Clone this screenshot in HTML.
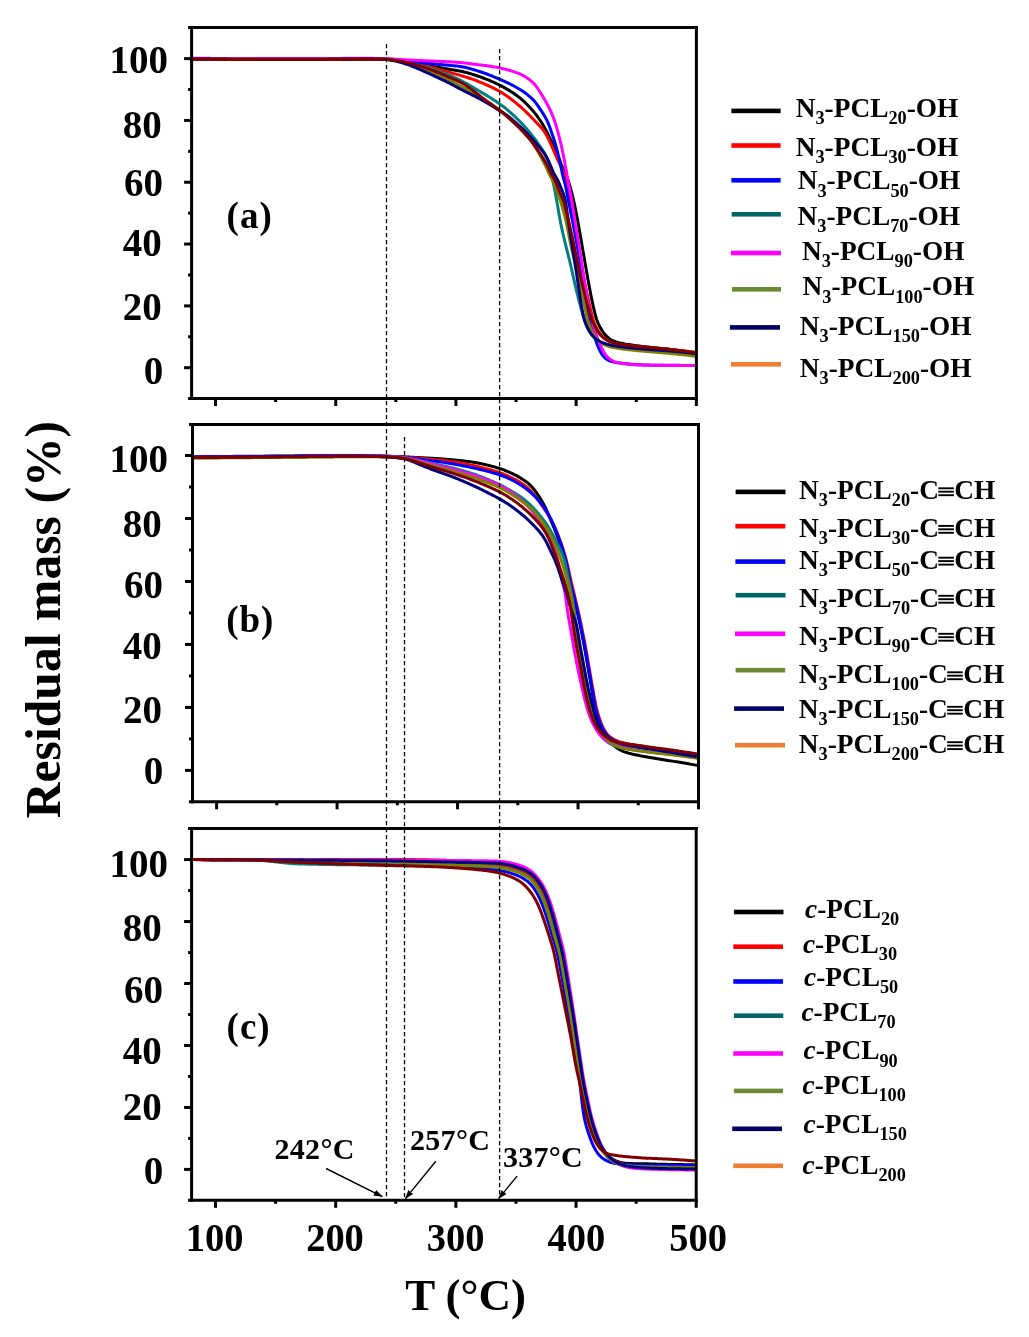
<!DOCTYPE html>
<html><head><meta charset="utf-8"><title>TGA</title>
<style>html,body{margin:0;padding:0;background:#fff;}svg{display:block;will-change:transform;}text{font-family:"Liberation Serif",serif;font-weight:bold;fill:#000;}</style>
</head><body>
<svg width="1029" height="1337" viewBox="0 0 1029 1337">
<rect width="1029" height="1337" fill="#fff"/>
<clipPath id="cla"><rect x="193" y="29" width="502" height="368"/></clipPath>
<g clip-path="url(#cla)" fill="none" stroke-width="3.0" stroke-linejoin="round">
<path d="M192.00,58.90 L193.50,58.91 L195.00,58.91 L196.50,58.92 L198.00,58.93 L199.50,58.93 L201.00,58.94 L202.50,58.94 L204.00,58.95 L205.50,58.96 L207.00,58.96 L208.50,58.97 L210.00,58.97 L211.50,58.98 L213.00,58.98 L214.50,58.99 L216.00,58.99 L217.50,59.00 L219.00,59.00 L220.50,59.01 L222.00,59.01 L223.50,59.01 L225.00,59.02 L226.50,59.02 L228.00,59.03 L229.50,59.03 L231.00,59.03 L232.50,59.04 L234.00,59.04 L235.50,59.04 L237.00,59.05 L238.50,59.05 L240.00,59.05 L241.50,59.05 L243.00,59.06 L244.50,59.06 L246.00,59.06 L247.50,59.06 L249.00,59.07 L250.50,59.07 L252.00,59.07 L253.50,59.07 L255.00,59.08 L256.50,59.08 L258.00,59.08 L259.50,59.08 L261.00,59.08 L262.50,59.08 L264.00,59.08 L265.50,59.09 L267.00,59.09 L268.50,59.09 L270.00,59.09 L271.50,59.09 L273.00,59.09 L274.50,59.09 L276.00,59.09 L277.50,59.09 L279.00,59.10 L280.50,59.10 L282.00,59.10 L283.50,59.10 L285.00,59.10 L286.50,59.10 L288.00,59.10 L289.50,59.10 L291.00,59.10 L292.50,59.10 L294.00,59.10 L295.50,59.10 L297.00,59.10 L298.50,59.10 L300.00,59.10 L301.50,59.10 L303.00,59.10 L304.50,59.10 L306.00,59.09 L307.50,59.09 L309.00,59.09 L310.50,59.09 L312.00,59.08 L313.50,59.08 L315.00,59.08 L316.50,59.07 L318.00,59.07 L319.50,59.06 L321.00,59.06 L322.50,59.05 L324.00,59.05 L325.50,59.04 L327.00,59.04 L328.50,59.03 L330.00,59.02 L331.50,59.02 L333.00,59.01 L334.50,59.01 L336.00,59.00 L337.50,58.99 L339.00,58.99 L340.50,58.98 L342.00,58.98 L343.50,58.97 L345.00,58.96 L346.50,58.96 L348.00,58.95 L349.50,58.95 L351.00,58.94 L352.50,58.94 L354.00,58.93 L355.50,58.93 L357.00,58.92 L358.50,58.92 L360.00,58.92 L361.50,58.91 L363.00,58.91 L364.50,58.91 L366.00,58.91 L367.50,58.90 L369.00,58.90 L370.50,58.90 L372.00,58.91 L373.50,58.91 L375.00,58.92 L376.50,58.93 L378.00,58.94 L379.50,58.96 L381.00,58.99 L382.50,59.04 L384.00,59.09 L385.49,59.17 L386.99,59.26 L388.49,59.37 L389.98,59.50 L391.47,59.65 L392.96,59.82 L394.45,60.01 L395.93,60.21 L397.42,60.42 L398.90,60.63 L400.39,60.84 L401.87,61.06 L403.36,61.27 L404.84,61.48 L406.33,61.69 L407.81,61.91 L409.30,62.12 L410.78,62.34 L412.26,62.56 L413.75,62.79 L415.23,63.03 L416.71,63.27 L418.19,63.52 L419.66,63.78 L421.14,64.05 L422.61,64.33 L424.08,64.62 L425.55,64.91 L427.02,65.21 L428.49,65.52 L429.96,65.82 L431.43,66.11 L432.91,66.40 L434.38,66.69 L435.85,66.97 L437.33,67.24 L438.80,67.51 L440.28,67.77 L441.76,68.04 L443.23,68.29 L444.71,68.55 L446.19,68.80 L447.67,69.04 L449.15,69.28 L450.63,69.52 L452.11,69.75 L453.60,69.98 L455.08,70.21 L456.56,70.45 L458.04,70.70 L459.51,70.98 L460.98,71.27 L462.45,71.59 L463.90,71.93 L465.36,72.29 L466.81,72.67 L468.25,73.07 L469.69,73.49 L471.13,73.92 L472.57,74.36 L474.00,74.80 L475.43,75.26 L476.85,75.73 L478.27,76.21 L479.69,76.70 L481.10,77.20 L482.51,77.72 L483.91,78.24 L485.31,78.78 L486.71,79.33 L488.10,79.89 L489.49,80.46 L490.87,81.05 L492.25,81.64 L493.62,82.25 L494.98,82.88 L496.34,83.51 L497.69,84.17 L499.03,84.83 L500.37,85.51 L501.70,86.20 L503.02,86.91 L504.34,87.62 L505.65,88.35 L506.95,89.10 L508.24,89.86 L509.52,90.64 L510.79,91.44 L512.05,92.25 L513.30,93.08 L514.53,93.93 L515.76,94.80 L516.97,95.68 L518.17,96.58 L519.35,97.50 L520.51,98.45 L521.66,99.41 L522.79,100.40 L523.89,101.41 L524.98,102.44 L526.05,103.49 L527.11,104.55 L528.15,105.63 L529.18,106.72 L530.20,107.82 L531.21,108.93 L532.21,110.05 L533.19,111.18 L534.16,112.32 L535.11,113.48 L536.05,114.65 L536.96,115.84 L537.86,117.04 L538.73,118.26 L539.58,119.49 L540.41,120.74 L541.22,122.00 L542.01,123.28 L542.78,124.57 L543.53,125.86 L544.27,127.16 L545.00,128.48 L545.71,129.79 L546.41,131.12 L547.10,132.45 L547.78,133.79 L548.46,135.13 L549.13,136.47 L549.80,137.81 L550.46,139.16 L551.11,140.51 L551.76,141.86 L552.38,143.22 L553.00,144.59 L553.60,145.97 L554.19,147.35 L554.77,148.73 L555.36,150.11 L555.94,151.49 L556.52,152.88 L557.09,154.26 L557.67,155.64 L558.25,157.03 L558.82,158.41 L559.39,159.80 L559.96,161.19 L560.53,162.58 L561.10,163.96 L561.68,165.35 L562.26,166.73 L562.84,168.11 L563.44,169.49 L564.04,170.86 L564.65,172.23 L565.26,173.60 L565.87,174.98 L566.46,176.35 L567.05,177.73 L567.61,179.12 L568.14,180.52 L568.64,181.93 L569.11,183.36 L569.56,184.79 L569.98,186.22 L570.39,187.67 L570.79,189.11 L571.17,190.56 L571.55,192.01 L571.91,193.47 L572.27,194.92 L572.63,196.38 L572.98,197.84 L573.32,199.30 L573.66,200.76 L573.99,202.23 L574.31,203.69 L574.63,205.16 L574.94,206.62 L575.24,208.09 L575.54,209.56 L575.83,211.03 L576.12,212.51 L576.41,213.98 L576.69,215.45 L576.97,216.92 L577.25,218.40 L577.53,219.87 L577.80,221.35 L578.07,222.82 L578.34,224.30 L578.61,225.77 L578.87,227.25 L579.13,228.73 L579.39,230.21 L579.65,231.68 L579.90,233.16 L580.16,234.64 L580.41,236.12 L580.67,237.60 L580.92,239.07 L581.18,240.55 L581.43,242.03 L581.69,243.51 L581.95,244.99 L582.21,246.46 L582.47,247.94 L582.72,249.42 L582.98,250.90 L583.24,252.37 L583.50,253.85 L583.76,255.33 L584.02,256.81 L584.28,258.28 L584.53,259.76 L584.79,261.24 L585.05,262.72 L585.31,264.19 L585.56,265.67 L585.82,267.15 L586.07,268.63 L586.33,270.11 L586.58,271.59 L586.84,273.06 L587.09,274.54 L587.35,276.02 L587.61,277.50 L587.87,278.97 L588.13,280.45 L588.40,281.93 L588.67,283.40 L588.94,284.88 L589.21,286.35 L589.49,287.83 L589.77,289.30 L590.05,290.77 L590.33,292.25 L590.62,293.72 L590.91,295.19 L591.20,296.66 L591.50,298.13 L591.80,299.60 L592.11,301.07 L592.42,302.54 L592.74,304.00 L593.06,305.47 L593.39,306.93 L593.72,308.40 L594.05,309.86 L594.40,311.32 L594.75,312.77 L595.12,314.23 L595.50,315.68 L595.92,317.12 L596.36,318.55 L596.84,319.96 L597.37,321.36 L597.93,322.75 L598.54,324.12 L599.19,325.47 L599.87,326.80 L600.60,328.11 L601.36,329.39 L602.15,330.66 L602.99,331.90 L603.86,333.11 L604.79,334.28 L605.77,335.40 L606.81,336.45 L607.92,337.45 L609.08,338.36 L610.30,339.21 L611.57,339.97 L612.89,340.64 L614.25,341.23 L615.65,341.75 L617.07,342.21 L618.51,342.60 L619.96,342.96 L621.43,343.28 L622.90,343.58 L624.37,343.86 L625.85,344.12 L627.33,344.36 L628.81,344.59 L630.29,344.82 L631.78,345.03 L633.26,345.23 L634.75,345.43 L636.23,345.63 L637.72,345.83 L639.21,346.02 L640.70,346.21 L642.19,346.39 L643.67,346.58 L645.16,346.76 L646.65,346.93 L648.14,347.11 L649.63,347.28 L651.12,347.44 L652.62,347.61 L654.11,347.76 L655.60,347.92 L657.09,348.07 L658.58,348.21 L660.08,348.36 L661.57,348.50 L663.06,348.65 L664.56,348.80 L666.05,348.95 L667.54,349.11 L669.03,349.28 L670.52,349.45 L672.01,349.63 L673.50,349.82 L674.98,350.01 L676.47,350.21 L677.96,350.41 L679.44,350.62 L680.93,350.84 L682.41,351.06 L683.89,351.28 L685.38,351.51 L686.86,351.75 L688.34,351.99 L689.82,352.23 L691.30,352.48 L692.78,352.74 L694.25,352.99 L695.73,353.25" stroke="#000000"/>
<path d="M192.00,58.90 L193.50,58.91 L195.00,58.91 L196.50,58.92 L198.00,58.93 L199.50,58.93 L201.00,58.94 L202.50,58.94 L204.00,58.95 L205.50,58.96 L207.00,58.96 L208.50,58.97 L210.00,58.97 L211.50,58.98 L213.00,58.98 L214.50,58.99 L216.00,58.99 L217.50,59.00 L219.00,59.00 L220.50,59.01 L222.00,59.01 L223.50,59.01 L225.00,59.02 L226.50,59.02 L228.00,59.03 L229.50,59.03 L231.00,59.03 L232.50,59.04 L234.00,59.04 L235.50,59.04 L237.00,59.05 L238.50,59.05 L240.00,59.05 L241.50,59.05 L243.00,59.06 L244.50,59.06 L246.00,59.06 L247.50,59.06 L249.00,59.07 L250.50,59.07 L252.00,59.07 L253.50,59.07 L255.00,59.08 L256.50,59.08 L258.00,59.08 L259.50,59.08 L261.00,59.08 L262.50,59.08 L264.00,59.08 L265.50,59.09 L267.00,59.09 L268.50,59.09 L270.00,59.09 L271.50,59.09 L273.00,59.09 L274.50,59.09 L276.00,59.09 L277.50,59.09 L279.00,59.10 L280.50,59.10 L282.00,59.10 L283.50,59.10 L285.00,59.10 L286.50,59.10 L288.00,59.10 L289.50,59.10 L291.00,59.10 L292.50,59.10 L294.00,59.10 L295.50,59.10 L297.00,59.10 L298.50,59.10 L300.00,59.10 L301.50,59.10 L303.00,59.10 L304.50,59.10 L306.00,59.09 L307.50,59.09 L309.00,59.09 L310.50,59.09 L312.00,59.08 L313.50,59.08 L315.00,59.08 L316.50,59.07 L318.00,59.07 L319.50,59.06 L321.00,59.06 L322.50,59.05 L324.00,59.05 L325.50,59.04 L327.00,59.04 L328.50,59.03 L330.00,59.02 L331.50,59.02 L333.00,59.01 L334.50,59.01 L336.00,59.00 L337.50,58.99 L339.00,58.99 L340.50,58.98 L342.00,58.98 L343.50,58.97 L345.00,58.96 L346.50,58.96 L348.00,58.95 L349.50,58.95 L351.00,58.94 L352.50,58.94 L354.00,58.93 L355.50,58.93 L357.00,58.92 L358.50,58.92 L360.00,58.92 L361.50,58.91 L363.00,58.91 L364.50,58.91 L366.00,58.91 L367.50,58.90 L369.00,58.90 L370.50,58.90 L372.00,58.91 L373.50,58.91 L375.00,58.92 L376.50,58.93 L378.00,58.94 L379.50,58.96 L381.00,58.99 L382.50,59.04 L384.00,59.09 L385.49,59.17 L386.99,59.26 L388.48,59.38 L389.98,59.52 L391.47,59.69 L392.95,59.87 L394.44,60.08 L395.92,60.30 L397.40,60.53 L398.88,60.77 L400.36,61.02 L401.84,61.26 L403.32,61.51 L404.80,61.76 L406.28,62.01 L407.76,62.26 L409.24,62.52 L410.71,62.79 L412.19,63.07 L413.66,63.35 L415.13,63.64 L416.60,63.94 L418.07,64.24 L419.54,64.56 L421.00,64.89 L422.46,65.23 L423.92,65.57 L425.38,65.93 L426.83,66.30 L428.28,66.67 L429.74,67.04 L431.19,67.42 L432.64,67.80 L434.09,68.19 L435.54,68.58 L436.99,68.96 L438.43,69.36 L439.88,69.75 L441.33,70.15 L442.77,70.55 L444.22,70.95 L445.66,71.35 L447.11,71.75 L448.55,72.15 L450.00,72.54 L451.45,72.94 L452.90,73.33 L454.35,73.72 L455.79,74.12 L457.24,74.51 L458.68,74.92 L460.12,75.34 L461.56,75.76 L463.00,76.19 L464.43,76.63 L465.87,77.07 L467.30,77.53 L468.72,77.99 L470.15,78.46 L471.57,78.94 L472.98,79.44 L474.39,79.94 L475.80,80.46 L477.20,80.99 L478.60,81.53 L480.00,82.09 L481.38,82.65 L482.77,83.23 L484.15,83.82 L485.52,84.42 L486.89,85.03 L488.26,85.65 L489.62,86.27 L490.98,86.91 L492.33,87.56 L493.68,88.22 L495.02,88.90 L496.35,89.59 L497.66,90.30 L498.97,91.03 L500.27,91.78 L501.56,92.56 L502.83,93.35 L504.09,94.16 L505.34,94.98 L506.58,95.82 L507.81,96.68 L509.03,97.55 L510.24,98.44 L511.44,99.34 L512.63,100.25 L513.81,101.18 L514.97,102.12 L516.13,103.08 L517.28,104.04 L518.42,105.02 L519.55,106.00 L520.68,106.99 L521.80,107.99 L522.91,108.99 L524.02,110.00 L525.12,111.02 L526.21,112.05 L527.29,113.09 L528.36,114.14 L529.42,115.21 L530.47,116.28 L531.51,117.36 L532.54,118.44 L533.57,119.53 L534.60,120.62 L535.64,121.71 L536.68,122.79 L537.72,123.87 L538.76,124.94 L539.80,126.03 L540.81,127.12 L541.80,128.25 L542.74,129.41 L543.63,130.60 L544.46,131.84 L545.26,133.10 L546.02,134.39 L546.75,135.70 L547.45,137.02 L548.14,138.36 L548.80,139.70 L549.46,141.05 L550.10,142.41 L550.72,143.77 L551.34,145.14 L551.95,146.51 L552.54,147.88 L553.13,149.26 L553.71,150.64 L554.29,152.03 L554.88,153.41 L555.47,154.79 L556.07,156.16 L556.68,157.53 L557.31,158.89 L557.95,160.25 L558.60,161.60 L559.25,162.95 L559.90,164.30 L560.55,165.65 L561.19,167.01 L561.81,168.38 L562.40,169.75 L562.97,171.14 L563.52,172.53 L564.06,173.93 L564.61,175.32 L565.16,176.71 L565.72,178.10 L566.25,179.49 L566.76,180.89 L567.22,182.31 L567.62,183.75 L567.98,185.20 L568.31,186.66 L568.60,188.13 L568.88,189.60 L569.15,191.08 L569.41,192.55 L569.67,194.03 L569.93,195.51 L570.19,196.99 L570.45,198.46 L570.72,199.94 L570.98,201.42 L571.25,202.89 L571.52,204.37 L571.78,205.84 L572.05,207.32 L572.31,208.80 L572.57,210.28 L572.83,211.75 L573.08,213.23 L573.34,214.71 L573.59,216.19 L573.84,217.67 L574.09,219.15 L574.34,220.62 L574.59,222.10 L574.83,223.58 L575.07,225.06 L575.31,226.55 L575.55,228.03 L575.79,229.51 L576.02,230.99 L576.26,232.47 L576.49,233.95 L576.73,235.43 L576.96,236.91 L577.20,238.40 L577.43,239.88 L577.67,241.36 L577.91,242.84 L578.15,244.32 L578.39,245.80 L578.63,247.28 L578.87,248.76 L579.11,250.24 L579.36,251.72 L579.60,253.20 L579.84,254.68 L580.09,256.16 L580.34,257.64 L580.58,259.12 L580.83,260.60 L581.08,262.08 L581.33,263.56 L581.58,265.04 L581.82,266.52 L582.07,268.00 L582.32,269.48 L582.57,270.96 L582.82,272.43 L583.08,273.91 L583.33,275.39 L583.59,276.87 L583.85,278.35 L584.12,279.82 L584.39,281.30 L584.67,282.77 L584.96,284.24 L585.25,285.71 L585.55,287.18 L585.86,288.65 L586.17,290.12 L586.49,291.58 L586.82,293.05 L587.15,294.51 L587.48,295.97 L587.82,297.43 L588.16,298.90 L588.50,300.36 L588.84,301.82 L589.18,303.28 L589.51,304.74 L589.85,306.20 L590.17,307.67 L590.50,309.13 L590.83,310.59 L591.15,312.06 L591.49,313.52 L591.84,314.98 L592.21,316.43 L592.61,317.87 L593.04,319.31 L593.51,320.73 L594.02,322.13 L594.57,323.52 L595.17,324.90 L595.80,326.25 L596.48,327.59 L597.18,328.91 L597.93,330.21 L598.71,331.48 L599.54,332.72 L600.41,333.93 L601.34,335.09 L602.33,336.20 L603.39,337.24 L604.51,338.20 L605.70,339.10 L606.94,339.91 L608.23,340.64 L609.56,341.30 L610.93,341.88 L612.33,342.40 L613.75,342.85 L615.19,343.26 L616.64,343.61 L618.10,343.93 L619.58,344.21 L621.05,344.47 L622.53,344.70 L624.02,344.91 L625.50,345.10 L626.99,345.29 L628.48,345.46 L629.97,345.62 L631.47,345.78 L632.96,345.94 L634.45,346.09 L635.94,346.24 L637.43,346.39 L638.93,346.54 L640.42,346.69 L641.91,346.83 L643.41,346.98 L644.90,347.12 L646.39,347.25 L647.89,347.39 L649.38,347.52 L650.88,347.65 L652.37,347.78 L653.86,347.91 L655.36,348.03 L656.85,348.16 L658.35,348.29 L659.84,348.42 L661.34,348.55 L662.83,348.69 L664.32,348.83 L665.82,348.97 L667.31,349.11 L668.80,349.26 L670.30,349.41 L671.79,349.56 L673.28,349.72 L674.77,349.88 L676.26,350.04 L677.75,350.21 L679.24,350.38 L680.73,350.55 L682.22,350.72 L683.71,350.89 L685.20,351.07 L686.69,351.25 L688.18,351.43 L689.67,351.61 L691.16,351.79 L692.65,351.98 L694.14,352.17 L695.62,352.35" stroke="#ff0000"/>
<path d="M192.00,58.40 L193.50,58.41 L195.00,58.41 L196.50,58.42 L198.00,58.43 L199.50,58.43 L201.00,58.44 L202.50,58.44 L204.00,58.45 L205.50,58.46 L207.00,58.46 L208.50,58.47 L210.00,58.47 L211.50,58.48 L213.00,58.48 L214.50,58.49 L216.00,58.49 L217.50,58.50 L219.00,58.50 L220.50,58.51 L222.00,58.51 L223.50,58.51 L225.00,58.52 L226.50,58.52 L228.00,58.53 L229.50,58.53 L231.00,58.53 L232.50,58.54 L234.00,58.54 L235.50,58.54 L237.00,58.55 L238.50,58.55 L240.00,58.55 L241.50,58.55 L243.00,58.56 L244.50,58.56 L246.00,58.56 L247.50,58.56 L249.00,58.57 L250.50,58.57 L252.00,58.57 L253.50,58.57 L255.00,58.58 L256.50,58.58 L258.00,58.58 L259.50,58.58 L261.00,58.58 L262.50,58.58 L264.00,58.58 L265.50,58.59 L267.00,58.59 L268.50,58.59 L270.00,58.59 L271.50,58.59 L273.00,58.59 L274.50,58.59 L276.00,58.59 L277.50,58.59 L279.00,58.60 L280.50,58.60 L282.00,58.60 L283.50,58.60 L285.00,58.60 L286.50,58.60 L288.00,58.60 L289.50,58.60 L291.00,58.60 L292.50,58.60 L294.00,58.60 L295.50,58.60 L297.00,58.60 L298.50,58.60 L300.00,58.60 L301.50,58.60 L303.00,58.60 L304.50,58.60 L306.00,58.59 L307.50,58.59 L309.00,58.59 L310.50,58.59 L312.00,58.58 L313.50,58.58 L315.00,58.58 L316.50,58.57 L318.00,58.57 L319.50,58.56 L321.00,58.56 L322.50,58.55 L324.00,58.55 L325.50,58.54 L327.00,58.54 L328.50,58.53 L330.00,58.52 L331.50,58.52 L333.00,58.51 L334.50,58.51 L336.00,58.50 L337.50,58.49 L339.00,58.49 L340.50,58.48 L342.00,58.48 L343.50,58.47 L345.00,58.46 L346.50,58.46 L348.00,58.45 L349.50,58.45 L351.00,58.44 L352.50,58.44 L354.00,58.43 L355.50,58.43 L357.00,58.42 L358.50,58.42 L360.00,58.42 L361.50,58.41 L363.00,58.41 L364.50,58.41 L366.00,58.41 L367.50,58.41 L369.00,58.41 L370.50,58.41 L372.00,58.43 L373.50,58.45 L375.00,58.48 L376.50,58.52 L378.00,58.57 L379.50,58.62 L380.99,58.68 L382.49,58.75 L383.99,58.82 L385.49,58.90 L386.99,59.00 L388.48,59.10 L389.98,59.21 L391.47,59.33 L392.97,59.46 L394.46,59.60 L395.95,59.74 L397.45,59.89 L398.94,60.04 L400.43,60.20 L401.92,60.35 L403.41,60.51 L404.90,60.67 L406.40,60.84 L407.89,61.01 L409.38,61.18 L410.87,61.35 L412.36,61.52 L413.85,61.70 L415.34,61.87 L416.83,62.05 L418.32,62.22 L419.81,62.39 L421.30,62.56 L422.79,62.73 L424.28,62.90 L425.77,63.06 L427.26,63.23 L428.75,63.39 L430.24,63.55 L431.73,63.71 L433.23,63.86 L434.72,64.01 L436.21,64.16 L437.70,64.30 L439.20,64.44 L440.69,64.57 L442.19,64.71 L443.68,64.84 L445.17,64.97 L446.67,65.10 L448.16,65.23 L449.66,65.36 L451.15,65.49 L452.64,65.62 L454.14,65.76 L455.63,65.90 L457.12,66.06 L458.61,66.24 L460.09,66.44 L461.57,66.68 L463.05,66.94 L464.52,67.24 L465.98,67.58 L467.43,67.93 L468.88,68.31 L470.33,68.71 L471.77,69.12 L473.21,69.54 L474.65,69.97 L476.08,70.40 L477.52,70.85 L478.94,71.31 L480.37,71.77 L481.79,72.25 L483.21,72.75 L484.62,73.25 L486.03,73.76 L487.43,74.28 L488.84,74.82 L490.24,75.35 L491.63,75.90 L493.02,76.46 L494.41,77.03 L495.79,77.61 L497.18,78.20 L498.55,78.79 L499.93,79.39 L501.30,79.99 L502.68,80.59 L504.05,81.20 L505.41,81.82 L506.78,82.45 L508.13,83.09 L509.48,83.74 L510.83,84.41 L512.16,85.09 L513.49,85.78 L514.81,86.49 L516.12,87.22 L517.42,87.96 L518.72,88.72 L520.00,89.50 L521.27,90.30 L522.52,91.12 L523.76,91.96 L524.99,92.82 L526.19,93.71 L527.38,94.62 L528.55,95.56 L529.69,96.53 L530.81,97.52 L531.90,98.54 L532.96,99.60 L533.98,100.69 L534.95,101.83 L535.88,102.99 L536.77,104.19 L537.63,105.42 L538.47,106.66 L539.30,107.91 L540.12,109.16 L540.95,110.41 L541.79,111.66 L542.61,112.91 L543.43,114.17 L544.22,115.44 L544.99,116.73 L545.72,118.03 L546.42,119.36 L547.08,120.70 L547.71,122.06 L548.30,123.43 L548.86,124.82 L549.39,126.22 L549.91,127.63 L550.41,129.04 L550.90,130.46 L551.39,131.88 L551.89,133.29 L552.38,134.71 L552.87,136.13 L553.35,137.55 L553.82,138.97 L554.27,140.40 L554.72,141.83 L555.15,143.27 L555.57,144.71 L555.98,146.15 L556.37,147.60 L556.75,149.05 L557.13,150.50 L557.49,151.96 L557.86,153.41 L558.22,154.87 L558.59,156.32 L558.95,157.78 L559.30,159.23 L559.65,160.69 L559.99,162.15 L560.31,163.62 L560.62,165.09 L560.92,166.56 L561.21,168.03 L561.50,169.50 L561.79,170.97 L562.08,172.44 L562.39,173.91 L562.72,175.36 L563.09,176.81 L563.48,178.26 L563.90,179.69 L564.31,181.13 L564.70,182.57 L565.08,184.02 L565.42,185.48 L565.75,186.94 L566.05,188.41 L566.35,189.88 L566.64,191.35 L566.92,192.83 L567.20,194.30 L567.48,195.77 L567.77,197.25 L568.05,198.72 L568.34,200.19 L568.64,201.66 L568.93,203.13 L569.23,204.60 L569.53,206.07 L569.82,207.54 L570.12,209.01 L570.41,210.48 L570.71,211.96 L571.00,213.43 L571.29,214.90 L571.58,216.37 L571.87,217.84 L572.16,219.31 L572.45,220.78 L572.74,222.26 L573.03,223.73 L573.31,225.20 L573.60,226.67 L573.88,228.15 L574.17,229.62 L574.45,231.09 L574.73,232.57 L575.01,234.04 L575.29,235.51 L575.56,236.99 L575.84,238.46 L576.11,239.94 L576.39,241.41 L576.66,242.89 L576.93,244.36 L577.20,245.84 L577.46,247.32 L577.73,248.79 L577.99,250.27 L578.26,251.74 L578.52,253.22 L578.78,254.70 L579.03,256.18 L579.29,257.66 L579.54,259.13 L579.79,260.61 L580.03,262.09 L580.27,263.57 L580.51,265.06 L580.74,266.54 L580.97,268.02 L581.19,269.50 L581.41,270.99 L581.63,272.47 L581.85,273.95 L582.07,275.44 L582.29,276.92 L582.51,278.41 L582.73,279.89 L582.95,281.37 L583.18,282.86 L583.41,284.34 L583.64,285.82 L583.87,287.30 L584.11,288.78 L584.35,290.26 L584.59,291.75 L584.83,293.23 L585.07,294.71 L585.32,296.19 L585.56,297.66 L585.81,299.14 L586.06,300.62 L586.31,302.10 L586.56,303.58 L586.81,305.06 L587.06,306.54 L587.30,308.02 L587.55,309.50 L587.80,310.98 L588.05,312.46 L588.31,313.93 L588.58,315.41 L588.85,316.88 L589.15,318.35 L589.46,319.82 L589.79,321.28 L590.14,322.74 L590.51,324.19 L590.89,325.64 L591.29,327.09 L591.70,328.53 L592.13,329.97 L592.56,331.41 L593.00,332.84 L593.46,334.27 L593.94,335.69 L594.44,337.10 L594.95,338.51 L595.48,339.91 L596.00,341.32 L596.54,342.72 L597.07,344.12 L597.62,345.51 L598.19,346.90 L598.78,348.28 L599.40,349.64 L600.06,350.98 L600.77,352.30 L601.52,353.59 L602.33,354.83 L603.21,356.02 L604.17,357.13 L605.22,358.14 L606.37,359.05 L607.59,359.83 L608.90,360.49 L610.26,361.04 L611.67,361.49 L613.11,361.86 L614.57,362.17 L616.04,362.44 L617.52,362.67 L619.01,362.89 L620.49,363.09 L621.98,363.27 L623.47,363.44 L624.96,363.61 L626.45,363.76 L627.94,363.91 L629.44,364.06 L630.93,364.19 L632.43,364.32 L633.92,364.43 L635.42,364.54 L636.91,364.63 L638.41,364.72 L639.91,364.80 L641.41,364.87 L642.91,364.93 L644.41,364.99 L645.90,365.04 L647.40,365.09 L648.90,365.12 L650.40,365.16 L651.90,365.18 L653.40,365.20 L654.90,365.22 L656.40,365.23 L657.90,365.24 L659.40,365.25 L660.90,365.26 L662.40,365.27 L663.90,365.28 L665.40,365.28 L666.90,365.29 L668.40,365.30 L669.90,365.31 L671.40,365.32 L672.90,365.33 L674.40,365.34 L675.90,365.35 L677.40,365.36 L678.90,365.37 L680.40,365.38 L681.90,365.39 L683.40,365.40 L684.90,365.41 L686.40,365.42 L687.90,365.43 L689.40,365.45 L690.90,365.46 L692.40,365.47 L693.90,365.48 L695.40,365.49" stroke="#0000ff"/>
<path d="M192.00,58.90 L193.50,58.91 L195.00,58.91 L196.50,58.92 L198.00,58.93 L199.50,58.93 L201.00,58.94 L202.50,58.94 L204.00,58.95 L205.50,58.96 L207.00,58.96 L208.50,58.97 L210.00,58.97 L211.50,58.98 L213.00,58.98 L214.50,58.99 L216.00,58.99 L217.50,59.00 L219.00,59.00 L220.50,59.01 L222.00,59.01 L223.50,59.01 L225.00,59.02 L226.50,59.02 L228.00,59.03 L229.50,59.03 L231.00,59.03 L232.50,59.04 L234.00,59.04 L235.50,59.04 L237.00,59.05 L238.50,59.05 L240.00,59.05 L241.50,59.05 L243.00,59.06 L244.50,59.06 L246.00,59.06 L247.50,59.06 L249.00,59.07 L250.50,59.07 L252.00,59.07 L253.50,59.07 L255.00,59.08 L256.50,59.08 L258.00,59.08 L259.50,59.08 L261.00,59.08 L262.50,59.08 L264.00,59.08 L265.50,59.09 L267.00,59.09 L268.50,59.09 L270.00,59.09 L271.50,59.09 L273.00,59.09 L274.50,59.09 L276.00,59.09 L277.50,59.09 L279.00,59.10 L280.50,59.10 L282.00,59.10 L283.50,59.10 L285.00,59.10 L286.50,59.10 L288.00,59.10 L289.50,59.10 L291.00,59.10 L292.50,59.10 L294.00,59.10 L295.50,59.10 L297.00,59.10 L298.50,59.10 L300.00,59.10 L301.50,59.10 L303.00,59.10 L304.50,59.10 L306.00,59.09 L307.50,59.09 L309.00,59.09 L310.50,59.09 L312.00,59.08 L313.50,59.08 L315.00,59.08 L316.50,59.07 L318.00,59.07 L319.50,59.06 L321.00,59.06 L322.50,59.05 L324.00,59.05 L325.50,59.04 L327.00,59.04 L328.50,59.03 L330.00,59.02 L331.50,59.02 L333.00,59.01 L334.50,59.01 L336.00,59.00 L337.50,58.99 L339.00,58.99 L340.50,58.98 L342.00,58.98 L343.50,58.97 L345.00,58.96 L346.50,58.96 L348.00,58.95 L349.50,58.95 L351.00,58.94 L352.50,58.94 L354.00,58.93 L355.50,58.93 L357.00,58.92 L358.50,58.92 L360.00,58.92 L361.50,58.91 L363.00,58.91 L364.50,58.91 L366.00,58.91 L367.50,58.90 L369.00,58.90 L370.50,58.90 L372.00,58.91 L373.50,58.91 L375.00,58.92 L376.50,58.93 L378.00,58.94 L379.50,58.96 L381.00,58.99 L382.50,59.04 L384.00,59.09 L385.49,59.17 L386.99,59.27 L388.48,59.39 L389.97,59.53 L391.46,59.70 L392.95,59.90 L394.43,60.12 L395.91,60.35 L397.39,60.60 L398.87,60.86 L400.35,61.12 L401.82,61.40 L403.30,61.67 L404.77,61.96 L406.24,62.25 L407.71,62.55 L409.18,62.86 L410.64,63.19 L412.10,63.52 L413.56,63.86 L415.02,64.21 L416.48,64.57 L417.93,64.94 L419.38,65.32 L420.83,65.71 L422.28,66.11 L423.72,66.51 L425.16,66.93 L426.60,67.36 L428.03,67.79 L429.47,68.24 L430.89,68.69 L432.32,69.16 L433.75,69.63 L435.17,70.11 L436.58,70.59 L438.00,71.09 L439.41,71.60 L440.82,72.12 L442.22,72.64 L443.63,73.17 L445.03,73.71 L446.42,74.26 L447.82,74.81 L449.21,75.36 L450.60,75.92 L451.99,76.49 L453.38,77.06 L454.76,77.64 L456.14,78.23 L457.51,78.85 L458.87,79.48 L460.22,80.13 L461.56,80.80 L462.89,81.49 L464.21,82.21 L465.51,82.94 L466.82,83.68 L468.11,84.44 L469.40,85.20 L470.69,85.97 L471.98,86.74 L473.27,87.51 L474.55,88.28 L475.84,89.04 L477.14,89.81 L478.43,90.57 L479.72,91.33 L481.01,92.10 L482.30,92.86 L483.59,93.63 L484.87,94.40 L486.16,95.18 L487.44,95.96 L488.71,96.74 L489.99,97.53 L491.26,98.33 L492.53,99.13 L493.79,99.94 L495.05,100.76 L496.30,101.58 L497.55,102.42 L498.79,103.26 L500.01,104.12 L501.23,105.00 L502.44,105.89 L503.64,106.79 L504.82,107.71 L506.00,108.64 L507.15,109.59 L508.30,110.56 L509.43,111.54 L510.55,112.54 L511.66,113.54 L512.77,114.56 L513.86,115.59 L514.95,116.62 L516.03,117.66 L517.10,118.71 L518.17,119.76 L519.22,120.83 L520.27,121.90 L521.31,122.98 L522.34,124.07 L523.36,125.17 L524.37,126.28 L525.38,127.39 L526.37,128.52 L527.35,129.65 L528.32,130.79 L529.29,131.94 L530.24,133.10 L531.19,134.26 L532.12,135.43 L533.05,136.62 L533.96,137.81 L534.85,139.01 L535.73,140.22 L536.60,141.45 L537.46,142.68 L538.31,143.91 L539.16,145.14 L540.01,146.38 L540.86,147.61 L541.71,148.85 L542.54,150.10 L543.35,151.36 L544.14,152.63 L544.88,153.93 L545.59,155.25 L546.26,156.59 L546.88,157.95 L547.47,159.32 L548.02,160.72 L548.53,162.12 L549.01,163.54 L549.44,164.97 L549.83,166.42 L550.16,167.88 L550.45,169.34 L550.69,170.82 L550.91,172.30 L551.12,173.77 L551.36,175.24 L551.64,176.70 L551.97,178.15 L552.35,179.58 L552.75,181.01 L553.15,182.45 L553.52,183.90 L553.86,185.35 L554.18,186.81 L554.48,188.28 L554.76,189.76 L555.03,191.23 L555.29,192.71 L555.55,194.19 L555.81,195.66 L556.08,197.14 L556.34,198.62 L556.60,200.09 L556.86,201.57 L557.13,203.05 L557.39,204.52 L557.64,206.00 L557.90,207.48 L558.15,208.96 L558.40,210.44 L558.65,211.92 L558.90,213.40 L559.16,214.87 L559.42,216.35 L559.68,217.83 L559.95,219.30 L560.23,220.78 L560.52,222.25 L560.81,223.72 L561.11,225.19 L561.42,226.66 L561.74,228.12 L562.06,229.59 L562.38,231.05 L562.71,232.52 L563.05,233.98 L563.39,235.44 L563.73,236.90 L564.07,238.36 L564.42,239.82 L564.77,241.28 L565.12,242.74 L565.47,244.19 L565.83,245.65 L566.19,247.11 L566.55,248.56 L566.92,250.02 L567.28,251.47 L567.65,252.93 L568.02,254.38 L568.39,255.83 L568.76,257.29 L569.12,258.74 L569.49,260.20 L569.84,261.65 L570.19,263.11 L570.54,264.57 L570.88,266.03 L571.22,267.50 L571.55,268.96 L571.88,270.42 L572.20,271.89 L572.53,273.35 L572.85,274.81 L573.17,276.28 L573.50,277.74 L573.83,279.21 L574.16,280.67 L574.49,282.13 L574.83,283.59 L575.17,285.06 L575.51,286.52 L575.86,287.97 L576.21,289.43 L576.56,290.89 L576.92,292.35 L577.27,293.81 L577.63,295.26 L578.00,296.72 L578.36,298.17 L578.73,299.63 L579.11,301.08 L579.49,302.53 L579.87,303.98 L580.26,305.43 L580.66,306.87 L581.05,308.32 L581.45,309.77 L581.86,311.21 L582.27,312.65 L582.70,314.09 L583.14,315.52 L583.60,316.95 L584.08,318.37 L584.58,319.78 L585.11,321.18 L585.66,322.58 L586.25,323.96 L586.86,325.33 L587.49,326.68 L588.15,328.03 L588.84,329.36 L589.55,330.68 L590.29,331.98 L591.06,333.26 L591.88,334.50 L592.76,335.71 L593.69,336.87 L594.68,337.97 L595.74,339.01 L596.87,339.98 L598.05,340.88 L599.28,341.71 L600.56,342.46 L601.88,343.14 L603.24,343.75 L604.63,344.30 L606.04,344.79 L607.47,345.23 L608.91,345.63 L610.37,345.98 L611.83,346.30 L613.30,346.58 L614.78,346.85 L616.26,347.09 L617.74,347.31 L619.22,347.53 L620.71,347.73 L622.20,347.93 L623.68,348.13 L625.17,348.31 L626.66,348.50 L628.15,348.68 L629.64,348.85 L631.13,349.02 L632.62,349.19 L634.11,349.35 L635.60,349.50 L637.10,349.65 L638.59,349.80 L640.08,349.94 L641.58,350.08 L643.07,350.22 L644.56,350.35 L646.06,350.48 L647.55,350.61 L649.05,350.73 L650.54,350.85 L652.04,350.97 L653.53,351.08 L655.03,351.20 L656.52,351.30 L658.02,351.41 L659.52,351.52 L661.01,351.62 L662.51,351.73 L664.01,351.83 L665.50,351.94 L667.00,352.06 L668.49,352.17 L669.99,352.30 L671.48,352.42 L672.98,352.55 L674.47,352.69 L675.96,352.83 L677.46,352.97 L678.95,353.11 L680.44,353.26 L681.94,353.41 L683.43,353.57 L684.92,353.73 L686.41,353.89 L687.90,354.06 L689.39,354.22 L690.88,354.39 L692.37,354.57 L693.86,354.74 L695.35,354.92" stroke="#008080"/>
<path d="M192.00,58.30 L193.50,58.31 L195.00,58.31 L196.50,58.32 L198.00,58.33 L199.50,58.33 L201.00,58.34 L202.50,58.34 L204.00,58.35 L205.50,58.36 L207.00,58.36 L208.50,58.37 L210.00,58.37 L211.50,58.38 L213.00,58.38 L214.50,58.39 L216.00,58.39 L217.50,58.40 L219.00,58.40 L220.50,58.41 L222.00,58.41 L223.50,58.41 L225.00,58.42 L226.50,58.42 L228.00,58.43 L229.50,58.43 L231.00,58.43 L232.50,58.44 L234.00,58.44 L235.50,58.44 L237.00,58.45 L238.50,58.45 L240.00,58.45 L241.50,58.45 L243.00,58.46 L244.50,58.46 L246.00,58.46 L247.50,58.46 L249.00,58.47 L250.50,58.47 L252.00,58.47 L253.50,58.47 L255.00,58.48 L256.50,58.48 L258.00,58.48 L259.50,58.48 L261.00,58.48 L262.50,58.48 L264.00,58.48 L265.50,58.49 L267.00,58.49 L268.50,58.49 L270.00,58.49 L271.50,58.49 L273.00,58.49 L274.50,58.49 L276.00,58.49 L277.50,58.49 L279.00,58.50 L280.50,58.50 L282.00,58.50 L283.50,58.50 L285.00,58.50 L286.50,58.50 L288.00,58.50 L289.50,58.50 L291.00,58.50 L292.50,58.50 L294.00,58.50 L295.50,58.50 L297.00,58.50 L298.50,58.50 L300.00,58.50 L301.50,58.50 L303.00,58.50 L304.50,58.50 L306.00,58.49 L307.50,58.49 L309.00,58.49 L310.50,58.49 L312.00,58.48 L313.50,58.48 L315.00,58.48 L316.50,58.47 L318.00,58.47 L319.50,58.46 L321.00,58.46 L322.50,58.45 L324.00,58.45 L325.50,58.44 L327.00,58.44 L328.50,58.43 L330.00,58.42 L331.50,58.42 L333.00,58.41 L334.50,58.41 L336.00,58.40 L337.50,58.39 L339.00,58.39 L340.50,58.38 L342.00,58.38 L343.50,58.37 L345.00,58.36 L346.50,58.36 L348.00,58.35 L349.50,58.35 L351.00,58.34 L352.50,58.34 L354.00,58.33 L355.50,58.33 L357.00,58.32 L358.50,58.32 L360.00,58.32 L361.50,58.31 L363.00,58.31 L364.50,58.31 L366.00,58.31 L367.50,58.31 L369.00,58.31 L370.50,58.32 L372.00,58.33 L373.50,58.36 L375.00,58.39 L376.50,58.43 L378.00,58.48 L379.50,58.52 L380.99,58.57 L382.49,58.61 L383.99,58.65 L385.49,58.70 L386.99,58.75 L388.49,58.81 L389.99,58.88 L391.49,58.96 L392.98,59.05 L394.48,59.14 L395.98,59.24 L397.47,59.34 L398.97,59.44 L400.47,59.53 L401.96,59.63 L403.46,59.72 L404.96,59.80 L406.46,59.88 L407.96,59.96 L409.45,60.04 L410.95,60.12 L412.45,60.19 L413.95,60.26 L415.45,60.34 L416.94,60.40 L418.44,60.47 L419.94,60.54 L421.44,60.60 L422.94,60.66 L424.44,60.72 L425.94,60.78 L427.44,60.84 L428.93,60.90 L430.43,60.96 L431.93,61.02 L433.43,61.08 L434.93,61.14 L436.43,61.20 L437.93,61.27 L439.43,61.33 L440.92,61.40 L442.42,61.46 L443.92,61.53 L445.42,61.60 L446.92,61.67 L448.42,61.75 L449.91,61.82 L451.41,61.90 L452.91,61.99 L454.41,62.08 L455.90,62.17 L457.40,62.28 L458.89,62.39 L460.39,62.52 L461.88,62.66 L463.37,62.81 L464.86,62.98 L466.35,63.16 L467.84,63.35 L469.33,63.55 L470.81,63.75 L472.30,63.95 L473.79,64.14 L475.28,64.33 L476.76,64.52 L478.25,64.70 L479.74,64.88 L481.23,65.06 L482.72,65.24 L484.21,65.42 L485.70,65.61 L487.18,65.81 L488.67,66.01 L490.15,66.23 L491.64,66.46 L493.11,66.70 L494.59,66.96 L496.07,67.24 L497.54,67.53 L499.01,67.83 L500.47,68.14 L501.94,68.46 L503.40,68.80 L504.86,69.14 L506.31,69.51 L507.77,69.88 L509.21,70.28 L510.65,70.69 L512.09,71.12 L513.52,71.58 L514.94,72.05 L516.35,72.55 L517.75,73.08 L519.14,73.64 L520.51,74.24 L521.86,74.88 L523.19,75.57 L524.49,76.30 L525.77,77.08 L527.02,77.90 L528.25,78.76 L529.44,79.66 L530.61,80.59 L531.75,81.56 L532.85,82.57 L533.90,83.63 L534.91,84.73 L535.86,85.87 L536.76,87.06 L537.62,88.28 L538.45,89.53 L539.26,90.79 L540.06,92.06 L540.85,93.34 L541.63,94.61 L542.42,95.89 L543.19,97.18 L543.96,98.47 L544.72,99.76 L545.47,101.06 L546.21,102.36 L546.94,103.67 L547.65,104.99 L548.35,106.32 L549.03,107.65 L549.70,109.00 L550.34,110.35 L550.96,111.71 L551.57,113.09 L552.15,114.47 L552.71,115.86 L553.24,117.26 L553.76,118.67 L554.26,120.08 L554.75,121.50 L555.22,122.92 L555.68,124.35 L556.12,125.78 L556.56,127.22 L556.98,128.65 L557.39,130.10 L557.79,131.54 L558.18,132.99 L558.55,134.44 L558.92,135.90 L559.29,137.35 L559.65,138.81 L560.02,140.26 L560.38,141.72 L560.74,143.17 L561.09,144.63 L561.43,146.09 L561.75,147.56 L562.07,149.02 L562.37,150.49 L562.67,151.96 L562.96,153.43 L563.26,154.90 L563.55,156.37 L563.84,157.85 L564.13,159.32 L564.42,160.79 L564.70,162.26 L564.98,163.74 L565.25,165.21 L565.52,166.69 L565.78,168.16 L566.04,169.64 L566.30,171.12 L566.55,172.60 L566.81,174.08 L567.06,175.55 L567.33,177.03 L567.59,178.51 L567.86,179.98 L568.14,181.46 L568.43,182.93 L568.72,184.40 L569.01,185.87 L569.31,187.34 L569.61,188.81 L569.90,190.28 L570.20,191.75 L570.49,193.22 L570.78,194.70 L571.06,196.17 L571.33,197.64 L571.60,199.12 L571.85,200.60 L572.10,202.08 L572.34,203.56 L572.58,205.04 L572.81,206.52 L573.03,208.00 L573.25,209.49 L573.47,210.97 L573.69,212.46 L573.90,213.94 L574.12,215.43 L574.34,216.91 L574.56,218.39 L574.78,219.88 L575.01,221.36 L575.24,222.84 L575.48,224.32 L575.71,225.80 L575.95,227.28 L576.20,228.76 L576.44,230.24 L576.69,231.72 L576.93,233.20 L577.18,234.68 L577.43,236.16 L577.68,237.64 L577.92,239.12 L578.17,240.60 L578.41,242.08 L578.65,243.56 L578.89,245.04 L579.13,246.52 L579.37,248.00 L579.61,249.48 L579.85,250.97 L580.09,252.45 L580.33,253.93 L580.56,255.41 L580.80,256.89 L581.04,258.37 L581.27,259.85 L581.50,261.34 L581.73,262.82 L581.96,264.30 L582.19,265.78 L582.41,267.27 L582.63,268.75 L582.85,270.23 L583.07,271.72 L583.29,273.20 L583.51,274.69 L583.73,276.17 L583.95,277.65 L584.17,279.14 L584.40,280.62 L584.62,282.10 L584.86,283.58 L585.09,285.06 L585.33,286.55 L585.57,288.03 L585.82,289.51 L586.07,290.98 L586.32,292.46 L586.57,293.94 L586.83,295.42 L587.08,296.90 L587.35,298.37 L587.61,299.85 L587.88,301.33 L588.16,302.80 L588.44,304.27 L588.72,305.75 L589.01,307.22 L589.30,308.69 L589.60,310.16 L589.91,311.63 L590.22,313.10 L590.54,314.56 L590.86,316.03 L591.20,317.49 L591.54,318.95 L591.90,320.40 L592.27,321.86 L592.65,323.31 L593.04,324.75 L593.45,326.20 L593.88,327.64 L594.31,329.07 L594.76,330.50 L595.23,331.93 L595.71,333.35 L596.21,334.76 L596.72,336.17 L597.25,337.57 L597.79,338.97 L598.35,340.36 L598.93,341.74 L599.53,343.12 L600.14,344.49 L600.76,345.86 L601.39,347.22 L602.04,348.57 L602.71,349.91 L603.41,351.23 L604.16,352.52 L604.95,353.78 L605.81,355.00 L606.73,356.16 L607.72,357.25 L608.79,358.27 L609.94,359.20 L611.15,360.03 L612.43,360.75 L613.77,361.36 L615.16,361.88 L616.58,362.31 L618.02,362.67 L619.49,362.97 L620.96,363.23 L622.44,363.46 L623.92,363.67 L625.41,363.85 L626.90,364.02 L628.39,364.18 L629.89,364.33 L631.38,364.46 L632.88,364.58 L634.37,364.68 L635.87,364.78 L637.37,364.86 L638.86,364.93 L640.36,364.99 L641.86,365.05 L643.36,365.10 L644.86,365.14 L646.36,365.18 L647.86,365.22 L649.36,365.25 L650.86,365.27 L652.36,365.29 L653.86,365.31 L655.36,365.32 L656.86,365.33 L658.36,365.34 L659.86,365.35 L661.36,365.36 L662.86,365.37 L664.36,365.38 L665.86,365.38 L667.36,365.39 L668.86,365.40 L670.36,365.41 L671.86,365.42 L673.36,365.43 L674.86,365.44 L676.36,365.45 L677.86,365.46 L679.36,365.47 L680.86,365.48 L682.36,365.49 L683.86,365.50 L685.36,365.51 L686.86,365.52 L688.36,365.54 L689.86,365.55 L691.36,365.56 L692.86,365.57 L694.36,365.59 L695.86,365.60" stroke="#ff00ff"/>
<path d="M192.00,59.20 L193.50,59.21 L195.00,59.21 L196.50,59.22 L198.00,59.23 L199.50,59.23 L201.00,59.24 L202.50,59.24 L204.00,59.25 L205.50,59.26 L207.00,59.26 L208.50,59.27 L210.00,59.27 L211.50,59.28 L213.00,59.28 L214.50,59.29 L216.00,59.29 L217.50,59.30 L219.00,59.30 L220.50,59.31 L222.00,59.31 L223.50,59.31 L225.00,59.32 L226.50,59.32 L228.00,59.33 L229.50,59.33 L231.00,59.33 L232.50,59.34 L234.00,59.34 L235.50,59.34 L237.00,59.35 L238.50,59.35 L240.00,59.35 L241.50,59.35 L243.00,59.36 L244.50,59.36 L246.00,59.36 L247.50,59.36 L249.00,59.37 L250.50,59.37 L252.00,59.37 L253.50,59.37 L255.00,59.38 L256.50,59.38 L258.00,59.38 L259.50,59.38 L261.00,59.38 L262.50,59.38 L264.00,59.38 L265.50,59.39 L267.00,59.39 L268.50,59.39 L270.00,59.39 L271.50,59.39 L273.00,59.39 L274.50,59.39 L276.00,59.39 L277.50,59.39 L279.00,59.40 L280.50,59.40 L282.00,59.40 L283.50,59.40 L285.00,59.40 L286.50,59.40 L288.00,59.40 L289.50,59.40 L291.00,59.40 L292.50,59.40 L294.00,59.40 L295.50,59.40 L297.00,59.40 L298.50,59.40 L300.00,59.40 L301.50,59.40 L303.00,59.40 L304.50,59.40 L306.00,59.40 L307.50,59.40 L309.00,59.40 L310.50,59.40 L312.00,59.39 L313.50,59.39 L315.00,59.39 L316.50,59.39 L318.00,59.39 L319.50,59.38 L321.00,59.38 L322.50,59.38 L324.00,59.38 L325.50,59.37 L327.00,59.37 L328.50,59.37 L330.00,59.36 L331.50,59.36 L333.00,59.36 L334.50,59.35 L336.00,59.35 L337.50,59.34 L339.00,59.34 L340.50,59.34 L342.00,59.33 L343.50,59.33 L345.00,59.32 L346.50,59.32 L348.00,59.31 L349.50,59.30 L351.00,59.30 L352.50,59.29 L354.00,59.29 L355.50,59.28 L357.00,59.27 L358.50,59.27 L360.00,59.26 L361.50,59.25 L363.00,59.25 L364.50,59.24 L366.00,59.23 L367.50,59.22 L369.00,59.21 L370.50,59.20 L372.00,59.19 L373.50,59.18 L375.00,59.16 L376.50,59.15 L378.00,59.15 L379.50,59.15 L381.00,59.18 L382.50,59.23 L383.99,59.30 L385.49,59.39 L386.98,59.51 L388.47,59.65 L389.96,59.82 L391.45,60.01 L392.93,60.24 L394.41,60.48 L395.89,60.75 L397.36,61.03 L398.83,61.33 L400.29,61.64 L401.76,61.97 L403.22,62.31 L404.67,62.67 L406.13,63.04 L407.57,63.44 L409.01,63.85 L410.45,64.29 L411.88,64.74 L413.30,65.21 L414.72,65.68 L416.14,66.17 L417.56,66.66 L418.97,67.17 L420.38,67.68 L421.79,68.20 L423.19,68.73 L424.59,69.28 L425.98,69.83 L427.37,70.39 L428.76,70.96 L430.15,71.53 L431.53,72.11 L432.91,72.69 L434.30,73.28 L435.68,73.86 L437.05,74.45 L438.43,75.05 L439.81,75.65 L441.18,76.25 L442.55,76.86 L443.92,77.48 L445.28,78.11 L446.64,78.75 L447.99,79.40 L449.33,80.06 L450.67,80.73 L452.00,81.43 L453.33,82.13 L454.65,82.84 L455.96,83.56 L457.28,84.27 L458.60,84.98 L459.93,85.68 L461.26,86.37 L462.60,87.05 L463.94,87.73 L465.27,88.41 L466.60,89.11 L467.92,89.82 L469.23,90.55 L470.53,91.29 L471.82,92.06 L473.10,92.83 L474.38,93.62 L475.65,94.41 L476.92,95.22 L478.18,96.03 L479.44,96.84 L480.70,97.66 L481.96,98.48 L483.21,99.30 L484.47,100.11 L485.73,100.93 L486.98,101.75 L488.24,102.57 L489.50,103.38 L490.76,104.20 L492.02,105.01 L493.28,105.82 L494.54,106.64 L495.79,107.46 L497.04,108.30 L498.27,109.15 L499.49,110.02 L500.69,110.92 L501.88,111.83 L503.06,112.76 L504.22,113.70 L505.38,114.66 L506.52,115.63 L507.66,116.61 L508.79,117.59 L509.91,118.59 L511.03,119.59 L512.13,120.60 L513.23,121.62 L514.33,122.65 L515.41,123.68 L516.49,124.72 L517.56,125.77 L518.63,126.83 L519.68,127.90 L520.73,128.97 L521.77,130.05 L522.80,131.14 L523.83,132.23 L524.85,133.33 L525.86,134.44 L526.85,135.57 L527.82,136.71 L528.77,137.86 L529.70,139.04 L530.60,140.24 L531.48,141.45 L532.33,142.68 L533.17,143.93 L533.98,145.19 L534.78,146.45 L535.57,147.73 L536.34,149.01 L537.11,150.31 L537.86,151.60 L538.61,152.90 L539.35,154.21 L540.08,155.52 L540.80,156.83 L541.53,158.14 L542.24,159.46 L542.95,160.78 L543.66,162.11 L544.35,163.44 L545.03,164.78 L545.69,166.12 L546.33,167.47 L546.96,168.84 L547.56,170.21 L548.16,171.58 L548.77,172.94 L549.41,174.29 L550.09,175.61 L550.81,176.90 L551.57,178.17 L552.33,179.44 L553.06,180.73 L553.72,182.05 L554.32,183.40 L554.86,184.79 L555.36,186.20 L555.84,187.62 L556.32,189.04 L556.79,190.46 L557.28,191.88 L557.77,193.30 L558.26,194.71 L558.76,196.13 L559.25,197.55 L559.73,198.97 L560.21,200.39 L560.67,201.81 L561.13,203.24 L561.57,204.68 L562.01,206.11 L562.44,207.55 L562.85,208.99 L563.26,210.43 L563.66,211.88 L564.05,213.33 L564.43,214.78 L564.80,216.23 L565.16,217.69 L565.51,219.14 L565.86,220.60 L566.19,222.07 L566.51,223.53 L566.83,225.00 L567.13,226.47 L567.43,227.94 L567.72,229.41 L568.01,230.88 L568.30,232.35 L568.58,233.82 L568.87,235.30 L569.16,236.77 L569.45,238.24 L569.74,239.71 L570.04,241.18 L570.35,242.65 L570.66,244.12 L570.97,245.58 L571.29,247.05 L571.61,248.51 L571.94,249.98 L572.27,251.44 L572.60,252.90 L572.93,254.37 L573.27,255.83 L573.60,257.29 L573.94,258.75 L574.27,260.22 L574.60,261.68 L574.93,263.14 L575.26,264.61 L575.59,266.07 L575.92,267.53 L576.25,269.00 L576.58,270.46 L576.91,271.92 L577.24,273.39 L577.57,274.85 L577.90,276.31 L578.23,277.78 L578.56,279.24 L578.89,280.70 L579.22,282.17 L579.55,283.63 L579.88,285.09 L580.21,286.56 L580.54,288.02 L580.87,289.48 L581.20,290.94 L581.53,292.41 L581.86,293.87 L582.19,295.33 L582.52,296.80 L582.85,298.26 L583.18,299.72 L583.51,301.19 L583.83,302.65 L584.15,304.12 L584.47,305.58 L584.78,307.05 L585.09,308.52 L585.39,309.99 L585.69,311.46 L586.00,312.93 L586.31,314.39 L586.64,315.86 L586.98,317.32 L587.35,318.77 L587.74,320.21 L588.17,321.65 L588.63,323.08 L589.12,324.49 L589.64,325.90 L590.19,327.29 L590.77,328.67 L591.39,330.03 L592.03,331.38 L592.72,332.72 L593.44,334.02 L594.21,335.30 L595.03,336.54 L595.92,337.74 L596.86,338.89 L597.87,339.99 L598.93,341.02 L600.06,341.98 L601.25,342.86 L602.50,343.66 L603.79,344.39 L605.13,345.04 L606.50,345.62 L607.90,346.13 L609.33,346.58 L610.77,346.97 L612.22,347.32 L613.69,347.62 L615.16,347.89 L616.64,348.13 L618.12,348.36 L619.61,348.57 L621.10,348.77 L622.58,348.96 L624.07,349.15 L625.56,349.34 L627.05,349.52 L628.54,349.70 L630.03,349.87 L631.52,350.04 L633.01,350.20 L634.50,350.36 L635.99,350.51 L637.49,350.66 L638.98,350.81 L640.47,350.95 L641.97,351.08 L643.46,351.22 L644.95,351.35 L646.45,351.48 L647.94,351.60 L649.44,351.73 L650.93,351.85 L652.43,351.98 L653.92,352.10 L655.42,352.22 L656.91,352.35 L658.41,352.47 L659.90,352.59 L661.40,352.71 L662.89,352.84 L664.39,352.96 L665.88,353.09 L667.38,353.22 L668.87,353.36 L670.36,353.49 L671.86,353.64 L673.35,353.78 L674.84,353.93 L676.33,354.08 L677.83,354.23 L679.32,354.39 L680.81,354.54 L682.30,354.71 L683.79,354.87 L685.28,355.04 L686.77,355.20 L688.26,355.38 L689.75,355.55 L691.24,355.73 L692.73,355.90 L694.22,356.08 L695.71,356.26" stroke="#808000"/>
<path d="M192.00,59.00 L193.50,59.01 L195.00,59.01 L196.50,59.02 L198.00,59.03 L199.50,59.03 L201.00,59.04 L202.50,59.04 L204.00,59.05 L205.50,59.06 L207.00,59.06 L208.50,59.07 L210.00,59.07 L211.50,59.08 L213.00,59.08 L214.50,59.09 L216.00,59.09 L217.50,59.10 L219.00,59.10 L220.50,59.11 L222.00,59.11 L223.50,59.11 L225.00,59.12 L226.50,59.12 L228.00,59.13 L229.50,59.13 L231.00,59.13 L232.50,59.14 L234.00,59.14 L235.50,59.14 L237.00,59.15 L238.50,59.15 L240.00,59.15 L241.50,59.15 L243.00,59.16 L244.50,59.16 L246.00,59.16 L247.50,59.16 L249.00,59.17 L250.50,59.17 L252.00,59.17 L253.50,59.17 L255.00,59.18 L256.50,59.18 L258.00,59.18 L259.50,59.18 L261.00,59.18 L262.50,59.18 L264.00,59.18 L265.50,59.19 L267.00,59.19 L268.50,59.19 L270.00,59.19 L271.50,59.19 L273.00,59.19 L274.50,59.19 L276.00,59.19 L277.50,59.19 L279.00,59.20 L280.50,59.20 L282.00,59.20 L283.50,59.20 L285.00,59.20 L286.50,59.20 L288.00,59.20 L289.50,59.20 L291.00,59.20 L292.50,59.20 L294.00,59.20 L295.50,59.20 L297.00,59.20 L298.50,59.20 L300.00,59.20 L301.50,59.20 L303.00,59.20 L304.50,59.20 L306.00,59.19 L307.50,59.19 L309.00,59.19 L310.50,59.19 L312.00,59.18 L313.50,59.18 L315.00,59.18 L316.50,59.17 L318.00,59.17 L319.50,59.16 L321.00,59.16 L322.50,59.15 L324.00,59.15 L325.50,59.14 L327.00,59.14 L328.50,59.13 L330.00,59.12 L331.50,59.12 L333.00,59.11 L334.50,59.11 L336.00,59.10 L337.50,59.09 L339.00,59.09 L340.50,59.08 L342.00,59.08 L343.50,59.07 L345.00,59.06 L346.50,59.06 L348.00,59.05 L349.50,59.05 L351.00,59.04 L352.50,59.04 L354.00,59.03 L355.50,59.03 L357.00,59.02 L358.50,59.02 L360.00,59.02 L361.50,59.01 L363.00,59.01 L364.50,59.01 L366.00,59.01 L367.50,59.00 L369.00,59.00 L370.50,59.00 L372.00,59.00 L373.50,59.01 L375.00,59.01 L376.50,59.02 L378.00,59.04 L379.50,59.07 L381.00,59.13 L382.49,59.20 L383.99,59.31 L385.48,59.44 L386.97,59.60 L388.46,59.79 L389.94,60.01 L391.42,60.26 L392.89,60.53 L394.36,60.83 L395.82,61.16 L397.28,61.50 L398.73,61.87 L400.19,62.25 L401.63,62.64 L403.07,63.05 L404.51,63.49 L405.93,63.95 L407.35,64.43 L408.76,64.94 L410.16,65.47 L411.56,66.02 L412.95,66.58 L414.34,67.15 L415.72,67.73 L417.10,68.31 L418.49,68.89 L419.87,69.48 L421.24,70.07 L422.62,70.67 L423.99,71.28 L425.36,71.89 L426.73,72.51 L428.09,73.13 L429.46,73.75 L430.82,74.38 L432.18,75.01 L433.54,75.64 L434.90,76.27 L436.27,76.90 L437.63,77.53 L438.99,78.16 L440.35,78.79 L441.70,79.43 L443.06,80.07 L444.41,80.72 L445.76,81.37 L447.11,82.03 L448.45,82.70 L449.79,83.38 L451.12,84.07 L452.45,84.77 L453.77,85.48 L455.09,86.20 L456.40,86.91 L457.72,87.63 L459.04,88.34 L460.37,89.03 L461.70,89.72 L463.04,90.41 L464.38,91.08 L465.72,91.75 L467.07,92.42 L468.41,93.08 L469.76,93.75 L471.10,94.41 L472.44,95.09 L473.78,95.76 L475.11,96.45 L476.44,97.14 L477.77,97.83 L479.10,98.53 L480.42,99.24 L481.75,99.94 L483.06,100.66 L484.38,101.38 L485.69,102.11 L487.00,102.85 L488.29,103.60 L489.59,104.36 L490.87,105.13 L492.15,105.92 L493.41,106.73 L494.67,107.54 L495.93,108.35 L497.19,109.16 L498.46,109.97 L499.73,110.76 L501.01,111.54 L502.29,112.32 L503.57,113.10 L504.84,113.90 L506.08,114.73 L507.30,115.59 L508.50,116.49 L509.67,117.42 L510.82,118.38 L511.96,119.36 L513.09,120.34 L514.21,121.34 L515.34,122.33 L516.46,123.33 L517.57,124.33 L518.69,125.33 L519.80,126.34 L520.90,127.36 L522.00,128.38 L523.09,129.41 L524.17,130.45 L525.24,131.50 L526.30,132.56 L527.35,133.63 L528.40,134.70 L529.43,135.79 L530.45,136.89 L531.46,138.00 L532.46,139.11 L533.45,140.24 L534.43,141.38 L535.41,142.51 L536.38,143.66 L537.35,144.80 L538.32,145.95 L539.29,147.09 L540.25,148.24 L541.21,149.39 L542.15,150.56 L543.06,151.74 L543.93,152.96 L544.76,154.20 L545.55,155.47 L546.30,156.77 L547.01,158.08 L547.69,159.42 L548.35,160.76 L548.99,162.12 L549.60,163.49 L550.20,164.86 L550.79,166.24 L551.36,167.63 L551.93,169.02 L552.50,170.40 L553.09,171.77 L553.72,173.13 L554.39,174.46 L555.11,175.77 L555.85,177.06 L556.61,178.35 L557.35,179.64 L558.05,180.96 L558.71,182.30 L559.32,183.67 L559.90,185.05 L560.45,186.44 L561.01,187.83 L561.56,189.22 L562.12,190.61 L562.68,192.00 L563.23,193.40 L563.75,194.80 L564.23,196.21 L564.66,197.64 L565.03,199.09 L565.34,200.55 L565.62,202.02 L565.86,203.50 L566.09,204.98 L566.30,206.46 L566.51,207.95 L566.72,209.43 L566.93,210.92 L567.14,212.40 L567.35,213.89 L567.56,215.37 L567.77,216.86 L567.98,218.34 L568.19,219.83 L568.40,221.31 L568.62,222.80 L568.83,224.28 L569.05,225.77 L569.27,227.25 L569.49,228.74 L569.71,230.22 L569.93,231.70 L570.15,233.19 L570.37,234.67 L570.60,236.15 L570.82,237.64 L571.05,239.12 L571.28,240.60 L571.51,242.08 L571.75,243.56 L571.99,245.04 L572.23,246.53 L572.47,248.01 L572.71,249.49 L572.96,250.97 L573.21,252.44 L573.46,253.92 L573.70,255.40 L573.95,256.88 L574.20,258.36 L574.44,259.84 L574.68,261.32 L574.92,262.80 L575.15,264.29 L575.38,265.77 L575.61,267.25 L575.84,268.73 L576.06,270.22 L576.29,271.70 L576.51,273.18 L576.73,274.67 L576.95,276.15 L577.17,277.63 L577.39,279.12 L577.61,280.60 L577.83,282.09 L578.05,283.57 L578.27,285.05 L578.48,286.54 L578.70,288.02 L578.92,289.51 L579.13,290.99 L579.35,292.48 L579.56,293.96 L579.78,295.44 L579.99,296.93 L580.22,298.41 L580.44,299.89 L580.67,301.38 L580.91,302.86 L581.16,304.34 L581.41,305.82 L581.66,307.29 L581.93,308.77 L582.20,310.25 L582.48,311.72 L582.77,313.19 L583.07,314.66 L583.39,316.12 L583.74,317.58 L584.13,319.03 L584.54,320.46 L585.00,321.89 L585.50,323.30 L586.04,324.70 L586.62,326.07 L587.25,327.43 L587.92,328.77 L588.63,330.08 L589.39,331.37 L590.19,332.63 L591.05,333.85 L591.96,335.03 L592.94,336.15 L593.98,337.21 L595.08,338.20 L596.24,339.13 L597.45,339.99 L598.71,340.77 L600.02,341.48 L601.36,342.13 L602.73,342.70 L604.13,343.23 L605.55,343.69 L606.99,344.12 L608.43,344.50 L609.89,344.85 L611.36,345.17 L612.82,345.47 L614.30,345.74 L615.78,346.00 L617.26,346.24 L618.74,346.47 L620.22,346.68 L621.71,346.88 L623.20,347.08 L624.68,347.26 L626.17,347.43 L627.67,347.60 L629.16,347.75 L630.65,347.90 L632.14,348.05 L633.64,348.19 L635.13,348.33 L636.62,348.46 L638.12,348.59 L639.61,348.72 L641.11,348.85 L642.60,348.97 L644.10,349.09 L645.59,349.21 L647.09,349.33 L648.58,349.45 L650.08,349.56 L651.57,349.68 L653.07,349.79 L654.57,349.90 L656.06,350.01 L657.56,350.11 L659.05,350.22 L660.55,350.32 L662.05,350.43 L663.54,350.54 L665.04,350.65 L666.53,350.76 L668.03,350.87 L669.53,350.99 L671.02,351.12 L672.52,351.24 L674.01,351.37 L675.50,351.50 L677.00,351.64 L678.49,351.78 L679.98,351.92 L681.48,352.06 L682.97,352.21 L684.46,352.36 L685.95,352.51 L687.45,352.67 L688.94,352.82 L690.43,352.98 L691.92,353.15 L693.41,353.31 L694.90,353.48" stroke="#000080"/>
<path d="M192.00,59.30 L193.50,59.31 L195.00,59.31 L196.50,59.32 L198.00,59.33 L199.50,59.33 L201.00,59.34 L202.50,59.34 L204.00,59.35 L205.50,59.36 L207.00,59.36 L208.50,59.37 L210.00,59.37 L211.50,59.38 L213.00,59.38 L214.50,59.39 L216.00,59.39 L217.50,59.40 L219.00,59.40 L220.50,59.41 L222.00,59.41 L223.50,59.41 L225.00,59.42 L226.50,59.42 L228.00,59.43 L229.50,59.43 L231.00,59.43 L232.50,59.44 L234.00,59.44 L235.50,59.44 L237.00,59.45 L238.50,59.45 L240.00,59.45 L241.50,59.45 L243.00,59.46 L244.50,59.46 L246.00,59.46 L247.50,59.46 L249.00,59.47 L250.50,59.47 L252.00,59.47 L253.50,59.47 L255.00,59.48 L256.50,59.48 L258.00,59.48 L259.50,59.48 L261.00,59.48 L262.50,59.48 L264.00,59.48 L265.50,59.49 L267.00,59.49 L268.50,59.49 L270.00,59.49 L271.50,59.49 L273.00,59.49 L274.50,59.49 L276.00,59.49 L277.50,59.49 L279.00,59.50 L280.50,59.50 L282.00,59.50 L283.50,59.50 L285.00,59.50 L286.50,59.50 L288.00,59.50 L289.50,59.50 L291.00,59.50 L292.50,59.50 L294.00,59.50 L295.50,59.50 L297.00,59.50 L298.50,59.50 L300.00,59.50 L301.50,59.50 L303.00,59.50 L304.50,59.50 L306.00,59.50 L307.50,59.50 L309.00,59.50 L310.50,59.50 L312.00,59.49 L313.50,59.49 L315.00,59.49 L316.50,59.49 L318.00,59.49 L319.50,59.49 L321.00,59.48 L322.50,59.48 L324.00,59.48 L325.50,59.48 L327.00,59.47 L328.50,59.47 L330.00,59.47 L331.50,59.46 L333.00,59.46 L334.50,59.46 L336.00,59.45 L337.50,59.45 L339.00,59.44 L340.50,59.44 L342.00,59.43 L343.50,59.43 L345.00,59.42 L346.50,59.42 L348.00,59.41 L349.50,59.41 L351.00,59.40 L352.50,59.40 L354.00,59.39 L355.50,59.38 L357.00,59.38 L358.50,59.37 L360.00,59.36 L361.50,59.36 L363.00,59.35 L364.50,59.34 L366.00,59.33 L367.50,59.32 L369.00,59.31 L370.50,59.30 L372.00,59.29 L373.50,59.27 L375.00,59.25 L376.50,59.24 L378.00,59.23 L379.50,59.23 L381.00,59.24 L382.50,59.28 L383.99,59.33 L385.49,59.40 L386.99,59.49 L388.48,59.61 L389.97,59.75 L391.46,59.92 L392.95,60.10 L394.44,60.31 L395.92,60.54 L397.40,60.78 L398.88,61.03 L400.35,61.29 L401.83,61.56 L403.30,61.84 L404.78,62.13 L406.24,62.43 L407.71,62.74 L409.17,63.07 L410.64,63.41 L412.09,63.76 L413.55,64.13 L415.00,64.51 L416.44,64.90 L417.89,65.31 L419.33,65.73 L420.76,66.16 L422.19,66.61 L423.62,67.07 L425.04,67.55 L426.46,68.05 L427.87,68.55 L429.28,69.06 L430.69,69.59 L432.09,70.12 L433.49,70.65 L434.89,71.20 L436.28,71.76 L437.67,72.32 L439.05,72.89 L440.44,73.48 L441.82,74.06 L443.19,74.66 L444.57,75.25 L445.95,75.85 L447.32,76.44 L448.70,77.03 L450.08,77.62 L451.47,78.20 L452.85,78.78 L454.23,79.36 L455.61,79.95 L456.98,80.56 L458.34,81.19 L459.69,81.85 L461.02,82.53 L462.33,83.25 L463.63,84.00 L464.91,84.77 L466.18,85.58 L467.43,86.40 L468.67,87.25 L469.89,88.11 L471.10,89.00 L472.30,89.89 L473.49,90.80 L474.68,91.72 L475.86,92.65 L477.03,93.58 L478.21,94.52 L479.38,95.45 L480.55,96.38 L481.74,97.31 L482.93,98.22 L484.13,99.11 L485.34,100.00 L486.56,100.87 L487.79,101.73 L489.01,102.60 L490.24,103.46 L491.46,104.33 L492.67,105.21 L493.88,106.10 L495.09,106.99 L496.29,107.89 L497.48,108.80 L498.67,109.71 L499.86,110.63 L501.04,111.55 L502.21,112.49 L503.38,113.43 L504.54,114.38 L505.70,115.33 L506.84,116.30 L507.98,117.28 L509.11,118.27 L510.23,119.26 L511.34,120.27 L512.45,121.28 L513.55,122.30 L514.64,123.33 L515.72,124.37 L516.80,125.42 L517.86,126.47 L518.92,127.53 L519.98,128.60 L521.03,129.67 L522.07,130.75 L523.11,131.83 L524.14,132.92 L525.16,134.02 L526.18,135.12 L527.18,136.23 L528.17,137.36 L529.14,138.50 L530.10,139.66 L531.04,140.83 L531.96,142.01 L532.87,143.20 L533.77,144.40 L534.65,145.61 L535.53,146.83 L536.39,148.05 L537.25,149.29 L538.09,150.52 L538.93,151.77 L539.75,153.02 L540.57,154.28 L541.38,155.54 L542.18,156.81 L542.97,158.08 L543.75,159.37 L544.52,160.65 L545.27,161.95 L546.01,163.26 L546.72,164.58 L547.41,165.91 L548.07,167.25 L548.72,168.60 L549.36,169.95 L550.01,171.30 L550.68,172.64 L551.39,173.95 L552.14,175.24 L552.91,176.52 L553.67,177.81 L554.41,179.10 L555.09,180.42 L555.72,181.78 L556.29,183.15 L556.81,184.55 L557.32,185.96 L557.82,187.37 L558.33,188.78 L558.87,190.18 L559.44,191.56 L560.03,192.94 L560.65,194.31 L561.26,195.67 L561.87,197.04 L562.45,198.42 L562.99,199.81 L563.49,201.22 L563.95,202.65 L564.36,204.09 L564.75,205.53 L565.12,206.99 L565.48,208.44 L565.83,209.90 L566.18,211.36 L566.54,212.81 L566.90,214.27 L567.27,215.73 L567.63,217.18 L567.99,218.64 L568.35,220.09 L568.70,221.55 L569.05,223.01 L569.40,224.47 L569.74,225.93 L570.08,227.39 L570.42,228.85 L570.75,230.31 L571.08,231.78 L571.41,233.24 L571.74,234.71 L572.06,236.17 L572.38,237.64 L572.70,239.10 L573.02,240.57 L573.33,242.03 L573.64,243.50 L573.94,244.97 L574.24,246.44 L574.54,247.91 L574.83,249.38 L575.12,250.85 L575.41,252.33 L575.70,253.80 L575.99,255.27 L576.28,256.74 L576.57,258.21 L576.87,259.68 L577.17,261.15 L577.47,262.62 L577.78,264.09 L578.09,265.56 L578.40,267.02 L578.72,268.49 L579.04,269.96 L579.36,271.42 L579.69,272.88 L580.02,274.35 L580.35,275.81 L580.68,277.27 L581.02,278.74 L581.35,280.20 L581.70,281.66 L582.04,283.12 L582.38,284.58 L582.73,286.04 L583.07,287.50 L583.42,288.96 L583.77,290.41 L584.13,291.87 L584.48,293.33 L584.84,294.79 L585.20,296.24 L585.57,297.70 L585.94,299.15 L586.31,300.60 L586.69,302.05 L587.08,303.50 L587.46,304.95 L587.86,306.40 L588.26,307.85 L588.66,309.29 L589.07,310.73 L589.48,312.18 L589.91,313.61 L590.35,315.05 L590.81,316.47 L591.28,317.89 L591.79,319.31 L592.32,320.71 L592.88,322.10 L593.47,323.47 L594.10,324.83 L594.75,326.18 L595.45,327.50 L596.18,328.81 L596.95,330.09 L597.75,331.35 L598.61,332.58 L599.51,333.76 L600.47,334.90 L601.48,335.99 L602.56,337.01 L603.70,337.96 L604.90,338.83 L606.15,339.64 L607.44,340.37 L608.77,341.04 L610.14,341.63 L611.53,342.17 L612.94,342.66 L614.37,343.10 L615.82,343.49 L617.27,343.84 L618.74,344.15 L620.21,344.44 L621.69,344.69 L623.17,344.93 L624.65,345.14 L626.14,345.35 L627.62,345.54 L629.11,345.71 L630.60,345.88 L632.09,346.05 L633.59,346.20 L635.08,346.35 L636.57,346.50 L638.06,346.64 L639.56,346.77 L641.05,346.90 L642.55,347.02 L644.04,347.14 L645.54,347.26 L647.03,347.37 L648.53,347.49 L650.02,347.61 L651.52,347.74 L653.01,347.86 L654.51,348.00 L656.00,348.14 L657.49,348.28 L658.99,348.42 L660.48,348.57 L661.97,348.72 L663.46,348.88 L664.96,349.03 L666.45,349.19 L667.94,349.35 L669.43,349.50 L670.92,349.67 L672.41,349.83 L673.91,349.99 L675.40,350.16 L676.89,350.32 L678.38,350.49 L679.87,350.66 L681.36,350.83 L682.85,351.01 L684.34,351.18 L685.83,351.36 L687.32,351.53 L688.81,351.71 L690.29,351.90 L691.78,352.08 L693.27,352.26 L694.76,352.45" stroke="#800000"/>
</g>
<clipPath id="clb"><rect x="194" y="426" width="503" height="374"/></clipPath>
<g clip-path="url(#clb)" fill="none" stroke-width="3.0" stroke-linejoin="round">
<path d="M193.00,457.00 L194.50,456.99 L196.00,456.98 L197.50,456.96 L199.00,456.95 L200.50,456.94 L202.00,456.93 L203.50,456.92 L205.00,456.90 L206.50,456.89 L208.00,456.88 L209.50,456.87 L211.00,456.85 L212.50,456.84 L214.00,456.83 L215.50,456.82 L217.00,456.81 L218.50,456.79 L220.00,456.78 L221.50,456.77 L223.00,456.76 L224.50,456.75 L226.00,456.73 L227.50,456.72 L229.00,456.71 L230.50,456.70 L232.00,456.69 L233.50,456.67 L235.00,456.66 L236.50,456.65 L238.00,456.64 L239.50,456.63 L241.00,456.61 L242.50,456.60 L244.00,456.59 L245.50,456.58 L247.00,456.57 L248.50,456.55 L250.00,456.54 L251.50,456.53 L253.00,456.52 L254.50,456.50 L256.00,456.49 L257.50,456.48 L259.00,456.47 L260.50,456.46 L262.00,456.44 L263.50,456.43 L265.00,456.42 L266.50,456.41 L268.00,456.40 L269.50,456.38 L271.00,456.37 L272.50,456.36 L274.00,456.35 L275.50,456.34 L277.00,456.32 L278.50,456.31 L280.00,456.30 L281.50,456.29 L283.00,456.27 L284.50,456.26 L286.00,456.25 L287.50,456.23 L289.00,456.22 L290.50,456.20 L292.00,456.19 L293.50,456.18 L295.00,456.16 L296.50,456.14 L298.00,456.13 L299.50,456.11 L301.00,456.10 L302.50,456.08 L304.00,456.07 L305.50,456.05 L307.00,456.03 L308.50,456.02 L310.00,456.00 L311.50,455.99 L313.00,455.97 L314.50,455.96 L316.00,455.94 L317.50,455.93 L319.00,455.91 L320.50,455.90 L322.00,455.88 L323.50,455.87 L324.99,455.85 L326.49,455.84 L327.99,455.83 L329.49,455.82 L330.99,455.80 L332.49,455.79 L333.99,455.78 L335.49,455.77 L336.99,455.76 L338.49,455.75 L339.99,455.75 L341.49,455.74 L342.99,455.73 L344.49,455.72 L345.99,455.72 L347.49,455.71 L348.99,455.71 L350.49,455.71 L351.99,455.71 L353.49,455.71 L354.99,455.71 L356.49,455.71 L357.99,455.72 L359.49,455.73 L360.99,455.74 L362.49,455.75 L363.99,455.77 L365.49,455.79 L366.99,455.81 L368.49,455.84 L369.99,455.86 L371.49,455.89 L372.99,455.91 L374.49,455.94 L375.99,455.97 L377.49,456.00 L378.99,456.03 L380.49,456.06 L381.99,456.10 L383.49,456.13 L384.99,456.17 L386.49,456.21 L387.99,456.25 L389.49,456.29 L390.99,456.34 L392.49,456.39 L393.99,456.44 L395.49,456.49 L396.98,456.54 L398.48,456.60 L399.98,456.65 L401.48,456.71 L402.98,456.78 L404.48,456.84 L405.98,456.91 L407.47,456.98 L408.97,457.06 L410.47,457.14 L411.97,457.22 L413.47,457.30 L414.96,457.38 L416.46,457.47 L417.96,457.55 L419.46,457.62 L420.96,457.70 L422.45,457.78 L423.95,457.85 L425.45,457.92 L426.95,458.00 L428.45,458.07 L429.94,458.15 L431.44,458.23 L432.94,458.31 L434.44,458.40 L435.93,458.49 L437.43,458.59 L438.93,458.69 L440.42,458.79 L441.92,458.90 L443.42,459.01 L444.91,459.13 L446.41,459.25 L447.90,459.38 L449.40,459.51 L450.89,459.64 L452.38,459.78 L453.88,459.92 L455.37,460.07 L456.86,460.22 L458.35,460.37 L459.85,460.53 L461.34,460.69 L462.83,460.86 L464.32,461.03 L465.81,461.21 L467.29,461.40 L468.78,461.60 L470.27,461.80 L471.75,462.01 L473.23,462.24 L474.71,462.47 L476.19,462.72 L477.67,462.99 L479.14,463.27 L480.61,463.57 L482.08,463.88 L483.54,464.21 L485.00,464.55 L486.46,464.90 L487.91,465.26 L489.37,465.63 L490.82,466.00 L492.27,466.38 L493.72,466.77 L495.16,467.17 L496.60,467.59 L498.04,468.03 L499.47,468.48 L500.89,468.95 L502.31,469.44 L503.72,469.95 L505.12,470.48 L506.52,471.03 L507.90,471.60 L509.28,472.18 L510.65,472.79 L512.01,473.42 L513.37,474.06 L514.71,474.73 L516.04,475.42 L517.36,476.13 L518.67,476.86 L519.96,477.61 L521.24,478.39 L522.51,479.19 L523.76,480.01 L524.99,480.87 L526.19,481.76 L527.36,482.68 L528.51,483.64 L529.61,484.64 L530.69,485.68 L531.72,486.76 L532.72,487.87 L533.69,489.01 L534.63,490.18 L535.54,491.37 L536.42,492.58 L537.28,493.80 L538.12,495.04 L538.93,496.30 L539.73,497.57 L540.52,498.85 L541.28,500.13 L542.04,501.43 L542.78,502.74 L543.50,504.05 L544.21,505.37 L544.89,506.70 L545.56,508.04 L546.21,509.40 L546.83,510.76 L547.43,512.13 L548.02,513.51 L548.59,514.90 L549.16,516.28 L549.74,517.67 L550.32,519.05 L550.90,520.43 L551.49,521.81 L552.08,523.19 L552.66,524.57 L553.24,525.95 L553.82,527.34 L554.38,528.73 L554.94,530.12 L555.49,531.52 L556.03,532.92 L556.56,534.32 L557.09,535.72 L557.60,537.13 L558.10,538.55 L558.60,539.96 L559.08,541.38 L559.55,542.81 L560.01,544.23 L560.47,545.66 L560.92,547.09 L561.37,548.52 L561.81,549.96 L562.26,551.39 L562.71,552.82 L563.17,554.25 L563.63,555.67 L564.09,557.10 L564.54,558.53 L564.99,559.96 L565.42,561.40 L565.83,562.84 L566.23,564.28 L566.60,565.74 L566.95,567.19 L567.27,568.66 L567.58,570.12 L567.89,571.59 L568.18,573.06 L568.48,574.53 L568.78,576.00 L569.09,577.47 L569.41,578.93 L569.73,580.40 L570.07,581.86 L570.41,583.32 L570.75,584.78 L571.11,586.24 L571.46,587.70 L571.82,589.15 L572.18,590.61 L572.54,592.07 L572.90,593.52 L573.26,594.98 L573.62,596.43 L573.97,597.89 L574.33,599.35 L574.67,600.81 L575.02,602.27 L575.36,603.73 L575.70,605.19 L576.04,606.65 L576.38,608.11 L576.71,609.57 L577.05,611.04 L577.38,612.50 L577.71,613.96 L578.03,615.43 L578.36,616.89 L578.68,618.36 L579.00,619.82 L579.31,621.29 L579.63,622.76 L579.94,624.22 L580.25,625.69 L580.55,627.16 L580.86,628.63 L581.16,630.10 L581.46,631.57 L581.75,633.04 L582.04,634.51 L582.34,635.98 L582.62,637.45 L582.91,638.93 L583.19,640.40 L583.47,641.87 L583.75,643.35 L584.02,644.82 L584.29,646.30 L584.56,647.77 L584.82,649.25 L585.09,650.73 L585.34,652.20 L585.60,653.68 L585.86,655.16 L586.11,656.64 L586.37,658.12 L586.62,659.59 L586.88,661.07 L587.13,662.55 L587.39,664.03 L587.65,665.51 L587.91,666.98 L588.16,668.46 L588.42,669.94 L588.68,671.42 L588.94,672.89 L589.20,674.37 L589.46,675.85 L589.72,677.33 L589.97,678.80 L590.23,680.28 L590.49,681.76 L590.74,683.24 L591.00,684.72 L591.25,686.19 L591.50,687.67 L591.74,689.15 L591.98,690.63 L592.22,692.11 L592.46,693.60 L592.70,695.08 L592.94,696.56 L593.18,698.04 L593.43,699.52 L593.68,701.00 L593.94,702.47 L594.21,703.95 L594.49,705.42 L594.79,706.89 L595.11,708.35 L595.46,709.81 L595.82,711.26 L596.21,712.71 L596.63,714.15 L597.06,715.59 L597.52,717.01 L597.99,718.44 L598.49,719.85 L599.00,721.26 L599.53,722.66 L600.08,724.06 L600.65,725.44 L601.26,726.81 L601.90,728.16 L602.56,729.50 L603.27,730.82 L604.00,732.13 L604.75,733.42 L605.54,734.70 L606.34,735.96 L607.17,737.21 L608.02,738.44 L608.90,739.65 L609.82,740.83 L610.77,741.99 L611.75,743.11 L612.77,744.20 L613.83,745.26 L614.92,746.27 L616.06,747.23 L617.24,748.12 L618.47,748.95 L619.74,749.71 L621.06,750.39 L622.41,751.01 L623.79,751.57 L625.19,752.08 L626.61,752.55 L628.04,752.98 L629.49,753.38 L630.94,753.75 L632.40,754.09 L633.86,754.42 L635.33,754.74 L636.79,755.05 L638.26,755.34 L639.74,755.64 L641.21,755.93 L642.68,756.21 L644.15,756.49 L645.63,756.77 L647.10,757.04 L648.58,757.31 L650.06,757.57 L651.53,757.82 L653.01,758.08 L654.49,758.32 L655.97,758.56 L657.45,758.80 L658.94,759.03 L660.42,759.27 L661.90,759.49 L663.38,759.72 L664.86,759.95 L666.35,760.18 L667.83,760.41 L669.31,760.65 L670.79,760.89 L672.27,761.12 L673.75,761.37 L675.23,761.61 L676.71,761.85 L678.19,762.10 L679.67,762.35 L681.15,762.59 L682.63,762.84 L684.11,763.09 L685.59,763.34 L687.07,763.60 L688.55,763.85 L690.02,764.11 L691.50,764.36 L692.98,764.62 L694.46,764.88 L695.93,765.14 L697.41,765.40" stroke="#000000"/>
<path d="M193.00,457.30 L194.50,457.29 L196.00,457.28 L197.50,457.26 L199.00,457.25 L200.50,457.24 L202.00,457.23 L203.50,457.22 L205.00,457.20 L206.50,457.19 L208.00,457.18 L209.50,457.17 L211.00,457.15 L212.50,457.14 L214.00,457.13 L215.50,457.12 L217.00,457.11 L218.50,457.09 L220.00,457.08 L221.50,457.07 L223.00,457.06 L224.50,457.05 L226.00,457.03 L227.50,457.02 L229.00,457.01 L230.50,457.00 L232.00,456.99 L233.50,456.97 L235.00,456.96 L236.50,456.95 L238.00,456.94 L239.50,456.93 L241.00,456.91 L242.50,456.90 L244.00,456.89 L245.50,456.88 L247.00,456.87 L248.50,456.85 L250.00,456.84 L251.50,456.83 L253.00,456.82 L254.50,456.80 L256.00,456.79 L257.50,456.78 L259.00,456.77 L260.50,456.76 L262.00,456.74 L263.50,456.73 L265.00,456.72 L266.50,456.71 L268.00,456.70 L269.50,456.68 L271.00,456.67 L272.50,456.66 L274.00,456.65 L275.50,456.64 L277.00,456.62 L278.50,456.61 L280.00,456.60 L281.50,456.59 L283.00,456.57 L284.50,456.56 L286.00,456.55 L287.50,456.53 L289.00,456.52 L290.50,456.50 L292.00,456.49 L293.50,456.48 L295.00,456.46 L296.50,456.44 L298.00,456.43 L299.50,456.41 L301.00,456.40 L302.50,456.38 L304.00,456.37 L305.50,456.35 L307.00,456.33 L308.50,456.32 L310.00,456.30 L311.50,456.29 L313.00,456.27 L314.50,456.26 L316.00,456.24 L317.50,456.23 L319.00,456.21 L320.50,456.20 L322.00,456.18 L323.50,456.17 L324.99,456.15 L326.49,456.14 L327.99,456.13 L329.49,456.12 L330.99,456.10 L332.49,456.09 L333.99,456.08 L335.49,456.07 L336.99,456.06 L338.49,456.05 L339.99,456.05 L341.49,456.04 L342.99,456.03 L344.49,456.02 L345.99,456.02 L347.49,456.01 L348.99,456.01 L350.49,456.01 L351.99,456.01 L353.49,456.00 L354.99,456.00 L356.49,456.01 L357.99,456.01 L359.49,456.01 L360.99,456.02 L362.49,456.03 L363.99,456.04 L365.49,456.05 L366.99,456.06 L368.49,456.07 L369.99,456.09 L371.49,456.10 L372.99,456.12 L374.49,456.14 L375.99,456.16 L377.49,456.18 L378.99,456.20 L380.49,456.22 L381.99,456.25 L383.49,456.28 L384.99,456.31 L386.49,456.35 L387.99,456.39 L389.49,456.44 L390.99,456.49 L392.49,456.54 L393.99,456.60 L395.49,456.66 L396.98,456.72 L398.48,456.79 L399.98,456.85 L401.48,456.93 L402.98,457.00 L404.48,457.08 L405.97,457.17 L407.47,457.26 L408.97,457.36 L410.46,457.47 L411.96,457.58 L413.45,457.70 L414.95,457.82 L416.44,457.95 L417.94,458.07 L419.43,458.20 L420.93,458.32 L422.42,458.45 L423.92,458.58 L425.41,458.71 L426.90,458.85 L428.40,458.98 L429.89,459.12 L431.39,459.26 L432.88,459.40 L434.37,459.55 L435.86,459.70 L437.36,459.85 L438.85,460.00 L440.34,460.15 L441.83,460.31 L443.32,460.47 L444.81,460.65 L446.30,460.82 L447.79,461.01 L449.28,461.20 L450.76,461.41 L452.25,461.62 L453.73,461.85 L455.21,462.08 L456.69,462.32 L458.17,462.58 L459.65,462.84 L461.12,463.11 L462.60,463.39 L464.07,463.67 L465.54,463.96 L467.01,464.26 L468.48,464.56 L469.95,464.86 L471.42,465.17 L472.88,465.49 L474.35,465.81 L475.81,466.13 L477.28,466.46 L478.74,466.80 L480.20,467.14 L481.66,467.49 L483.11,467.85 L484.57,468.22 L486.02,468.59 L487.47,468.97 L488.92,469.36 L490.36,469.76 L491.81,470.17 L493.25,470.59 L494.68,471.03 L496.11,471.48 L497.54,471.94 L498.96,472.43 L500.37,472.93 L501.77,473.46 L503.17,474.00 L504.56,474.56 L505.94,475.15 L507.31,475.74 L508.68,476.36 L510.04,476.99 L511.39,477.63 L512.74,478.29 L514.08,478.97 L515.41,479.66 L516.72,480.38 L518.03,481.11 L519.32,481.87 L520.60,482.65 L521.86,483.46 L523.10,484.30 L524.31,485.18 L525.51,486.08 L526.67,487.01 L527.81,487.98 L528.92,488.99 L529.99,490.03 L531.04,491.10 L532.05,492.20 L533.03,493.33 L533.98,494.48 L534.91,495.66 L535.82,496.85 L536.71,498.06 L537.58,499.27 L538.45,500.50 L539.30,501.73 L540.15,502.97 L540.99,504.21 L541.83,505.45 L542.67,506.69 L543.51,507.93 L544.36,509.18 L545.20,510.42 L546.05,511.66 L546.88,512.90 L547.71,514.15 L548.53,515.41 L549.32,516.67 L550.09,517.96 L550.84,519.26 L551.56,520.57 L552.26,521.90 L552.93,523.24 L553.58,524.59 L554.22,525.94 L554.84,527.31 L555.44,528.68 L556.04,530.06 L556.62,531.44 L557.19,532.83 L557.75,534.22 L558.30,535.61 L558.84,537.01 L559.37,538.42 L559.89,539.82 L560.41,541.23 L560.91,542.64 L561.41,544.06 L561.89,545.48 L562.37,546.90 L562.83,548.32 L563.29,549.75 L563.73,551.19 L564.17,552.62 L564.59,554.06 L565.01,555.50 L565.41,556.95 L565.81,558.39 L566.20,559.84 L566.57,561.29 L566.94,562.75 L567.31,564.20 L567.66,565.66 L568.00,567.12 L568.33,568.58 L568.65,570.05 L568.97,571.51 L569.28,572.98 L569.59,574.45 L569.91,575.91 L570.22,577.38 L570.55,578.84 L570.88,580.31 L571.21,581.77 L571.55,583.23 L571.90,584.69 L572.24,586.15 L572.60,587.61 L572.95,589.07 L573.30,590.52 L573.66,591.98 L574.01,593.44 L574.37,594.90 L574.72,596.35 L575.07,597.81 L575.42,599.27 L575.76,600.73 L576.10,602.19 L576.44,603.65 L576.78,605.11 L577.12,606.57 L577.46,608.04 L577.79,609.50 L578.13,610.96 L578.46,612.42 L578.79,613.89 L579.11,615.35 L579.44,616.82 L579.76,618.28 L580.08,619.75 L580.40,621.21 L580.71,622.68 L581.02,624.15 L581.33,625.61 L581.64,627.08 L581.94,628.55 L582.24,630.02 L582.54,631.49 L582.84,632.96 L583.13,634.43 L583.42,635.90 L583.71,637.38 L583.99,638.85 L584.28,640.32 L584.56,641.80 L584.83,643.27 L585.11,644.74 L585.38,646.22 L585.65,647.70 L585.91,649.17 L586.17,650.65 L586.43,652.13 L586.69,653.60 L586.94,655.08 L587.20,656.56 L587.45,658.04 L587.71,659.52 L587.96,660.99 L588.22,662.47 L588.48,663.95 L588.73,665.43 L588.99,666.91 L589.24,668.38 L589.50,669.86 L589.76,671.34 L590.01,672.82 L590.27,674.30 L590.53,675.77 L590.79,677.25 L591.04,678.73 L591.30,680.21 L591.57,681.68 L591.83,683.16 L592.09,684.64 L592.35,686.11 L592.61,687.59 L592.87,689.07 L593.13,690.55 L593.39,692.02 L593.65,693.50 L593.91,694.98 L594.17,696.46 L594.43,697.93 L594.70,699.41 L594.98,700.88 L595.26,702.36 L595.55,703.83 L595.86,705.29 L596.18,706.76 L596.51,708.22 L596.87,709.68 L597.24,711.13 L597.63,712.57 L598.05,714.02 L598.48,715.45 L598.94,716.88 L599.41,718.30 L599.89,719.72 L600.40,721.13 L600.92,722.54 L601.47,723.93 L602.05,725.31 L602.66,726.68 L603.31,728.02 L604.01,729.34 L604.75,730.63 L605.55,731.88 L606.41,733.09 L607.34,734.24 L608.34,735.33 L609.41,736.34 L610.55,737.27 L611.75,738.12 L613.01,738.89 L614.32,739.59 L615.66,740.23 L617.04,740.81 L618.43,741.33 L619.85,741.81 L621.28,742.25 L622.72,742.65 L624.17,743.02 L625.63,743.36 L627.09,743.68 L628.56,743.97 L630.04,744.24 L631.51,744.51 L632.99,744.76 L634.47,745.01 L635.95,745.25 L637.43,745.49 L638.91,745.73 L640.40,745.96 L641.88,746.20 L643.36,746.43 L644.84,746.66 L646.32,746.88 L647.81,747.11 L649.29,747.33 L650.77,747.55 L652.26,747.76 L653.74,747.98 L655.23,748.19 L656.71,748.40 L658.20,748.61 L659.68,748.82 L661.17,749.02 L662.66,749.23 L664.14,749.43 L665.63,749.64 L667.11,749.85 L668.60,750.06 L670.08,750.27 L671.57,750.49 L673.05,750.70 L674.54,750.92 L676.02,751.14 L677.50,751.36 L678.99,751.58 L680.47,751.80 L681.95,752.02 L683.44,752.25 L684.92,752.47 L686.40,752.70 L687.89,752.92 L689.37,753.15 L690.85,753.38 L692.33,753.61 L693.82,753.84 L695.30,754.08 L696.78,754.31" stroke="#ff0000"/>
<path d="M193.00,456.70 L194.50,456.69 L196.00,456.68 L197.50,456.66 L199.00,456.65 L200.50,456.64 L202.00,456.63 L203.50,456.62 L205.00,456.60 L206.50,456.59 L208.00,456.58 L209.50,456.57 L211.00,456.55 L212.50,456.54 L214.00,456.53 L215.50,456.52 L217.00,456.51 L218.50,456.49 L220.00,456.48 L221.50,456.47 L223.00,456.46 L224.50,456.45 L226.00,456.43 L227.50,456.42 L229.00,456.41 L230.50,456.40 L232.00,456.39 L233.50,456.37 L235.00,456.36 L236.50,456.35 L238.00,456.34 L239.50,456.33 L241.00,456.31 L242.50,456.30 L244.00,456.29 L245.50,456.28 L247.00,456.27 L248.50,456.25 L250.00,456.24 L251.50,456.23 L253.00,456.22 L254.50,456.20 L256.00,456.19 L257.50,456.18 L259.00,456.17 L260.50,456.16 L262.00,456.14 L263.50,456.13 L265.00,456.12 L266.50,456.11 L268.00,456.10 L269.50,456.08 L271.00,456.07 L272.50,456.06 L274.00,456.05 L275.50,456.04 L277.00,456.02 L278.50,456.01 L280.00,456.00 L281.50,455.99 L283.00,455.97 L284.50,455.96 L286.00,455.95 L287.50,455.93 L289.00,455.92 L290.50,455.90 L292.00,455.89 L293.50,455.88 L295.00,455.86 L296.50,455.84 L298.00,455.83 L299.50,455.81 L301.00,455.80 L302.50,455.78 L304.00,455.77 L305.50,455.75 L307.00,455.73 L308.50,455.72 L310.00,455.70 L311.50,455.69 L313.00,455.67 L314.50,455.66 L316.00,455.64 L317.50,455.63 L319.00,455.61 L320.50,455.60 L322.00,455.58 L323.50,455.57 L324.99,455.55 L326.49,455.54 L327.99,455.53 L329.49,455.52 L330.99,455.50 L332.49,455.49 L333.99,455.48 L335.49,455.47 L336.99,455.46 L338.49,455.45 L339.99,455.45 L341.49,455.44 L342.99,455.43 L344.49,455.42 L345.99,455.42 L347.49,455.41 L348.99,455.41 L350.49,455.41 L351.99,455.41 L353.49,455.41 L354.99,455.41 L356.49,455.42 L357.99,455.44 L359.49,455.45 L360.99,455.48 L362.49,455.50 L363.99,455.54 L365.49,455.57 L366.99,455.62 L368.49,455.66 L369.99,455.71 L371.49,455.76 L372.99,455.81 L374.49,455.86 L375.99,455.91 L377.49,455.96 L378.99,456.01 L380.48,456.07 L381.98,456.12 L383.48,456.17 L384.98,456.23 L386.48,456.28 L387.98,456.34 L389.48,456.40 L390.98,456.47 L392.48,456.53 L393.97,456.61 L395.47,456.68 L396.97,456.76 L398.47,456.85 L399.96,456.94 L401.46,457.04 L402.96,457.15 L404.45,457.28 L405.94,457.42 L407.43,457.58 L408.92,457.75 L410.41,457.94 L411.89,458.15 L413.38,458.35 L414.86,458.57 L416.35,458.78 L417.83,458.99 L419.32,459.19 L420.81,459.39 L422.30,459.58 L423.78,459.77 L425.27,459.95 L426.76,460.14 L428.25,460.32 L429.74,460.51 L431.23,460.70 L432.71,460.89 L434.20,461.09 L435.69,461.29 L437.17,461.50 L438.66,461.71 L440.14,461.92 L441.63,462.14 L443.11,462.36 L444.59,462.59 L446.07,462.82 L447.55,463.06 L449.04,463.30 L450.51,463.54 L451.99,463.79 L453.47,464.05 L454.95,464.31 L456.43,464.57 L457.90,464.84 L459.38,465.11 L460.85,465.39 L462.32,465.67 L463.80,465.96 L465.27,466.25 L466.74,466.54 L468.21,466.84 L469.68,467.14 L471.15,467.45 L472.61,467.76 L474.08,468.08 L475.54,468.41 L477.01,468.74 L478.47,469.08 L479.93,469.42 L481.38,469.78 L482.84,470.14 L484.29,470.50 L485.75,470.87 L487.20,471.25 L488.65,471.63 L490.10,472.01 L491.55,472.40 L493.00,472.79 L494.44,473.19 L495.88,473.61 L497.32,474.04 L498.75,474.50 L500.17,474.97 L501.58,475.48 L502.98,476.01 L504.37,476.57 L505.75,477.15 L507.12,477.75 L508.49,478.37 L509.84,479.01 L511.19,479.66 L512.53,480.34 L513.86,481.03 L515.18,481.74 L516.49,482.48 L517.78,483.23 L519.07,483.99 L520.35,484.78 L521.61,485.59 L522.86,486.41 L524.09,487.26 L525.31,488.13 L526.51,489.03 L527.69,489.95 L528.85,490.89 L530.00,491.86 L531.12,492.86 L532.22,493.87 L533.31,494.90 L534.37,495.96 L535.42,497.02 L536.46,498.11 L537.47,499.21 L538.47,500.33 L539.45,501.47 L540.41,502.62 L541.35,503.78 L542.27,504.96 L543.17,506.16 L544.05,507.37 L544.91,508.60 L545.75,509.84 L546.55,511.11 L547.33,512.39 L548.07,513.69 L548.78,515.00 L549.47,516.33 L550.14,517.67 L550.79,519.02 L551.43,520.38 L552.06,521.74 L552.69,523.10 L553.31,524.47 L553.92,525.84 L554.51,527.21 L555.09,528.60 L555.67,529.98 L556.23,531.37 L556.77,532.77 L557.31,534.17 L557.84,535.57 L558.37,536.98 L558.88,538.39 L559.40,539.80 L559.90,541.21 L560.40,542.62 L560.89,544.04 L561.37,545.46 L561.84,546.89 L562.30,548.31 L562.75,549.74 L563.19,551.18 L563.62,552.61 L564.04,554.05 L564.45,555.50 L564.85,556.94 L565.25,558.39 L565.63,559.84 L566.01,561.29 L566.37,562.74 L566.72,564.20 L567.04,565.67 L567.35,567.13 L567.64,568.60 L567.92,570.08 L568.18,571.55 L568.45,573.03 L568.71,574.51 L568.98,575.98 L569.26,577.45 L569.56,578.92 L569.87,580.39 L570.20,581.85 L570.54,583.31 L570.89,584.77 L571.25,586.23 L571.62,587.68 L572.00,589.13 L572.38,590.58 L572.77,592.03 L573.16,593.48 L573.54,594.93 L573.92,596.38 L574.30,597.83 L574.67,599.28 L575.03,600.74 L575.39,602.20 L575.74,603.66 L576.09,605.11 L576.43,606.57 L576.77,608.04 L577.11,609.50 L577.44,610.96 L577.77,612.42 L578.10,613.89 L578.42,615.35 L578.75,616.82 L579.07,618.28 L579.38,619.75 L579.70,621.21 L580.01,622.68 L580.32,624.15 L580.63,625.62 L580.94,627.08 L581.24,628.55 L581.54,630.02 L581.84,631.49 L582.14,632.96 L582.43,634.43 L582.72,635.91 L583.01,637.38 L583.30,638.85 L583.58,640.32 L583.86,641.80 L584.14,643.27 L584.41,644.75 L584.68,646.22 L584.95,647.70 L585.21,649.17 L585.47,650.65 L585.73,652.13 L585.99,653.61 L586.24,655.08 L586.50,656.56 L586.75,658.04 L587.01,659.52 L587.26,661.00 L587.52,662.48 L587.78,663.95 L588.03,665.43 L588.29,666.91 L588.55,668.39 L588.81,669.86 L589.07,671.34 L589.32,672.82 L589.58,674.30 L589.84,675.77 L590.10,677.25 L590.36,678.73 L590.62,680.21 L590.87,681.68 L591.13,683.16 L591.39,684.64 L591.64,686.12 L591.89,687.60 L592.14,689.08 L592.39,690.56 L592.63,692.04 L592.87,693.52 L593.12,695.00 L593.36,696.48 L593.61,697.96 L593.86,699.44 L594.12,700.91 L594.38,702.39 L594.65,703.86 L594.94,705.33 L595.25,706.80 L595.57,708.27 L595.92,709.72 L596.28,711.18 L596.68,712.62 L597.09,714.06 L597.52,715.50 L597.98,716.93 L598.45,718.35 L598.94,719.77 L599.44,721.18 L599.97,722.58 L600.52,723.98 L601.09,725.36 L601.70,726.72 L602.35,728.07 L603.04,729.39 L603.78,730.69 L604.57,731.95 L605.41,733.17 L606.32,734.35 L607.30,735.46 L608.34,736.50 L609.45,737.47 L610.62,738.37 L611.85,739.18 L613.13,739.93 L614.46,740.61 L615.81,741.24 L617.19,741.81 L618.59,742.33 L620.00,742.82 L621.43,743.26 L622.87,743.68 L624.32,744.06 L625.77,744.42 L627.23,744.76 L628.70,745.08 L630.16,745.39 L631.63,745.68 L633.11,745.96 L634.58,746.23 L636.06,746.49 L637.54,746.75 L639.02,747.00 L640.50,747.24 L641.98,747.48 L643.46,747.71 L644.94,747.94 L646.43,748.16 L647.91,748.39 L649.39,748.61 L650.88,748.83 L652.36,749.05 L653.84,749.27 L655.33,749.49 L656.81,749.72 L658.29,749.94 L659.78,750.16 L661.26,750.38 L662.74,750.60 L664.23,750.83 L665.71,751.05 L667.19,751.28 L668.67,751.51 L670.16,751.74 L671.64,751.98 L673.12,752.22 L674.60,752.46 L676.08,752.70 L677.56,752.94 L679.04,753.19 L680.52,753.44 L682.00,753.69 L683.48,753.94 L684.96,754.19 L686.43,754.45 L687.91,754.70 L689.39,754.96 L690.87,755.22 L692.34,755.48 L693.82,755.75 L695.30,756.01 L696.77,756.28" stroke="#0000ff"/>
<path d="M193.00,457.80 L194.50,457.79 L196.00,457.78 L197.50,457.76 L199.00,457.75 L200.50,457.74 L202.00,457.73 L203.50,457.72 L205.00,457.70 L206.50,457.69 L208.00,457.68 L209.50,457.67 L211.00,457.65 L212.50,457.64 L214.00,457.63 L215.50,457.62 L217.00,457.61 L218.50,457.59 L220.00,457.58 L221.50,457.57 L223.00,457.56 L224.50,457.55 L226.00,457.53 L227.50,457.52 L229.00,457.51 L230.50,457.50 L232.00,457.49 L233.50,457.47 L235.00,457.46 L236.50,457.45 L238.00,457.44 L239.50,457.43 L241.00,457.41 L242.50,457.40 L244.00,457.39 L245.50,457.38 L247.00,457.37 L248.50,457.35 L250.00,457.34 L251.50,457.33 L253.00,457.32 L254.50,457.30 L256.00,457.29 L257.50,457.28 L259.00,457.27 L260.50,457.26 L262.00,457.24 L263.50,457.23 L265.00,457.22 L266.50,457.21 L268.00,457.20 L269.50,457.18 L271.00,457.17 L272.50,457.16 L274.00,457.15 L275.50,457.14 L277.00,457.12 L278.50,457.11 L280.00,457.10 L281.50,457.09 L283.00,457.07 L284.50,457.06 L286.00,457.05 L287.50,457.04 L289.00,457.02 L290.50,457.01 L292.00,457.00 L293.50,456.98 L295.00,456.97 L296.50,456.95 L298.00,456.94 L299.50,456.93 L301.00,456.91 L302.50,456.90 L304.00,456.88 L305.50,456.87 L307.00,456.86 L308.50,456.84 L310.00,456.83 L311.50,456.81 L313.00,456.80 L314.50,456.79 L316.00,456.77 L317.50,456.76 L319.00,456.74 L320.50,456.73 L322.00,456.72 L323.50,456.70 L325.00,456.69 L326.50,456.68 L328.00,456.67 L329.50,456.65 L331.00,456.64 L332.50,456.63 L334.00,456.62 L335.49,456.61 L336.99,456.60 L338.49,456.59 L339.99,456.58 L341.49,456.57 L342.99,456.56 L344.49,456.55 L345.99,456.54 L347.49,456.53 L348.99,456.53 L350.49,456.52 L351.99,456.51 L353.49,456.51 L354.99,456.50 L356.49,456.50 L357.99,456.49 L359.49,456.48 L360.99,456.48 L362.49,456.47 L363.99,456.47 L365.49,456.47 L366.99,456.46 L368.49,456.46 L369.99,456.45 L371.49,456.45 L372.99,456.45 L374.49,456.45 L375.99,456.45 L377.49,456.45 L378.99,456.46 L380.49,456.47 L381.99,456.49 L383.49,456.52 L384.99,456.56 L386.49,456.61 L387.99,456.67 L389.49,456.74 L390.99,456.82 L392.48,456.91 L393.98,457.00 L395.48,457.11 L396.97,457.22 L398.47,457.34 L399.96,457.46 L401.46,457.60 L402.95,457.74 L404.44,457.90 L405.93,458.08 L407.41,458.27 L408.90,458.49 L410.38,458.72 L411.85,458.98 L413.33,459.25 L414.80,459.53 L416.27,459.82 L417.74,460.11 L419.21,460.41 L420.68,460.72 L422.15,461.03 L423.61,461.35 L425.08,461.68 L426.54,462.01 L428.00,462.34 L429.47,462.68 L430.93,463.01 L432.39,463.35 L433.85,463.68 L435.32,464.01 L436.78,464.34 L438.24,464.66 L439.71,464.99 L441.17,465.31 L442.64,465.64 L444.10,465.97 L445.56,466.30 L447.02,466.64 L448.48,466.99 L449.94,467.34 L451.40,467.70 L452.85,468.06 L454.31,468.43 L455.76,468.81 L457.21,469.19 L458.66,469.58 L460.11,469.97 L461.55,470.37 L463.00,470.77 L464.44,471.18 L465.88,471.60 L467.32,472.03 L468.75,472.46 L470.19,472.90 L471.62,473.35 L473.04,473.82 L474.47,474.29 L475.88,474.78 L477.30,475.28 L478.71,475.79 L480.11,476.32 L481.51,476.86 L482.90,477.42 L484.29,477.98 L485.68,478.55 L487.06,479.13 L488.45,479.71 L489.83,480.29 L491.21,480.87 L492.59,481.47 L493.96,482.06 L495.34,482.67 L496.70,483.28 L498.06,483.91 L499.42,484.56 L500.76,485.22 L502.10,485.90 L503.43,486.59 L504.75,487.30 L506.06,488.02 L507.37,488.75 L508.68,489.49 L509.98,490.24 L511.27,491.00 L512.56,491.76 L513.85,492.53 L515.13,493.32 L516.40,494.11 L517.66,494.92 L518.91,495.74 L520.15,496.59 L521.37,497.45 L522.58,498.34 L523.77,499.25 L524.94,500.19 L526.09,501.14 L527.23,502.12 L528.34,503.12 L529.44,504.14 L530.52,505.18 L531.59,506.23 L532.64,507.30 L533.68,508.39 L534.70,509.48 L535.71,510.59 L536.70,511.71 L537.69,512.84 L538.66,513.98 L539.62,515.13 L540.57,516.30 L541.50,517.47 L542.42,518.65 L543.34,519.84 L544.23,521.04 L545.12,522.25 L545.99,523.48 L546.84,524.71 L547.67,525.95 L548.48,527.21 L549.27,528.49 L550.04,529.77 L550.79,531.07 L551.53,532.38 L552.24,533.70 L552.94,535.02 L553.62,536.36 L554.30,537.69 L554.97,539.03 L555.64,540.38 L556.31,541.72 L556.98,543.06 L557.65,544.40 L558.33,545.74 L559.00,547.08 L559.67,548.43 L560.32,549.77 L560.96,551.13 L561.58,552.49 L562.16,553.87 L562.72,555.26 L563.24,556.66 L563.73,558.08 L564.19,559.51 L564.61,560.94 L565.01,562.39 L565.38,563.84 L565.73,565.30 L566.05,566.76 L566.37,568.22 L566.66,569.69 L566.95,571.17 L567.23,572.64 L567.51,574.11 L567.78,575.59 L568.06,577.06 L568.34,578.54 L568.62,580.01 L568.91,581.48 L569.21,582.95 L569.51,584.42 L569.81,585.89 L570.12,587.36 L570.42,588.83 L570.72,590.30 L571.02,591.77 L571.31,593.24 L571.60,594.71 L571.88,596.18 L572.15,597.66 L572.41,599.14 L572.66,600.61 L572.91,602.09 L573.14,603.58 L573.36,605.06 L573.58,606.54 L573.79,608.03 L574.00,609.51 L574.20,611.00 L574.40,612.49 L574.59,613.97 L574.78,615.46 L574.98,616.95 L575.17,618.44 L575.36,619.92 L575.55,621.41 L575.74,622.90 L575.93,624.39 L576.12,625.88 L576.31,627.36 L576.50,628.85 L576.68,630.34 L576.87,631.83 L577.06,633.32 L577.25,634.80 L577.44,636.29 L577.64,637.78 L577.84,639.27 L578.05,640.75 L578.26,642.24 L578.49,643.72 L578.72,645.20 L578.96,646.68 L579.21,648.16 L579.47,649.64 L579.73,651.11 L580.00,652.59 L580.28,654.06 L580.56,655.54 L580.84,657.01 L581.13,658.48 L581.41,659.95 L581.70,661.43 L581.99,662.90 L582.29,664.37 L582.59,665.84 L582.89,667.31 L583.21,668.77 L583.52,670.24 L583.84,671.70 L584.15,673.17 L584.46,674.64 L584.75,676.11 L585.03,677.58 L585.29,679.06 L585.54,680.54 L585.76,682.02 L585.96,683.51 L586.15,684.99 L586.31,686.48 L586.46,687.98 L586.58,689.47 L586.70,690.96 L586.80,692.46 L586.90,693.96 L586.99,695.45 L587.07,696.95 L587.16,698.45 L587.25,699.95 L587.35,701.44 L587.46,702.94 L587.58,704.43 L587.73,705.92 L587.91,707.40 L588.15,708.88 L588.44,710.34 L588.79,711.78 L589.21,713.21 L589.69,714.62 L590.22,716.01 L590.79,717.40 L591.39,718.77 L592.01,720.13 L592.64,721.49 L593.28,722.85 L593.94,724.19 L594.62,725.53 L595.31,726.86 L596.03,728.17 L596.77,729.47 L597.54,730.76 L598.34,732.03 L599.17,733.27 L600.03,734.49 L600.94,735.67 L601.89,736.82 L602.89,737.93 L603.93,739.00 L605.01,740.02 L606.14,740.98 L607.32,741.89 L608.54,742.74 L609.80,743.54 L611.09,744.27 L612.42,744.93 L613.78,745.53 L615.17,746.07 L616.58,746.55 L618.01,746.98 L619.46,747.36 L620.92,747.71 L622.38,748.02 L623.85,748.31 L625.32,748.58 L626.80,748.83 L628.28,749.07 L629.77,749.30 L631.25,749.51 L632.73,749.72 L634.22,749.93 L635.71,750.13 L637.19,750.34 L638.68,750.54 L640.16,750.75 L641.65,750.95 L643.14,751.16 L644.62,751.36 L646.11,751.56 L647.60,751.75 L649.08,751.94 L650.57,752.12 L652.06,752.30 L653.55,752.47 L655.04,752.63 L656.54,752.79 L658.03,752.94 L659.52,753.09 L661.01,753.24 L662.51,753.38 L664.00,753.53 L665.49,753.68 L666.98,753.83 L668.47,753.99 L669.97,754.16 L671.46,754.33 L672.95,754.50 L674.44,754.68 L675.92,754.86 L677.41,755.05 L678.90,755.24 L680.39,755.43 L681.87,755.63 L683.36,755.83 L684.85,756.04 L686.33,756.25 L687.82,756.46 L689.30,756.68 L690.79,756.89 L692.27,757.12 L693.75,757.34 L695.23,757.57 L696.72,757.80" stroke="#008080"/>
<path d="M193.00,457.30 L194.50,457.29 L196.00,457.28 L197.50,457.26 L199.00,457.25 L200.50,457.24 L202.00,457.23 L203.50,457.22 L205.00,457.20 L206.50,457.19 L208.00,457.18 L209.50,457.17 L211.00,457.15 L212.50,457.14 L214.00,457.13 L215.50,457.12 L217.00,457.11 L218.50,457.09 L220.00,457.08 L221.50,457.07 L223.00,457.06 L224.50,457.05 L226.00,457.03 L227.50,457.02 L229.00,457.01 L230.50,457.00 L232.00,456.99 L233.50,456.97 L235.00,456.96 L236.50,456.95 L238.00,456.94 L239.50,456.93 L241.00,456.91 L242.50,456.90 L244.00,456.89 L245.50,456.88 L247.00,456.87 L248.50,456.85 L250.00,456.84 L251.50,456.83 L253.00,456.82 L254.50,456.80 L256.00,456.79 L257.50,456.78 L259.00,456.77 L260.50,456.76 L262.00,456.74 L263.50,456.73 L265.00,456.72 L266.50,456.71 L268.00,456.70 L269.50,456.68 L271.00,456.67 L272.50,456.66 L274.00,456.65 L275.50,456.64 L277.00,456.62 L278.50,456.61 L280.00,456.60 L281.50,456.59 L283.00,456.57 L284.50,456.56 L286.00,456.55 L287.50,456.53 L289.00,456.52 L290.50,456.50 L292.00,456.49 L293.50,456.48 L295.00,456.46 L296.50,456.44 L298.00,456.43 L299.50,456.41 L301.00,456.40 L302.50,456.38 L304.00,456.37 L305.50,456.35 L307.00,456.33 L308.50,456.32 L310.00,456.30 L311.50,456.29 L313.00,456.27 L314.50,456.26 L316.00,456.24 L317.50,456.23 L319.00,456.21 L320.50,456.20 L322.00,456.18 L323.50,456.17 L324.99,456.15 L326.49,456.14 L327.99,456.13 L329.49,456.12 L330.99,456.10 L332.49,456.09 L333.99,456.08 L335.49,456.07 L336.99,456.06 L338.49,456.05 L339.99,456.05 L341.49,456.04 L342.99,456.03 L344.49,456.02 L345.99,456.02 L347.49,456.01 L348.99,456.01 L350.49,456.01 L351.99,456.01 L353.49,456.00 L354.99,456.00 L356.49,456.01 L357.99,456.01 L359.49,456.01 L360.99,456.02 L362.49,456.03 L363.99,456.04 L365.49,456.05 L366.99,456.06 L368.49,456.07 L369.99,456.09 L371.49,456.10 L372.99,456.12 L374.49,456.14 L375.99,456.16 L377.49,456.18 L378.99,456.20 L380.49,456.23 L381.99,456.27 L383.49,456.31 L384.99,456.35 L386.49,456.41 L387.99,456.47 L389.49,456.54 L390.98,456.61 L392.48,456.70 L393.98,456.79 L395.48,456.89 L396.97,457.00 L398.47,457.11 L399.96,457.24 L401.45,457.37 L402.95,457.53 L404.43,457.71 L405.92,457.91 L407.40,458.14 L408.87,458.41 L410.34,458.70 L411.80,459.01 L413.27,459.35 L414.72,459.69 L416.18,460.05 L417.64,460.40 L419.10,460.76 L420.55,461.12 L422.01,461.47 L423.47,461.83 L424.92,462.20 L426.38,462.56 L427.83,462.93 L429.28,463.30 L430.74,463.66 L432.19,464.03 L433.65,464.40 L435.10,464.76 L436.56,465.12 L438.01,465.49 L439.47,465.85 L440.93,466.21 L442.38,466.57 L443.84,466.93 L445.29,467.30 L446.75,467.67 L448.20,468.04 L449.65,468.42 L451.10,468.80 L452.55,469.18 L454.00,469.56 L455.45,469.95 L456.90,470.34 L458.35,470.73 L459.79,471.12 L461.24,471.52 L462.69,471.93 L464.13,472.33 L465.57,472.75 L467.01,473.16 L468.45,473.59 L469.89,474.02 L471.32,474.46 L472.75,474.91 L474.18,475.37 L475.61,475.83 L477.03,476.31 L478.44,476.80 L479.86,477.30 L481.27,477.81 L482.67,478.33 L484.08,478.86 L485.48,479.40 L486.88,479.94 L488.27,480.49 L489.67,481.04 L491.06,481.60 L492.45,482.16 L493.84,482.73 L495.22,483.31 L496.59,483.91 L497.96,484.53 L499.31,485.17 L500.65,485.84 L501.98,486.54 L503.29,487.26 L504.59,488.01 L505.87,488.78 L507.15,489.57 L508.41,490.38 L509.66,491.21 L510.89,492.06 L512.11,492.92 L513.32,493.81 L514.52,494.72 L515.70,495.64 L516.87,496.57 L518.03,497.52 L519.18,498.48 L520.33,499.45 L521.46,500.43 L522.59,501.42 L523.71,502.42 L524.82,503.42 L525.91,504.45 L526.99,505.49 L528.05,506.55 L529.08,507.63 L530.10,508.73 L531.09,509.86 L532.06,511.00 L533.00,512.16 L533.93,513.34 L534.84,514.53 L535.74,515.73 L536.62,516.94 L537.48,518.17 L538.34,519.40 L539.18,520.64 L540.01,521.89 L540.82,523.15 L541.63,524.41 L542.43,525.68 L543.22,526.96 L544.00,528.24 L544.77,529.53 L545.53,530.82 L546.28,532.12 L547.01,533.43 L547.73,534.74 L548.43,536.07 L549.11,537.40 L549.77,538.75 L550.41,540.10 L551.03,541.47 L551.63,542.84 L552.22,544.22 L552.78,545.61 L553.34,547.00 L553.88,548.40 L554.41,549.80 L554.92,551.21 L555.42,552.63 L555.91,554.04 L556.37,555.47 L556.81,556.90 L557.23,558.34 L557.63,559.79 L558.00,561.24 L558.34,562.70 L558.66,564.16 L558.96,565.63 L559.24,567.10 L559.51,568.58 L559.77,570.05 L560.04,571.53 L560.31,573.00 L560.59,574.48 L560.89,575.95 L561.20,577.41 L561.54,578.87 L561.90,580.33 L562.27,581.78 L562.66,583.23 L563.05,584.67 L563.43,586.12 L563.80,587.58 L564.14,589.03 L564.47,590.50 L564.76,591.97 L565.04,593.44 L565.29,594.92 L565.52,596.40 L565.74,597.88 L565.95,599.37 L566.15,600.85 L566.35,602.34 L566.54,603.83 L566.74,605.31 L566.94,606.80 L567.14,608.29 L567.35,609.77 L567.56,611.26 L567.79,612.74 L568.02,614.22 L568.26,615.70 L568.50,617.18 L568.75,618.66 L569.01,620.14 L569.27,621.62 L569.53,623.09 L569.79,624.57 L570.06,626.05 L570.32,627.52 L570.59,629.00 L570.85,630.48 L571.12,631.95 L571.38,633.43 L571.63,634.91 L571.89,636.38 L572.15,637.86 L572.40,639.34 L572.66,640.82 L572.91,642.30 L573.17,643.78 L573.43,645.25 L573.68,646.73 L573.94,648.21 L574.21,649.68 L574.47,651.16 L574.74,652.64 L575.01,654.11 L575.29,655.59 L575.57,657.06 L575.85,658.53 L576.13,660.01 L576.42,661.48 L576.70,662.95 L576.99,664.42 L577.29,665.89 L577.59,667.36 L577.89,668.83 L578.19,670.30 L578.50,671.77 L578.81,673.24 L579.12,674.71 L579.44,676.17 L579.76,677.64 L580.08,679.10 L580.40,680.57 L580.72,682.03 L581.05,683.50 L581.38,684.96 L581.70,686.42 L582.04,687.89 L582.37,689.35 L582.71,690.81 L583.05,692.27 L583.39,693.73 L583.74,695.19 L584.09,696.65 L584.45,698.10 L584.82,699.56 L585.19,701.01 L585.57,702.46 L585.96,703.91 L586.36,705.36 L586.77,706.80 L587.19,708.24 L587.62,709.67 L588.07,711.11 L588.53,712.53 L589.02,713.95 L589.52,715.36 L590.05,716.76 L590.60,718.16 L591.17,719.54 L591.78,720.91 L592.41,722.27 L593.06,723.62 L593.75,724.95 L594.46,726.27 L595.20,727.57 L595.96,728.86 L596.76,730.13 L597.58,731.37 L598.44,732.60 L599.34,733.79 L600.27,734.96 L601.24,736.09 L602.26,737.18 L603.32,738.23 L604.42,739.23 L605.57,740.17 L606.76,741.06 L608.00,741.89 L609.27,742.64 L610.59,743.31 L611.95,743.89 L613.34,744.39 L614.76,744.80 L616.20,745.14 L617.67,745.41 L619.14,745.64 L620.63,745.83 L622.12,746.00 L623.61,746.15 L625.10,746.29 L626.60,746.42 L628.09,746.54 L629.59,746.66 L631.08,746.78 L632.58,746.90 L634.07,747.02 L635.56,747.15 L637.06,747.30 L638.55,747.46 L640.04,747.63 L641.52,747.82 L643.01,748.02 L644.50,748.23 L645.98,748.45 L647.46,748.68 L648.94,748.90 L650.43,749.13 L651.91,749.35 L653.39,749.57 L654.88,749.79 L656.36,750.01 L657.85,750.22 L659.33,750.43 L660.82,750.65 L662.30,750.86 L663.79,751.08 L665.27,751.30 L666.75,751.52 L668.24,751.74 L669.72,751.97 L671.20,752.21 L672.68,752.44 L674.16,752.69 L675.64,752.93 L677.12,753.18 L678.60,753.43 L680.08,753.68 L681.56,753.94 L683.03,754.20 L684.51,754.46 L685.99,754.73 L687.46,755.00 L688.94,755.27 L690.41,755.54 L691.89,755.82 L693.36,756.10 L694.83,756.39 L696.30,756.67 L697.78,756.96" stroke="#ff00ff"/>
<path d="M193.00,458.10 L194.50,458.09 L196.00,458.08 L197.50,458.06 L199.00,458.05 L200.50,458.04 L202.00,458.03 L203.50,458.02 L205.00,458.00 L206.50,457.99 L208.00,457.98 L209.50,457.97 L211.00,457.95 L212.50,457.94 L214.00,457.93 L215.50,457.92 L217.00,457.91 L218.50,457.89 L220.00,457.88 L221.50,457.87 L223.00,457.86 L224.50,457.85 L226.00,457.83 L227.50,457.82 L229.00,457.81 L230.50,457.80 L232.00,457.79 L233.50,457.77 L235.00,457.76 L236.50,457.75 L238.00,457.74 L239.50,457.73 L241.00,457.71 L242.50,457.70 L244.00,457.69 L245.50,457.68 L247.00,457.67 L248.50,457.65 L250.00,457.64 L251.50,457.63 L253.00,457.62 L254.50,457.60 L256.00,457.59 L257.50,457.58 L259.00,457.57 L260.50,457.56 L262.00,457.54 L263.50,457.53 L265.00,457.52 L266.50,457.51 L268.00,457.50 L269.50,457.48 L271.00,457.47 L272.50,457.46 L274.00,457.45 L275.50,457.44 L277.00,457.42 L278.50,457.41 L280.00,457.40 L281.50,457.39 L283.00,457.37 L284.50,457.36 L286.00,457.35 L287.50,457.33 L289.00,457.32 L290.50,457.30 L292.00,457.29 L293.50,457.28 L295.00,457.26 L296.50,457.24 L298.00,457.23 L299.50,457.21 L301.00,457.20 L302.50,457.18 L304.00,457.17 L305.50,457.15 L307.00,457.13 L308.50,457.12 L310.00,457.10 L311.50,457.09 L313.00,457.07 L314.50,457.06 L316.00,457.04 L317.50,457.03 L319.00,457.01 L320.50,457.00 L322.00,456.98 L323.50,456.97 L324.99,456.95 L326.49,456.94 L327.99,456.93 L329.49,456.92 L330.99,456.90 L332.49,456.89 L333.99,456.88 L335.49,456.87 L336.99,456.86 L338.49,456.85 L339.99,456.85 L341.49,456.84 L342.99,456.83 L344.49,456.82 L345.99,456.82 L347.49,456.81 L348.99,456.81 L350.49,456.81 L351.99,456.80 L353.49,456.80 L354.99,456.80 L356.49,456.80 L357.99,456.80 L359.49,456.80 L360.99,456.80 L362.49,456.80 L363.99,456.80 L365.49,456.81 L366.99,456.81 L368.49,456.81 L369.99,456.81 L371.49,456.81 L372.99,456.82 L374.49,456.82 L375.99,456.82 L377.49,456.83 L378.99,456.84 L380.49,456.85 L381.99,456.87 L383.49,456.90 L384.99,456.93 L386.49,456.98 L387.99,457.03 L389.49,457.10 L390.99,457.17 L392.49,457.25 L393.98,457.34 L395.48,457.44 L396.97,457.54 L398.47,457.66 L399.96,457.79 L401.46,457.93 L402.94,458.09 L404.43,458.29 L405.91,458.52 L407.38,458.78 L408.84,459.09 L410.30,459.43 L411.75,459.81 L413.19,460.21 L414.63,460.62 L416.07,461.04 L417.51,461.45 L418.96,461.87 L420.40,462.27 L421.84,462.68 L423.29,463.08 L424.74,463.48 L426.18,463.88 L427.63,464.28 L429.07,464.68 L430.52,465.07 L431.96,465.47 L433.41,465.87 L434.86,466.27 L436.30,466.67 L437.75,467.06 L439.20,467.46 L440.64,467.85 L442.09,468.25 L443.54,468.65 L444.98,469.05 L446.43,469.45 L447.87,469.85 L449.32,470.26 L450.76,470.66 L452.20,471.07 L453.65,471.48 L455.09,471.89 L456.53,472.31 L457.97,472.72 L459.41,473.14 L460.85,473.56 L462.29,473.98 L463.73,474.41 L465.17,474.84 L466.60,475.27 L468.04,475.71 L469.47,476.16 L470.90,476.61 L472.33,477.07 L473.75,477.54 L475.18,478.01 L476.60,478.50 L478.01,478.99 L479.43,479.49 L480.84,480.00 L482.24,480.52 L483.65,481.05 L485.05,481.58 L486.45,482.12 L487.85,482.66 L489.24,483.21 L490.64,483.76 L492.03,484.32 L493.42,484.89 L494.80,485.47 L496.18,486.06 L497.55,486.67 L498.91,487.30 L500.26,487.95 L501.60,488.62 L502.93,489.31 L504.25,490.03 L505.55,490.76 L506.86,491.50 L508.15,492.26 L509.44,493.03 L510.72,493.81 L511.99,494.59 L513.26,495.39 L514.52,496.20 L515.78,497.02 L517.03,497.86 L518.27,498.70 L519.50,499.55 L520.73,500.42 L521.94,501.29 L523.15,502.18 L524.35,503.09 L525.53,504.01 L526.69,504.95 L527.84,505.91 L528.97,506.90 L530.08,507.91 L531.16,508.94 L532.22,509.99 L533.27,511.07 L534.29,512.16 L535.30,513.27 L536.29,514.40 L537.26,515.54 L538.22,516.69 L539.16,517.86 L540.09,519.03 L541.00,520.22 L541.90,521.42 L542.79,522.63 L543.66,523.85 L544.52,525.08 L545.36,526.32 L546.19,527.57 L547.00,528.83 L547.78,530.11 L548.55,531.40 L549.29,532.70 L550.01,534.01 L550.71,535.34 L551.39,536.67 L552.06,538.02 L552.71,539.37 L553.35,540.72 L553.97,542.09 L554.58,543.46 L555.18,544.83 L555.76,546.21 L556.33,547.60 L556.89,548.99 L557.44,550.39 L557.98,551.78 L558.52,553.19 L559.05,554.59 L559.58,555.99 L560.10,557.40 L560.62,558.81 L561.13,560.22 L561.63,561.63 L562.13,563.05 L562.60,564.47 L563.07,565.89 L563.52,567.32 L563.97,568.75 L564.40,570.19 L564.82,571.63 L565.24,573.07 L565.65,574.51 L566.06,575.95 L566.46,577.40 L566.86,578.84 L567.26,580.29 L567.66,581.74 L568.05,583.19 L568.44,584.63 L568.82,586.08 L569.20,587.54 L569.57,588.99 L569.93,590.44 L570.28,591.90 L570.62,593.36 L570.95,594.83 L571.27,596.29 L571.57,597.76 L571.86,599.23 L572.14,600.71 L572.40,602.18 L572.65,603.66 L572.89,605.14 L573.12,606.62 L573.33,608.11 L573.54,609.59 L573.74,611.08 L573.93,612.57 L574.12,614.06 L574.31,615.54 L574.50,617.03 L574.69,618.52 L574.88,620.01 L575.07,621.50 L575.26,622.98 L575.44,624.47 L575.63,625.96 L575.82,627.45 L576.01,628.94 L576.19,630.42 L576.38,631.91 L576.57,633.40 L576.76,634.89 L576.95,636.38 L577.15,637.86 L577.35,639.35 L577.56,640.84 L577.77,642.32 L578.00,643.80 L578.23,645.28 L578.47,646.76 L578.72,648.24 L578.98,649.72 L579.25,651.20 L579.52,652.67 L579.79,654.15 L580.07,655.62 L580.36,657.09 L580.64,658.57 L580.93,660.04 L581.21,661.51 L581.49,662.98 L581.77,664.46 L582.05,665.93 L582.33,667.41 L582.60,668.88 L582.88,670.36 L583.15,671.83 L583.42,673.30 L583.70,674.78 L583.98,676.25 L584.26,677.73 L584.54,679.20 L584.82,680.67 L585.12,682.14 L585.41,683.61 L585.71,685.08 L586.02,686.55 L586.33,688.02 L586.64,689.49 L586.96,690.95 L587.28,692.42 L587.61,693.88 L587.94,695.34 L588.27,696.81 L588.61,698.27 L588.96,699.73 L589.31,701.19 L589.66,702.64 L590.02,704.10 L590.39,705.55 L590.76,707.01 L591.15,708.46 L591.54,709.90 L591.94,711.35 L592.35,712.79 L592.78,714.23 L593.22,715.66 L593.69,717.08 L594.18,718.50 L594.70,719.90 L595.24,721.30 L595.82,722.68 L596.42,724.05 L597.05,725.41 L597.71,726.75 L598.40,728.08 L599.13,729.39 L599.88,730.69 L600.66,731.96 L601.49,733.20 L602.36,734.42 L603.27,735.60 L604.22,736.75 L605.22,737.86 L606.26,738.92 L607.35,739.95 L608.47,740.93 L609.63,741.86 L610.83,742.75 L612.06,743.59 L613.33,744.37 L614.63,745.09 L615.97,745.74 L617.33,746.33 L618.73,746.85 L620.14,747.31 L621.58,747.73 L623.03,748.10 L624.49,748.44 L625.95,748.74 L627.42,749.03 L628.90,749.30 L630.38,749.55 L631.86,749.79 L633.34,750.03 L634.82,750.25 L636.30,750.48 L637.79,750.69 L639.27,750.91 L640.76,751.12 L642.24,751.33 L643.73,751.53 L645.22,751.73 L646.70,751.93 L648.19,752.12 L649.68,752.31 L651.17,752.49 L652.66,752.67 L654.14,752.85 L655.63,753.02 L657.13,753.19 L658.62,753.36 L660.11,753.53 L661.60,753.69 L663.09,753.85 L664.58,754.02 L666.07,754.19 L667.56,754.35 L669.05,754.53 L670.54,754.70 L672.03,754.88 L673.52,755.06 L675.01,755.24 L676.50,755.43 L677.98,755.61 L679.47,755.80 L680.96,755.99 L682.45,756.19 L683.94,756.38 L685.42,756.58 L686.91,756.77 L688.40,756.97 L689.88,757.17 L691.37,757.38 L692.85,757.58 L694.34,757.79 L695.83,757.99 L697.31,758.20" stroke="#808000"/>
<path d="M193.00,457.30 L194.50,457.29 L196.00,457.28 L197.50,457.26 L199.00,457.25 L200.50,457.24 L202.00,457.23 L203.50,457.22 L205.00,457.20 L206.50,457.19 L208.00,457.18 L209.50,457.17 L211.00,457.15 L212.50,457.14 L214.00,457.13 L215.50,457.12 L217.00,457.11 L218.50,457.09 L220.00,457.08 L221.50,457.07 L223.00,457.06 L224.50,457.05 L226.00,457.03 L227.50,457.02 L229.00,457.01 L230.50,457.00 L232.00,456.99 L233.50,456.97 L235.00,456.96 L236.50,456.95 L238.00,456.94 L239.50,456.93 L241.00,456.91 L242.50,456.90 L244.00,456.89 L245.50,456.88 L247.00,456.87 L248.50,456.85 L250.00,456.84 L251.50,456.83 L253.00,456.82 L254.50,456.80 L256.00,456.79 L257.50,456.78 L259.00,456.77 L260.50,456.76 L262.00,456.74 L263.50,456.73 L265.00,456.72 L266.50,456.71 L268.00,456.70 L269.50,456.68 L271.00,456.67 L272.50,456.66 L274.00,456.65 L275.50,456.64 L277.00,456.62 L278.50,456.61 L280.00,456.60 L281.50,456.59 L283.00,456.57 L284.50,456.56 L286.00,456.55 L287.50,456.53 L289.00,456.52 L290.50,456.50 L292.00,456.49 L293.50,456.48 L295.00,456.46 L296.50,456.44 L298.00,456.43 L299.50,456.41 L301.00,456.40 L302.50,456.38 L304.00,456.37 L305.50,456.35 L307.00,456.33 L308.50,456.32 L310.00,456.30 L311.50,456.29 L313.00,456.27 L314.50,456.26 L316.00,456.24 L317.50,456.23 L319.00,456.21 L320.50,456.20 L322.00,456.18 L323.50,456.17 L324.99,456.15 L326.49,456.14 L327.99,456.13 L329.49,456.12 L330.99,456.10 L332.49,456.09 L333.99,456.08 L335.49,456.07 L336.99,456.06 L338.49,456.05 L339.99,456.05 L341.49,456.04 L342.99,456.03 L344.49,456.02 L345.99,456.02 L347.49,456.01 L348.99,456.01 L350.49,456.01 L351.99,456.01 L353.49,456.01 L354.99,456.01 L356.49,456.02 L357.99,456.03 L359.49,456.04 L360.99,456.06 L362.49,456.09 L363.99,456.11 L365.49,456.15 L366.99,456.18 L368.49,456.22 L369.99,456.26 L371.49,456.31 L372.99,456.35 L374.49,456.40 L375.99,456.46 L377.49,456.51 L378.99,456.57 L380.48,456.63 L381.98,456.69 L383.48,456.76 L384.98,456.84 L386.48,456.92 L387.97,457.01 L389.47,457.11 L390.97,457.21 L392.46,457.33 L393.96,457.45 L395.45,457.59 L396.94,457.74 L398.43,457.90 L399.92,458.08 L401.40,458.29 L402.88,458.53 L404.35,458.81 L405.80,459.14 L407.24,459.52 L408.66,459.96 L410.07,460.46 L411.47,461.00 L412.85,461.57 L414.23,462.16 L415.60,462.75 L416.98,463.35 L418.36,463.94 L419.74,464.52 L421.12,465.10 L422.51,465.67 L423.90,466.24 L425.29,466.80 L426.68,467.36 L428.07,467.92 L429.46,468.48 L430.86,469.03 L432.26,469.57 L433.66,470.10 L435.07,470.62 L436.48,471.14 L437.89,471.64 L439.30,472.14 L440.72,472.63 L442.14,473.12 L443.55,473.61 L444.97,474.11 L446.38,474.61 L447.80,475.11 L449.20,475.63 L450.61,476.15 L452.01,476.69 L453.41,477.23 L454.81,477.77 L456.20,478.33 L457.59,478.89 L458.98,479.45 L460.37,480.03 L461.75,480.60 L463.14,481.19 L464.52,481.77 L465.89,482.36 L467.27,482.96 L468.64,483.56 L470.01,484.17 L471.38,484.78 L472.75,485.40 L474.11,486.02 L475.48,486.66 L476.83,487.29 L478.19,487.94 L479.54,488.59 L480.88,489.25 L482.23,489.92 L483.57,490.59 L484.91,491.27 L486.24,491.95 L487.58,492.63 L488.92,493.31 L490.25,493.99 L491.59,494.67 L492.93,495.35 L494.26,496.03 L495.59,496.73 L496.92,497.42 L498.24,498.14 L499.55,498.86 L500.85,499.61 L502.15,500.36 L503.43,501.14 L504.71,501.92 L505.97,502.73 L507.23,503.54 L508.48,504.37 L509.72,505.21 L510.96,506.06 L512.18,506.93 L513.40,507.80 L514.60,508.69 L515.80,509.60 L516.99,510.51 L518.17,511.43 L519.35,512.37 L520.51,513.31 L521.67,514.26 L522.82,515.23 L523.96,516.20 L525.09,517.19 L526.21,518.18 L527.32,519.19 L528.42,520.21 L529.50,521.25 L530.58,522.29 L531.65,523.34 L532.71,524.40 L533.76,525.48 L534.80,526.56 L535.82,527.65 L536.84,528.75 L537.84,529.87 L538.82,531.00 L539.78,532.15 L540.71,533.32 L541.63,534.51 L542.51,535.72 L543.36,536.95 L544.18,538.20 L544.95,539.48 L545.68,540.78 L546.38,542.10 L547.05,543.44 L547.69,544.79 L548.33,546.15 L548.96,547.50 L549.61,548.86 L550.26,550.21 L550.92,551.55 L551.58,552.90 L552.24,554.25 L552.88,555.60 L553.51,556.96 L554.13,558.33 L554.73,559.70 L555.31,561.09 L555.87,562.47 L556.42,563.87 L556.95,565.27 L557.47,566.68 L557.98,568.09 L558.48,569.50 L558.97,570.92 L559.45,572.34 L559.93,573.76 L560.40,575.19 L560.88,576.61 L561.36,578.03 L561.84,579.45 L562.32,580.87 L562.81,582.29 L563.30,583.71 L563.79,585.13 L564.27,586.54 L564.76,587.96 L565.24,589.38 L565.71,590.81 L566.17,592.23 L566.63,593.66 L567.07,595.10 L567.50,596.53 L567.92,597.97 L568.32,599.42 L568.72,600.86 L569.11,602.31 L569.50,603.76 L569.89,605.21 L570.29,606.65 L570.71,608.09 L571.14,609.53 L571.60,610.95 L572.09,612.37 L572.60,613.78 L573.13,615.17 L573.68,616.57 L574.22,617.97 L574.74,619.37 L575.23,620.78 L575.69,622.20 L576.10,623.64 L576.47,625.09 L576.80,626.55 L577.10,628.01 L577.38,629.49 L577.64,630.96 L577.89,632.44 L578.14,633.92 L578.38,635.40 L578.62,636.88 L578.85,638.36 L579.10,639.84 L579.34,641.32 L579.59,642.80 L579.85,644.28 L580.11,645.76 L580.37,647.23 L580.64,648.71 L580.91,650.19 L581.18,651.66 L581.45,653.14 L581.73,654.61 L582.00,656.09 L582.28,657.56 L582.55,659.04 L582.83,660.51 L583.10,661.98 L583.38,663.46 L583.65,664.93 L583.92,666.41 L584.20,667.88 L584.47,669.36 L584.74,670.83 L585.01,672.31 L585.29,673.78 L585.56,675.26 L585.84,676.73 L586.12,678.21 L586.41,679.68 L586.69,681.15 L586.99,682.62 L587.29,684.09 L587.59,685.56 L587.91,687.03 L588.22,688.49 L588.55,689.96 L588.88,691.42 L589.21,692.88 L589.54,694.34 L589.89,695.81 L590.23,697.26 L590.58,698.72 L590.94,700.18 L591.30,701.64 L591.67,703.09 L592.04,704.54 L592.42,705.99 L592.81,707.44 L593.20,708.89 L593.60,710.34 L594.00,711.78 L594.42,713.22 L594.85,714.66 L595.30,716.09 L595.78,717.51 L596.27,718.92 L596.80,720.32 L597.35,721.72 L597.93,723.09 L598.55,724.46 L599.20,725.81 L599.88,727.14 L600.60,728.45 L601.36,729.73 L602.16,730.99 L603.01,732.22 L603.91,733.41 L604.86,734.55 L605.86,735.64 L606.93,736.68 L608.05,737.65 L609.22,738.55 L610.45,739.38 L611.72,740.13 L613.04,740.82 L614.39,741.44 L615.77,742.01 L617.17,742.52 L618.59,742.99 L620.02,743.43 L621.46,743.83 L622.91,744.21 L624.37,744.56 L625.83,744.90 L627.30,745.21 L628.77,745.51 L630.24,745.79 L631.71,746.06 L633.19,746.32 L634.67,746.57 L636.15,746.82 L637.63,747.06 L639.11,747.29 L640.59,747.52 L642.08,747.75 L643.56,747.97 L645.04,748.18 L646.53,748.40 L648.01,748.61 L649.50,748.83 L650.98,749.05 L652.46,749.28 L653.95,749.51 L655.43,749.75 L656.91,749.99 L658.39,750.23 L659.87,750.47 L661.35,750.72 L662.83,750.97 L664.30,751.22 L665.78,751.48 L667.26,751.73 L668.74,751.98 L670.22,752.23 L671.70,752.48 L673.18,752.74 L674.66,752.99 L676.13,753.24 L677.61,753.49 L679.09,753.74 L680.57,754.00 L682.05,754.25 L683.53,754.50 L685.01,754.76 L686.48,755.01 L687.96,755.26 L689.44,755.52 L690.92,755.77 L692.40,756.03 L693.87,756.28 L695.35,756.54 L696.83,756.80" stroke="#000080"/>
<path d="M193.00,457.60 L194.50,457.59 L196.00,457.58 L197.50,457.56 L199.00,457.55 L200.50,457.54 L202.00,457.53 L203.50,457.52 L205.00,457.50 L206.50,457.49 L208.00,457.48 L209.50,457.47 L211.00,457.45 L212.50,457.44 L214.00,457.43 L215.50,457.42 L217.00,457.41 L218.50,457.39 L220.00,457.38 L221.50,457.37 L223.00,457.36 L224.50,457.35 L226.00,457.33 L227.50,457.32 L229.00,457.31 L230.50,457.30 L232.00,457.29 L233.50,457.27 L235.00,457.26 L236.50,457.25 L238.00,457.24 L239.50,457.23 L241.00,457.21 L242.50,457.20 L244.00,457.19 L245.50,457.18 L247.00,457.17 L248.50,457.15 L250.00,457.14 L251.50,457.13 L253.00,457.12 L254.50,457.10 L256.00,457.09 L257.50,457.08 L259.00,457.07 L260.50,457.06 L262.00,457.04 L263.50,457.03 L265.00,457.02 L266.50,457.01 L268.00,457.00 L269.50,456.98 L271.00,456.97 L272.50,456.96 L274.00,456.95 L275.50,456.94 L277.00,456.92 L278.50,456.91 L280.00,456.90 L281.50,456.89 L283.00,456.87 L284.50,456.86 L286.00,456.85 L287.50,456.83 L289.00,456.82 L290.50,456.80 L292.00,456.79 L293.50,456.78 L295.00,456.76 L296.50,456.74 L298.00,456.73 L299.50,456.71 L301.00,456.70 L302.50,456.68 L304.00,456.67 L305.50,456.65 L307.00,456.63 L308.50,456.62 L310.00,456.60 L311.50,456.59 L313.00,456.57 L314.50,456.56 L316.00,456.54 L317.50,456.53 L319.00,456.51 L320.50,456.50 L322.00,456.48 L323.50,456.47 L324.99,456.45 L326.49,456.44 L327.99,456.43 L329.49,456.42 L330.99,456.40 L332.49,456.39 L333.99,456.38 L335.49,456.37 L336.99,456.36 L338.49,456.35 L339.99,456.35 L341.49,456.34 L342.99,456.33 L344.49,456.32 L345.99,456.32 L347.49,456.31 L348.99,456.31 L350.49,456.31 L351.99,456.31 L353.49,456.31 L354.99,456.31 L356.49,456.31 L357.99,456.31 L359.49,456.32 L360.99,456.33 L362.49,456.34 L363.99,456.35 L365.49,456.37 L366.99,456.38 L368.49,456.40 L369.99,456.42 L371.49,456.45 L372.99,456.47 L374.49,456.50 L375.99,456.52 L377.49,456.55 L378.99,456.59 L380.49,456.63 L381.99,456.67 L383.49,456.72 L384.99,456.78 L386.49,456.85 L387.98,456.93 L389.48,457.02 L390.98,457.12 L392.47,457.22 L393.97,457.34 L395.46,457.46 L396.96,457.60 L398.45,457.75 L399.94,457.91 L401.43,458.09 L402.91,458.29 L404.39,458.52 L405.86,458.79 L407.32,459.10 L408.78,459.45 L410.22,459.85 L411.66,460.27 L413.09,460.72 L414.51,461.18 L415.93,461.66 L417.36,462.13 L418.78,462.60 L420.20,463.07 L421.63,463.54 L423.06,464.00 L424.48,464.47 L425.91,464.94 L427.33,465.40 L428.76,465.87 L430.18,466.33 L431.61,466.79 L433.04,467.25 L434.47,467.70 L435.91,468.14 L437.34,468.58 L438.78,469.01 L440.21,469.44 L441.65,469.87 L443.09,470.30 L444.53,470.73 L445.96,471.16 L447.40,471.60 L448.83,472.04 L450.26,472.49 L451.69,472.94 L453.12,473.40 L454.55,473.86 L455.97,474.33 L457.40,474.80 L458.82,475.27 L460.24,475.75 L461.66,476.23 L463.08,476.71 L464.50,477.20 L465.92,477.70 L467.33,478.20 L468.74,478.71 L470.15,479.22 L471.56,479.74 L472.96,480.26 L474.37,480.79 L475.77,481.33 L477.16,481.88 L478.55,482.44 L479.94,483.00 L481.33,483.58 L482.71,484.16 L484.09,484.75 L485.47,485.34 L486.84,485.94 L488.21,486.55 L489.59,487.16 L490.95,487.77 L492.32,488.39 L493.69,489.01 L495.04,489.64 L496.40,490.29 L497.74,490.95 L499.08,491.63 L500.41,492.32 L501.73,493.04 L503.04,493.77 L504.33,494.52 L505.62,495.28 L506.90,496.06 L508.18,496.86 L509.44,497.66 L510.69,498.48 L511.94,499.32 L513.18,500.16 L514.41,501.02 L515.63,501.89 L516.84,502.78 L518.04,503.67 L519.23,504.59 L520.41,505.51 L521.58,506.44 L522.74,507.39 L523.89,508.36 L525.03,509.34 L526.15,510.33 L527.26,511.34 L528.35,512.37 L529.43,513.40 L530.51,514.45 L531.57,515.51 L532.62,516.57 L533.67,517.65 L534.71,518.73 L535.74,519.82 L536.75,520.93 L537.75,522.04 L538.73,523.18 L539.69,524.32 L540.64,525.49 L541.56,526.67 L542.45,527.87 L543.33,529.09 L544.17,530.32 L544.98,531.58 L545.76,532.86 L546.51,534.15 L547.21,535.47 L547.89,536.81 L548.53,538.16 L549.15,539.52 L549.74,540.90 L550.33,542.28 L550.90,543.66 L551.47,545.05 L552.03,546.45 L552.58,547.84 L553.12,549.24 L553.65,550.64 L554.18,552.05 L554.70,553.45 L555.22,554.86 L555.73,556.27 L556.23,557.68 L556.73,559.10 L557.24,560.51 L557.73,561.93 L558.23,563.34 L558.73,564.76 L559.22,566.17 L559.72,567.59 L560.21,569.00 L560.71,570.42 L561.20,571.84 L561.68,573.26 L562.16,574.68 L562.63,576.10 L563.09,577.53 L563.55,578.96 L564.00,580.39 L564.44,581.82 L564.87,583.26 L565.29,584.70 L565.71,586.14 L566.12,587.58 L566.51,589.03 L566.90,590.48 L567.28,591.93 L567.64,593.38 L568.00,594.84 L568.34,596.30 L568.67,597.76 L568.98,599.23 L569.29,600.70 L569.57,602.17 L569.85,603.64 L570.11,605.12 L570.35,606.60 L570.59,608.08 L570.81,609.56 L571.03,611.05 L571.25,612.53 L571.46,614.02 L571.67,615.50 L571.88,616.99 L572.09,618.47 L572.31,619.96 L572.53,621.44 L572.75,622.92 L572.97,624.41 L573.20,625.89 L573.43,627.37 L573.66,628.86 L573.89,630.34 L574.12,631.82 L574.36,633.30 L574.59,634.78 L574.83,636.26 L575.07,637.74 L575.32,639.22 L575.56,640.70 L575.82,642.18 L576.07,643.66 L576.33,645.14 L576.60,646.61 L576.87,648.09 L577.14,649.56 L577.42,651.04 L577.70,652.51 L577.98,653.98 L578.27,655.46 L578.55,656.93 L578.84,658.40 L579.12,659.87 L579.40,661.35 L579.68,662.82 L579.96,664.30 L580.24,665.77 L580.51,667.24 L580.78,668.72 L581.05,670.20 L581.32,671.67 L581.58,673.15 L581.85,674.62 L582.12,676.10 L582.39,677.58 L582.66,679.05 L582.94,680.52 L583.22,682.00 L583.51,683.47 L583.80,684.94 L584.10,686.41 L584.40,687.88 L584.70,689.35 L585.01,690.82 L585.33,692.28 L585.64,693.75 L585.96,695.22 L586.28,696.68 L586.61,698.14 L586.95,699.61 L587.30,701.06 L587.65,702.52 L588.01,703.98 L588.39,705.43 L588.78,706.88 L589.18,708.32 L589.60,709.76 L590.04,711.19 L590.51,712.62 L590.99,714.04 L591.49,715.45 L592.02,716.85 L592.57,718.25 L593.14,719.63 L593.74,721.00 L594.37,722.36 L595.04,723.70 L595.74,725.02 L596.48,726.31 L597.27,727.58 L598.11,728.81 L599.00,730.01 L599.93,731.17 L600.92,732.29 L601.95,733.37 L603.02,734.40 L604.14,735.39 L605.29,736.32 L606.49,737.21 L607.73,738.03 L609.01,738.78 L610.33,739.47 L611.68,740.10 L613.06,740.66 L614.46,741.16 L615.88,741.61 L617.32,742.02 L618.77,742.38 L620.23,742.71 L621.70,743.00 L623.17,743.27 L624.65,743.52 L626.13,743.76 L627.62,743.98 L629.10,744.19 L630.59,744.39 L632.07,744.59 L633.56,744.79 L635.05,745.00 L636.53,745.20 L638.02,745.41 L639.50,745.62 L640.99,745.84 L642.47,746.06 L643.95,746.28 L645.44,746.50 L646.92,746.71 L648.41,746.93 L649.89,747.14 L651.38,747.35 L652.86,747.55 L654.35,747.75 L655.84,747.95 L657.33,748.14 L658.81,748.33 L660.30,748.52 L661.79,748.70 L663.28,748.89 L664.77,749.08 L666.25,749.28 L667.74,749.48 L669.23,749.68 L670.71,749.88 L672.20,750.09 L673.68,750.30 L675.17,750.52 L676.65,750.74 L678.13,750.96 L679.62,751.19 L681.10,751.41 L682.58,751.64 L684.06,751.88 L685.54,752.11 L687.03,752.35 L688.51,752.59 L689.99,752.84 L691.47,753.08 L692.94,753.33 L694.42,753.58 L695.90,753.84 L697.38,754.09" stroke="#800000"/>
</g>
<clipPath id="clc"><rect x="193" y="830" width="502" height="369"/></clipPath>
<g clip-path="url(#clc)" fill="none" stroke-width="3.0" stroke-linejoin="round">
<path d="M192.00,859.60 L193.50,859.60 L195.00,859.60 L196.50,859.60 L198.00,859.60 L199.50,859.61 L201.00,859.61 L202.50,859.61 L204.00,859.61 L205.50,859.62 L207.00,859.62 L208.50,859.62 L210.00,859.63 L211.50,859.63 L213.00,859.64 L214.50,859.64 L216.00,859.65 L217.50,859.65 L219.00,859.66 L220.50,859.66 L222.00,859.67 L223.50,859.67 L225.00,859.68 L226.50,859.69 L228.00,859.69 L229.50,859.70 L231.00,859.71 L232.50,859.71 L234.00,859.72 L235.50,859.73 L237.00,859.73 L238.50,859.74 L240.00,859.75 L241.50,859.76 L243.00,859.76 L244.50,859.77 L246.00,859.78 L247.50,859.79 L249.00,859.80 L250.50,859.80 L252.00,859.81 L253.50,859.82 L255.00,859.83 L256.50,859.85 L258.00,859.86 L259.50,859.87 L261.00,859.88 L262.50,859.90 L264.00,859.91 L265.50,859.92 L267.00,859.94 L268.50,859.96 L270.00,859.97 L271.50,859.99 L273.00,860.00 L274.50,860.02 L276.00,860.04 L277.50,860.06 L279.00,860.07 L280.50,860.09 L282.00,860.11 L283.50,860.12 L285.00,860.14 L286.50,860.16 L288.00,860.17 L289.50,860.19 L291.00,860.21 L292.50,860.22 L294.00,860.24 L295.50,860.25 L297.00,860.27 L298.50,860.28 L300.00,860.30 L301.50,860.31 L303.00,860.33 L304.50,860.34 L306.00,860.35 L307.50,860.37 L309.00,860.38 L310.50,860.39 L312.00,860.40 L313.50,860.42 L315.00,860.43 L316.50,860.44 L318.00,860.46 L319.50,860.47 L321.00,860.48 L322.50,860.49 L324.00,860.50 L325.50,860.52 L327.00,860.53 L328.50,860.54 L330.00,860.55 L331.50,860.56 L333.00,860.58 L334.50,860.59 L336.00,860.60 L337.50,860.61 L339.00,860.62 L340.50,860.64 L342.00,860.65 L343.50,860.66 L345.00,860.67 L346.50,860.68 L348.00,860.69 L349.50,860.71 L351.00,860.72 L352.50,860.73 L354.00,860.74 L355.50,860.75 L357.00,860.76 L358.50,860.78 L360.00,860.79 L361.49,860.80 L362.99,860.81 L364.49,860.82 L365.99,860.84 L367.49,860.85 L368.99,860.86 L370.49,860.87 L371.99,860.88 L373.49,860.90 L374.99,860.91 L376.49,860.92 L377.99,860.93 L379.49,860.95 L380.99,860.96 L382.49,860.97 L383.99,860.98 L385.49,861.00 L386.99,861.01 L388.49,861.02 L389.99,861.03 L391.49,861.04 L392.99,861.05 L394.49,861.06 L395.99,861.08 L397.49,861.09 L398.99,861.10 L400.49,861.11 L401.99,861.12 L403.49,861.13 L404.99,861.14 L406.49,861.15 L407.99,861.16 L409.49,861.17 L410.99,861.18 L412.49,861.19 L413.99,861.20 L415.49,861.21 L416.99,861.23 L418.49,861.24 L419.99,861.25 L421.49,861.26 L422.99,861.28 L424.49,861.29 L425.99,861.31 L427.49,861.32 L428.99,861.34 L430.49,861.36 L431.99,861.38 L433.49,861.40 L434.99,861.42 L436.49,861.44 L437.99,861.47 L439.49,861.50 L440.99,861.53 L442.49,861.57 L443.99,861.62 L445.49,861.67 L446.99,861.73 L448.49,861.79 L449.98,861.86 L451.48,861.94 L452.98,862.03 L454.48,862.12 L455.97,862.21 L457.47,862.31 L458.97,862.42 L460.46,862.53 L461.96,862.64 L463.45,862.76 L464.95,862.88 L466.44,863.00 L467.94,863.12 L469.43,863.25 L470.93,863.38 L472.42,863.50 L473.92,863.63 L475.41,863.76 L476.91,863.89 L478.40,864.02 L479.89,864.15 L481.39,864.27 L482.88,864.40 L484.38,864.52 L485.87,864.64 L487.37,864.76 L488.86,864.88 L490.36,865.00 L491.85,865.12 L493.35,865.25 L494.84,865.38 L496.33,865.53 L497.82,865.70 L499.31,865.88 L500.80,866.08 L502.28,866.30 L503.76,866.54 L505.23,866.81 L506.70,867.10 L508.17,867.41 L509.63,867.75 L511.08,868.11 L512.53,868.49 L513.97,868.90 L515.41,869.33 L516.83,869.78 L518.25,870.26 L519.66,870.76 L521.06,871.30 L522.44,871.87 L523.80,872.48 L525.13,873.15 L526.42,873.87 L527.69,874.65 L528.91,875.49 L530.08,876.39 L531.22,877.35 L532.30,878.36 L533.34,879.43 L534.34,880.53 L535.30,881.68 L536.21,882.85 L537.09,884.06 L537.93,885.30 L538.74,886.55 L539.52,887.83 L540.26,889.13 L540.98,890.44 L541.67,891.77 L542.33,893.11 L542.97,894.47 L543.59,895.84 L544.18,897.21 L544.75,898.60 L545.30,899.99 L545.84,901.39 L546.36,902.80 L546.87,904.21 L547.36,905.62 L547.85,907.04 L548.32,908.46 L548.79,909.89 L549.24,911.32 L549.69,912.75 L550.13,914.18 L550.57,915.62 L550.99,917.06 L551.42,918.50 L551.83,919.94 L552.24,921.38 L552.65,922.82 L553.05,924.27 L553.45,925.71 L553.84,927.16 L554.23,928.61 L554.62,930.06 L555.01,931.51 L555.40,932.96 L555.79,934.40 L556.18,935.85 L556.58,937.30 L556.98,938.74 L557.38,940.19 L557.78,941.63 L558.19,943.08 L558.58,944.52 L558.97,945.97 L559.35,947.42 L559.72,948.88 L560.07,950.33 L560.41,951.80 L560.73,953.26 L561.04,954.73 L561.34,956.20 L561.64,957.67 L561.93,959.14 L562.21,960.61 L562.49,962.08 L562.77,963.56 L563.05,965.03 L563.33,966.51 L563.60,967.98 L563.88,969.45 L564.15,970.93 L564.42,972.41 L564.68,973.88 L564.95,975.36 L565.21,976.84 L565.47,978.31 L565.72,979.79 L565.98,981.27 L566.24,982.75 L566.49,984.22 L566.75,985.70 L567.00,987.18 L567.26,988.66 L567.51,990.14 L567.77,991.62 L568.02,993.09 L568.28,994.57 L568.53,996.05 L568.78,997.53 L569.04,999.01 L569.29,1000.49 L569.54,1001.96 L569.79,1003.44 L570.05,1004.92 L570.30,1006.40 L570.55,1007.88 L570.79,1009.36 L571.04,1010.84 L571.29,1012.32 L571.53,1013.80 L571.77,1015.28 L572.01,1016.76 L572.24,1018.24 L572.48,1019.72 L572.71,1021.21 L572.94,1022.69 L573.17,1024.17 L573.40,1025.65 L573.63,1027.13 L573.86,1028.62 L574.09,1030.10 L574.32,1031.58 L574.54,1033.06 L574.77,1034.55 L574.99,1036.03 L575.22,1037.51 L575.44,1039.00 L575.67,1040.48 L575.89,1041.96 L576.11,1043.45 L576.33,1044.93 L576.56,1046.41 L576.78,1047.90 L577.00,1049.38 L577.23,1050.86 L577.45,1052.35 L577.67,1053.83 L577.89,1055.31 L578.12,1056.80 L578.34,1058.28 L578.57,1059.76 L578.79,1061.24 L579.03,1062.73 L579.26,1064.21 L579.51,1065.69 L579.76,1067.17 L580.01,1068.64 L580.28,1070.12 L580.55,1071.60 L580.83,1073.07 L581.11,1074.54 L581.40,1076.01 L581.69,1077.49 L581.98,1078.96 L582.26,1080.43 L582.55,1081.90 L582.83,1083.38 L583.11,1084.85 L583.39,1086.32 L583.68,1087.80 L583.96,1089.27 L584.25,1090.74 L584.54,1092.21 L584.83,1093.68 L585.12,1095.16 L585.42,1096.63 L585.72,1098.09 L586.03,1099.56 L586.33,1101.03 L586.65,1102.50 L586.97,1103.96 L587.29,1105.43 L587.61,1106.89 L587.94,1108.36 L588.27,1109.82 L588.60,1111.28 L588.94,1112.74 L589.29,1114.20 L589.65,1115.66 L590.02,1117.11 L590.40,1118.56 L590.79,1120.01 L591.20,1121.45 L591.62,1122.89 L592.05,1124.33 L592.49,1125.76 L592.94,1127.19 L593.40,1128.62 L593.87,1130.04 L594.34,1131.47 L594.84,1132.88 L595.34,1134.29 L595.87,1135.70 L596.41,1137.09 L596.97,1138.48 L597.56,1139.86 L598.17,1141.23 L598.80,1142.59 L599.46,1143.93 L600.15,1145.26 L600.87,1146.57 L601.63,1147.86 L602.42,1149.12 L603.25,1150.36 L604.13,1151.56 L605.05,1152.73 L606.03,1153.85 L607.05,1154.93 L608.12,1155.95 L609.24,1156.91 L610.42,1157.81 L611.64,1158.64 L612.91,1159.40 L614.22,1160.09 L615.56,1160.71 L616.94,1161.25 L618.35,1161.73 L619.78,1162.14 L621.22,1162.49 L622.68,1162.79 L624.15,1163.03 L625.63,1163.22 L627.12,1163.37 L628.61,1163.48 L630.11,1163.56 L631.60,1163.62 L633.10,1163.65 L634.60,1163.66 L636.10,1163.67 L637.60,1163.68 L639.10,1163.68 L640.60,1163.70 L642.10,1163.71 L643.60,1163.74 L645.10,1163.77 L646.60,1163.81 L648.10,1163.86 L649.60,1163.90 L651.09,1163.96 L652.59,1164.01 L654.09,1164.06 L655.59,1164.12 L657.09,1164.16 L658.59,1164.21 L660.09,1164.25 L661.59,1164.28 L663.09,1164.32 L664.59,1164.34 L666.09,1164.37 L667.59,1164.39 L669.09,1164.41 L670.59,1164.44 L672.09,1164.46 L673.59,1164.48 L675.09,1164.50 L676.59,1164.52 L678.09,1164.54 L679.59,1164.56 L681.09,1164.59 L682.59,1164.61 L684.09,1164.63 L685.59,1164.65 L687.09,1164.67 L688.59,1164.69 L690.08,1164.72 L691.58,1164.74 L693.08,1164.76 L694.58,1164.78" stroke="#000000"/>
<path d="M192.00,859.60 L193.50,859.61 L195.00,859.62 L196.50,859.63 L198.00,859.64 L199.50,859.64 L201.00,859.65 L202.50,859.66 L204.00,859.67 L205.50,859.68 L207.00,859.68 L208.50,859.69 L210.00,859.70 L211.50,859.71 L213.00,859.71 L214.50,859.72 L216.00,859.73 L217.50,859.73 L219.00,859.74 L220.50,859.74 L222.00,859.75 L223.50,859.75 L225.00,859.76 L226.50,859.76 L228.00,859.77 L229.50,859.77 L231.00,859.78 L232.50,859.78 L234.00,859.78 L235.50,859.78 L237.00,859.79 L238.50,859.79 L240.00,859.79 L241.50,859.79 L243.00,859.80 L244.50,859.80 L246.00,859.80 L247.50,859.80 L249.00,859.80 L250.50,859.80 L252.00,859.80 L253.50,859.80 L255.00,859.80 L256.50,859.80 L258.00,859.79 L259.50,859.79 L261.00,859.79 L262.50,859.79 L264.00,859.79 L265.50,859.78 L267.00,859.78 L268.50,859.78 L270.00,859.78 L271.50,859.77 L273.00,859.77 L274.50,859.77 L276.00,859.76 L277.50,859.76 L279.00,859.76 L280.50,859.75 L282.00,859.75 L283.50,859.74 L285.00,859.74 L286.50,859.74 L288.00,859.73 L289.50,859.73 L291.00,859.72 L292.50,859.72 L294.00,859.72 L295.50,859.71 L297.00,859.71 L298.50,859.70 L300.00,859.70 L301.50,859.70 L303.00,859.69 L304.50,859.69 L306.00,859.68 L307.50,859.68 L309.00,859.67 L310.50,859.67 L312.00,859.66 L313.50,859.66 L315.00,859.65 L316.50,859.64 L318.00,859.64 L319.50,859.63 L321.00,859.62 L322.50,859.62 L324.00,859.61 L325.50,859.60 L327.00,859.60 L328.50,859.59 L330.00,859.58 L331.50,859.58 L333.00,859.57 L334.50,859.56 L336.00,859.56 L337.50,859.55 L339.00,859.54 L340.50,859.54 L342.00,859.53 L343.50,859.52 L345.00,859.51 L346.50,859.51 L348.00,859.50 L349.50,859.49 L351.00,859.49 L352.50,859.48 L354.00,859.48 L355.50,859.47 L357.00,859.46 L358.50,859.46 L360.00,859.45 L361.50,859.45 L363.00,859.44 L364.50,859.44 L366.00,859.43 L367.50,859.43 L369.00,859.43 L370.50,859.42 L372.00,859.42 L373.50,859.41 L375.00,859.41 L376.50,859.41 L378.00,859.41 L379.50,859.41 L381.00,859.40 L382.50,859.40 L384.00,859.40 L385.50,859.40 L387.00,859.40 L388.50,859.41 L390.00,859.41 L391.50,859.41 L393.00,859.42 L394.50,859.43 L396.00,859.44 L397.50,859.45 L399.00,859.46 L400.50,859.47 L402.00,859.48 L403.50,859.49 L405.00,859.51 L406.50,859.53 L408.00,859.54 L409.50,859.56 L411.00,859.58 L412.50,859.60 L414.00,859.62 L415.50,859.65 L417.00,859.67 L418.50,859.69 L420.00,859.72 L421.50,859.75 L423.00,859.77 L424.50,859.80 L426.00,859.83 L427.50,859.86 L429.00,859.89 L430.49,859.92 L431.99,859.95 L433.49,859.98 L434.99,860.02 L436.49,860.05 L437.99,860.09 L439.49,860.14 L440.99,860.19 L442.49,860.24 L443.99,860.30 L445.49,860.37 L446.98,860.45 L448.48,860.54 L449.98,860.64 L451.47,860.74 L452.97,860.85 L454.47,860.97 L455.96,861.09 L457.45,861.22 L458.95,861.36 L460.44,861.50 L461.93,861.64 L463.43,861.79 L464.92,861.94 L466.41,862.09 L467.90,862.25 L469.40,862.40 L470.89,862.56 L472.38,862.71 L473.87,862.87 L475.36,863.02 L476.86,863.18 L478.35,863.33 L479.84,863.48 L481.33,863.62 L482.83,863.76 L484.32,863.90 L485.82,864.03 L487.31,864.15 L488.80,864.27 L490.30,864.39 L491.79,864.51 L493.29,864.63 L494.78,864.76 L496.28,864.90 L497.77,865.05 L499.26,865.22 L500.74,865.41 L502.23,865.62 L503.71,865.85 L505.18,866.11 L506.65,866.39 L508.12,866.70 L509.58,867.03 L511.04,867.38 L512.49,867.76 L513.93,868.17 L515.37,868.59 L516.79,869.04 L518.22,869.51 L519.63,870.01 L521.03,870.53 L522.42,871.09 L523.78,871.69 L525.12,872.33 L526.43,873.04 L527.70,873.80 L528.93,874.63 L530.12,875.51 L531.27,876.46 L532.37,877.45 L533.42,878.50 L534.43,879.59 L535.40,880.72 L536.33,881.89 L537.23,883.09 L538.08,884.31 L538.90,885.56 L539.70,886.83 L540.46,888.12 L541.19,889.42 L541.89,890.75 L542.57,892.08 L543.22,893.43 L543.84,894.79 L544.44,896.16 L545.02,897.55 L545.58,898.94 L546.13,900.33 L546.65,901.74 L547.16,903.15 L547.66,904.56 L548.15,905.98 L548.63,907.40 L549.09,908.83 L549.55,910.25 L550.00,911.69 L550.44,913.12 L550.87,914.55 L551.30,915.99 L551.72,917.43 L552.14,918.87 L552.54,920.32 L552.95,921.76 L553.35,923.21 L553.74,924.65 L554.13,926.10 L554.52,927.55 L554.91,929.00 L555.29,930.45 L555.67,931.90 L556.06,933.35 L556.44,934.80 L556.83,936.25 L557.23,937.70 L557.62,939.14 L558.01,940.59 L558.41,942.04 L558.80,943.49 L559.18,944.94 L559.56,946.39 L559.92,947.84 L560.28,949.30 L560.62,950.76 L560.95,952.22 L561.27,953.69 L561.57,955.16 L561.87,956.63 L562.16,958.10 L562.45,959.57 L562.73,961.04 L563.02,962.51 L563.29,963.99 L563.57,965.46 L563.85,966.94 L564.12,968.41 L564.40,969.89 L564.66,971.36 L564.93,972.84 L565.20,974.31 L565.46,975.79 L565.72,977.27 L565.98,978.75 L566.23,980.22 L566.49,981.70 L566.74,983.18 L567.00,984.66 L567.25,986.14 L567.51,987.62 L567.76,989.09 L568.01,990.57 L568.27,992.05 L568.52,993.53 L568.77,995.01 L569.02,996.49 L569.28,997.97 L569.53,999.44 L569.78,1000.92 L570.03,1002.40 L570.28,1003.88 L570.53,1005.36 L570.77,1006.84 L571.02,1008.32 L571.27,1009.80 L571.51,1011.28 L571.75,1012.76 L571.99,1014.24 L572.23,1015.72 L572.46,1017.20 L572.70,1018.68 L572.93,1020.17 L573.16,1021.65 L573.39,1023.13 L573.62,1024.61 L573.84,1026.10 L574.07,1027.58 L574.30,1029.06 L574.53,1030.54 L574.75,1032.03 L574.98,1033.51 L575.20,1034.99 L575.42,1036.48 L575.65,1037.96 L575.87,1039.44 L576.09,1040.93 L576.32,1042.41 L576.54,1043.89 L576.76,1045.38 L576.98,1046.86 L577.21,1048.34 L577.43,1049.83 L577.65,1051.31 L577.88,1052.79 L578.10,1054.28 L578.32,1055.76 L578.54,1057.24 L578.77,1058.73 L578.99,1060.21 L579.22,1061.69 L579.45,1063.17 L579.68,1064.66 L579.92,1066.14 L580.17,1067.62 L580.42,1069.10 L580.68,1070.57 L580.94,1072.05 L581.21,1073.53 L581.48,1075.00 L581.76,1076.47 L582.03,1077.95 L582.31,1079.42 L582.59,1080.90 L582.87,1082.37 L583.15,1083.84 L583.43,1085.32 L583.71,1086.79 L584.00,1088.26 L584.29,1089.74 L584.57,1091.21 L584.87,1092.68 L585.16,1094.15 L585.46,1095.62 L585.76,1097.09 L586.06,1098.56 L586.37,1100.03 L586.68,1101.49 L587.00,1102.96 L587.32,1104.42 L587.64,1105.89 L587.97,1107.35 L588.30,1108.82 L588.63,1110.28 L588.96,1111.74 L589.31,1113.20 L589.66,1114.66 L590.02,1116.11 L590.39,1117.57 L590.78,1119.02 L591.17,1120.46 L591.58,1121.90 L592.01,1123.34 L592.44,1124.78 L592.89,1126.21 L593.34,1127.64 L593.80,1129.07 L594.27,1130.49 L594.75,1131.91 L595.25,1133.32 L595.76,1134.73 L596.29,1136.13 L596.84,1137.53 L597.42,1138.91 L598.01,1140.29 L598.62,1141.66 L599.26,1143.01 L599.92,1144.36 L600.60,1145.69 L601.32,1147.00 L602.07,1148.29 L602.86,1149.56 L603.68,1150.80 L604.56,1152.01 L605.47,1153.18 L606.43,1154.32 L607.45,1155.41 L608.51,1156.45 L609.61,1157.43 L610.77,1158.36 L611.97,1159.23 L613.21,1160.04 L614.50,1160.78 L615.81,1161.46 L617.17,1162.08 L618.55,1162.63 L619.95,1163.12 L621.37,1163.55 L622.82,1163.93 L624.27,1164.26 L625.74,1164.54 L627.21,1164.77 L628.70,1164.97 L630.18,1165.14 L631.67,1165.28 L633.17,1165.40 L634.66,1165.49 L636.16,1165.58 L637.66,1165.65 L639.16,1165.71 L640.66,1165.76 L642.16,1165.82 L643.65,1165.87 L645.15,1165.92 L646.65,1165.97 L648.15,1166.02 L649.65,1166.08 L651.15,1166.14 L652.65,1166.19 L654.15,1166.25 L655.65,1166.30 L657.15,1166.35 L658.64,1166.40 L660.14,1166.44 L661.64,1166.48 L663.14,1166.51 L664.64,1166.54 L666.14,1166.56 L667.64,1166.59 L669.14,1166.61 L670.64,1166.63 L672.14,1166.65 L673.64,1166.68 L675.14,1166.70 L676.64,1166.72 L678.14,1166.74 L679.64,1166.76 L681.14,1166.78 L682.64,1166.81 L684.14,1166.83 L685.64,1166.85 L687.14,1166.87 L688.64,1166.89 L690.14,1166.92 L691.64,1166.94 L693.14,1166.96 L694.64,1166.98" stroke="#ff0000"/>
<path d="M192.00,859.60 L193.50,859.60 L195.00,859.60 L196.50,859.60 L198.00,859.60 L199.50,859.60 L201.00,859.61 L202.50,859.61 L204.00,859.61 L205.50,859.61 L207.00,859.62 L208.50,859.62 L210.00,859.62 L211.50,859.63 L213.00,859.63 L214.50,859.63 L216.00,859.64 L217.50,859.64 L219.00,859.65 L220.50,859.65 L222.00,859.66 L223.50,859.66 L225.00,859.67 L226.50,859.67 L228.00,859.68 L229.50,859.69 L231.00,859.69 L232.50,859.70 L234.00,859.71 L235.50,859.72 L237.00,859.72 L238.50,859.73 L240.00,859.74 L241.50,859.75 L243.00,859.76 L244.50,859.77 L246.00,859.78 L247.50,859.79 L249.00,859.80 L250.50,859.82 L252.00,859.84 L253.50,859.87 L255.00,859.90 L256.50,859.93 L258.00,859.97 L259.50,860.02 L261.00,860.07 L262.49,860.12 L263.99,860.18 L265.49,860.24 L266.99,860.31 L268.49,860.38 L269.99,860.45 L271.49,860.53 L272.98,860.60 L274.48,860.68 L275.98,860.76 L277.48,860.85 L278.97,860.93 L280.47,861.01 L281.97,861.09 L283.47,861.18 L284.97,861.26 L286.46,861.34 L287.96,861.42 L289.46,861.50 L290.96,861.58 L292.45,861.65 L293.95,861.73 L295.45,861.79 L296.95,861.86 L298.45,861.93 L299.95,861.99 L301.45,862.05 L302.94,862.11 L304.44,862.16 L305.94,862.22 L307.44,862.27 L308.94,862.33 L310.44,862.38 L311.94,862.44 L313.44,862.49 L314.94,862.54 L316.44,862.60 L317.94,862.65 L319.43,862.70 L320.93,862.75 L322.43,862.80 L323.93,862.86 L325.43,862.91 L326.93,862.96 L328.43,863.01 L329.93,863.06 L331.43,863.11 L332.93,863.16 L334.43,863.20 L335.92,863.25 L337.42,863.30 L338.92,863.35 L340.42,863.40 L341.92,863.45 L343.42,863.49 L344.92,863.54 L346.42,863.59 L347.92,863.64 L349.42,863.68 L350.92,863.73 L352.42,863.78 L353.92,863.82 L355.42,863.87 L356.91,863.92 L358.41,863.96 L359.91,864.01 L361.41,864.05 L362.91,864.10 L364.41,864.15 L365.91,864.19 L367.41,864.24 L368.91,864.28 L370.41,864.33 L371.91,864.37 L373.41,864.42 L374.91,864.46 L376.41,864.51 L377.90,864.55 L379.40,864.60 L380.90,864.65 L382.40,864.69 L383.90,864.74 L385.40,864.78 L386.90,864.82 L388.40,864.87 L389.90,864.91 L391.40,864.95 L392.90,865.00 L394.40,865.04 L395.90,865.08 L397.40,865.12 L398.90,865.16 L400.40,865.20 L401.89,865.24 L403.39,865.27 L404.89,865.31 L406.39,865.35 L407.89,865.39 L409.39,865.43 L410.89,865.47 L412.39,865.51 L413.89,865.55 L415.39,865.58 L416.89,865.62 L418.39,865.67 L419.89,865.71 L421.39,865.75 L422.89,865.79 L424.39,865.83 L425.89,865.88 L427.39,865.92 L428.88,865.97 L430.38,866.02 L431.88,866.07 L433.38,866.12 L434.88,866.17 L436.38,866.22 L437.88,866.27 L439.38,866.33 L440.88,866.38 L442.38,866.44 L443.88,866.50 L445.37,866.56 L446.87,866.62 L448.37,866.69 L449.87,866.75 L451.37,866.81 L452.87,866.88 L454.37,866.95 L455.86,867.02 L457.36,867.09 L458.86,867.16 L460.36,867.23 L461.86,867.31 L463.35,867.39 L464.85,867.47 L466.35,867.55 L467.85,867.63 L469.35,867.72 L470.84,867.81 L472.34,867.90 L473.84,867.99 L475.33,868.09 L476.83,868.19 L478.33,868.29 L479.82,868.39 L481.32,868.50 L482.82,868.61 L484.31,868.72 L485.81,868.84 L487.30,868.96 L488.80,869.09 L490.29,869.23 L491.78,869.38 L493.27,869.54 L494.76,869.71 L496.25,869.91 L497.73,870.12 L499.21,870.35 L500.69,870.61 L502.16,870.89 L503.62,871.20 L505.09,871.53 L506.54,871.89 L507.99,872.27 L509.43,872.68 L510.86,873.11 L512.29,873.57 L513.70,874.06 L515.11,874.58 L516.50,875.12 L517.88,875.70 L519.25,876.31 L520.60,876.95 L521.92,877.64 L523.22,878.37 L524.49,879.14 L525.73,879.97 L526.92,880.85 L528.08,881.79 L529.18,882.78 L530.24,883.82 L531.25,884.91 L532.21,886.04 L533.13,887.22 L534.00,888.43 L534.83,889.66 L535.63,890.93 L536.40,892.21 L537.14,893.51 L537.85,894.83 L538.54,896.16 L539.20,897.50 L539.84,898.86 L540.45,900.23 L541.04,901.60 L541.62,902.99 L542.18,904.38 L542.72,905.78 L543.25,907.18 L543.76,908.59 L544.27,910.00 L544.76,911.41 L545.25,912.83 L545.72,914.26 L546.19,915.68 L546.64,917.11 L547.10,918.54 L547.54,919.97 L547.98,921.41 L548.42,922.84 L548.85,924.28 L549.28,925.72 L549.71,927.15 L550.13,928.59 L550.56,930.03 L550.99,931.47 L551.42,932.90 L551.85,934.34 L552.29,935.77 L552.73,937.21 L553.17,938.64 L553.61,940.08 L554.05,941.51 L554.48,942.95 L554.91,944.38 L555.32,945.83 L555.72,947.27 L556.11,948.72 L556.49,950.17 L556.85,951.63 L557.19,953.08 L557.53,954.55 L557.85,956.01 L558.16,957.48 L558.46,958.95 L558.76,960.42 L559.05,961.89 L559.34,963.36 L559.62,964.83 L559.90,966.31 L560.17,967.78 L560.45,969.26 L560.72,970.73 L560.99,972.21 L561.26,973.68 L561.53,975.16 L561.79,976.64 L562.05,978.11 L562.31,979.59 L562.57,981.07 L562.82,982.55 L563.08,984.02 L563.33,985.50 L563.59,986.98 L563.85,988.46 L564.11,989.94 L564.37,991.41 L564.63,992.89 L564.90,994.37 L565.16,995.84 L565.43,997.32 L565.70,998.79 L565.98,1000.27 L566.25,1001.74 L566.52,1003.22 L566.80,1004.69 L567.07,1006.17 L567.35,1007.64 L567.62,1009.12 L567.89,1010.59 L568.17,1012.07 L568.44,1013.54 L568.71,1015.02 L568.98,1016.49 L569.25,1017.97 L569.52,1019.44 L569.79,1020.92 L570.06,1022.39 L570.33,1023.87 L570.59,1025.35 L570.86,1026.82 L571.12,1028.30 L571.38,1029.78 L571.64,1031.25 L571.90,1032.73 L572.15,1034.21 L572.40,1035.69 L572.65,1037.17 L572.89,1038.65 L573.13,1040.13 L573.37,1041.61 L573.61,1043.09 L573.85,1044.57 L574.08,1046.05 L574.32,1047.53 L574.55,1049.02 L574.79,1050.50 L575.02,1051.98 L575.26,1053.46 L575.49,1054.94 L575.73,1056.42 L575.96,1057.90 L576.20,1059.39 L576.44,1060.87 L576.68,1062.35 L576.91,1063.83 L577.15,1065.31 L577.39,1066.79 L577.63,1068.27 L577.88,1069.75 L578.12,1071.23 L578.36,1072.71 L578.60,1074.19 L578.83,1075.67 L579.06,1077.16 L579.28,1078.64 L579.48,1080.13 L579.68,1081.61 L579.86,1083.10 L580.04,1084.59 L580.21,1086.08 L580.37,1087.57 L580.53,1089.06 L580.69,1090.55 L580.85,1092.05 L581.01,1093.54 L581.17,1095.03 L581.34,1096.52 L581.51,1098.01 L581.69,1099.50 L581.86,1100.99 L582.05,1102.48 L582.23,1103.97 L582.42,1105.45 L582.61,1106.94 L582.81,1108.43 L583.02,1109.91 L583.23,1111.40 L583.46,1112.88 L583.69,1114.36 L583.95,1115.84 L584.22,1117.31 L584.51,1118.78 L584.82,1120.25 L585.16,1121.71 L585.51,1123.16 L585.89,1124.61 L586.28,1126.06 L586.70,1127.50 L587.13,1128.94 L587.57,1130.37 L588.03,1131.80 L588.49,1133.22 L588.97,1134.64 L589.46,1136.06 L589.96,1137.47 L590.48,1138.88 L591.01,1140.28 L591.56,1141.68 L592.13,1143.06 L592.73,1144.43 L593.36,1145.79 L594.02,1147.13 L594.71,1148.46 L595.44,1149.76 L596.21,1151.04 L597.03,1152.28 L597.90,1153.48 L598.83,1154.63 L599.82,1155.73 L600.87,1156.77 L601.98,1157.74 L603.14,1158.63 L604.37,1159.46 L605.64,1160.20 L606.96,1160.87 L608.31,1161.47 L609.70,1161.99 L611.11,1162.45 L612.54,1162.85 L613.99,1163.20 L615.45,1163.49 L616.93,1163.75 L618.41,1163.97 L619.89,1164.16 L621.38,1164.31 L622.87,1164.45 L624.37,1164.56 L625.86,1164.65 L627.36,1164.73 L628.86,1164.80 L630.36,1164.85 L631.86,1164.90 L633.36,1164.95 L634.86,1164.98 L636.35,1165.01 L637.85,1165.04 L639.35,1165.07 L640.85,1165.09 L642.35,1165.10 L643.85,1165.12 L645.35,1165.13 L646.85,1165.15 L648.35,1165.16 L649.85,1165.17 L651.35,1165.18 L652.85,1165.19 L654.35,1165.21 L655.85,1165.22 L657.35,1165.23 L658.85,1165.25 L660.35,1165.26 L661.85,1165.28 L663.35,1165.29 L664.85,1165.31 L666.35,1165.33 L667.85,1165.35 L669.35,1165.37 L670.85,1165.39 L672.35,1165.41 L673.85,1165.43 L675.35,1165.45 L676.85,1165.47 L678.35,1165.50 L679.85,1165.52 L681.35,1165.54 L682.85,1165.57 L684.35,1165.59 L685.85,1165.62 L687.35,1165.64 L688.85,1165.67 L690.35,1165.70 L691.85,1165.72 L693.35,1165.75 L694.85,1165.78" stroke="#0000ff"/>
<path d="M192.00,859.60 L193.50,859.60 L195.00,859.60 L196.50,859.60 L198.00,859.60 L199.50,859.60 L201.00,859.61 L202.50,859.61 L204.00,859.61 L205.50,859.61 L207.00,859.61 L208.50,859.62 L210.00,859.62 L211.50,859.62 L213.00,859.63 L214.50,859.63 L216.00,859.64 L217.50,859.64 L219.00,859.65 L220.50,859.65 L222.00,859.66 L223.50,859.66 L225.00,859.67 L226.50,859.67 L228.00,859.68 L229.50,859.69 L231.00,859.69 L232.50,859.70 L234.00,859.71 L235.50,859.71 L237.00,859.72 L238.50,859.73 L240.00,859.74 L241.50,859.75 L243.00,859.76 L244.50,859.77 L246.00,859.78 L247.50,859.80 L249.00,859.82 L250.50,859.85 L252.00,859.89 L253.50,859.94 L254.99,860.00 L256.49,860.07 L257.99,860.16 L259.49,860.26 L260.98,860.37 L262.48,860.50 L263.97,860.63 L265.46,860.77 L266.95,860.92 L268.45,861.07 L269.94,861.24 L271.43,861.40 L272.92,861.57 L274.41,861.74 L275.90,861.91 L277.39,862.08 L278.88,862.26 L280.37,862.42 L281.86,862.59 L283.35,862.75 L284.84,862.91 L286.34,863.06 L287.83,863.20 L289.32,863.33 L290.82,863.45 L292.31,863.56 L293.81,863.67 L295.31,863.75 L296.80,863.83 L298.30,863.90 L299.80,863.96 L301.30,864.00 L302.80,864.05 L304.30,864.08 L305.80,864.12 L307.30,864.15 L308.80,864.18 L310.30,864.21 L311.80,864.24 L313.30,864.27 L314.80,864.30 L316.30,864.33 L317.80,864.35 L319.30,864.38 L320.79,864.41 L322.29,864.43 L323.79,864.46 L325.29,864.48 L326.79,864.51 L328.29,864.53 L329.79,864.55 L331.29,864.58 L332.79,864.60 L334.29,864.62 L335.79,864.64 L337.29,864.66 L338.79,864.68 L340.29,864.70 L341.79,864.72 L343.29,864.74 L344.79,864.75 L346.29,864.77 L347.79,864.79 L349.29,864.80 L350.79,864.82 L352.29,864.83 L353.79,864.85 L355.29,864.86 L356.79,864.87 L358.29,864.89 L359.79,864.90 L361.29,864.91 L362.79,864.92 L364.29,864.93 L365.79,864.94 L367.29,864.95 L368.79,864.95 L370.29,864.96 L371.79,864.97 L373.29,864.97 L374.79,864.98 L376.29,864.98 L377.79,864.99 L379.29,864.99 L380.79,864.99 L382.29,865.00 L383.79,865.00 L385.29,865.00 L386.79,865.00 L388.29,865.00 L389.79,865.00 L391.29,865.00 L392.79,865.00 L394.29,865.00 L395.79,865.00 L397.29,865.00 L398.79,865.00 L400.29,865.00 L401.79,865.00 L403.29,865.00 L404.79,865.00 L406.29,865.00 L407.79,864.99 L409.29,864.99 L410.79,864.99 L412.29,864.99 L413.79,864.99 L415.29,864.99 L416.79,864.99 L418.29,864.99 L419.79,864.99 L421.29,864.99 L422.79,864.99 L424.29,864.99 L425.79,864.99 L427.29,864.99 L428.79,864.99 L430.29,864.99 L431.79,864.99 L433.29,864.99 L434.79,864.99 L436.29,864.99 L437.79,864.99 L439.29,864.99 L440.79,864.99 L442.29,865.00 L443.79,865.00 L445.29,865.01 L446.79,865.02 L448.29,865.03 L449.79,865.04 L451.29,865.06 L452.79,865.08 L454.29,865.10 L455.79,865.12 L457.29,865.14 L458.79,865.17 L460.29,865.20 L461.79,865.23 L463.29,865.26 L464.79,865.30 L466.29,865.33 L467.79,865.37 L469.29,865.41 L470.79,865.45 L472.29,865.50 L473.79,865.54 L475.28,865.59 L476.78,865.64 L478.28,865.69 L479.78,865.74 L481.28,865.80 L482.78,865.86 L484.28,865.92 L485.78,865.98 L487.27,866.06 L488.77,866.14 L490.27,866.24 L491.76,866.34 L493.26,866.47 L494.75,866.61 L496.24,866.78 L497.73,866.96 L499.21,867.16 L500.69,867.39 L502.17,867.63 L503.65,867.89 L505.12,868.17 L506.59,868.47 L508.05,868.80 L509.51,869.14 L510.96,869.51 L512.41,869.90 L513.85,870.31 L515.28,870.75 L516.71,871.21 L518.12,871.69 L519.53,872.21 L520.92,872.76 L522.29,873.35 L523.63,873.99 L524.95,874.68 L526.23,875.42 L527.48,876.23 L528.68,877.09 L529.84,878.02 L530.95,879.00 L532.02,880.04 L533.04,881.12 L534.01,882.25 L534.94,883.41 L535.83,884.61 L536.69,885.83 L537.50,887.08 L538.29,888.36 L539.04,889.65 L539.76,890.96 L540.46,892.29 L541.13,893.63 L541.77,894.98 L542.38,896.35 L542.98,897.72 L543.56,899.10 L544.11,900.49 L544.66,901.89 L545.18,903.30 L545.70,904.70 L546.20,906.12 L546.69,907.53 L547.17,908.95 L547.65,910.38 L548.11,911.80 L548.56,913.23 L549.01,914.66 L549.46,916.10 L549.89,917.53 L550.32,918.97 L550.75,920.41 L551.17,921.85 L551.58,923.29 L551.99,924.73 L552.40,926.18 L552.80,927.62 L553.20,929.07 L553.59,930.51 L553.99,931.96 L554.38,933.41 L554.78,934.85 L555.19,936.30 L555.60,937.74 L556.01,939.18 L556.43,940.62 L556.85,942.06 L557.27,943.50 L557.69,944.94 L558.10,946.38 L558.50,947.83 L558.88,949.28 L559.25,950.73 L559.60,952.19 L559.93,953.65 L560.24,955.12 L560.55,956.58 L560.84,958.05 L561.13,959.53 L561.41,961.00 L561.69,962.47 L561.97,963.95 L562.25,965.42 L562.52,966.90 L562.80,968.37 L563.07,969.84 L563.34,971.32 L563.61,972.80 L563.88,974.27 L564.14,975.75 L564.40,977.23 L564.66,978.70 L564.92,980.18 L565.18,981.66 L565.44,983.14 L565.70,984.61 L565.96,986.09 L566.21,987.57 L566.47,989.05 L566.73,990.52 L566.98,992.00 L567.24,993.48 L567.50,994.96 L567.76,996.44 L568.01,997.91 L568.27,999.39 L568.53,1000.87 L568.78,1002.35 L569.04,1003.82 L569.29,1005.30 L569.55,1006.78 L569.80,1008.26 L570.06,1009.74 L570.31,1011.22 L570.55,1012.70 L570.80,1014.18 L571.05,1015.66 L571.29,1017.14 L571.53,1018.62 L571.76,1020.10 L572.00,1021.58 L572.24,1023.06 L572.47,1024.54 L572.71,1026.02 L572.94,1027.50 L573.17,1028.99 L573.41,1030.47 L573.64,1031.95 L573.87,1033.43 L574.10,1034.92 L574.32,1036.40 L574.55,1037.88 L574.77,1039.36 L575.00,1040.85 L575.22,1042.33 L575.44,1043.81 L575.67,1045.30 L575.89,1046.78 L576.11,1048.26 L576.33,1049.75 L576.56,1051.23 L576.78,1052.71 L577.00,1054.20 L577.23,1055.68 L577.45,1057.16 L577.68,1058.65 L577.91,1060.13 L578.14,1061.61 L578.37,1063.09 L578.62,1064.57 L578.87,1066.05 L579.13,1067.53 L579.40,1069.00 L579.69,1070.47 L579.98,1071.94 L580.28,1073.41 L580.59,1074.88 L580.91,1076.35 L581.22,1077.81 L581.53,1079.28 L581.83,1080.75 L582.13,1082.22 L582.42,1083.69 L582.71,1085.16 L582.99,1086.64 L583.28,1088.11 L583.56,1089.58 L583.84,1091.06 L584.13,1092.53 L584.41,1094.00 L584.71,1095.47 L585.00,1096.94 L585.30,1098.41 L585.60,1099.88 L585.91,1101.35 L586.22,1102.82 L586.54,1104.28 L586.85,1105.75 L587.17,1107.21 L587.50,1108.68 L587.83,1110.14 L588.16,1111.60 L588.50,1113.07 L588.85,1114.52 L589.21,1115.98 L589.58,1117.43 L589.96,1118.88 L590.36,1120.33 L590.77,1121.77 L591.19,1123.21 L591.62,1124.64 L592.06,1126.08 L592.52,1127.51 L592.98,1128.93 L593.45,1130.36 L593.93,1131.78 L594.43,1133.19 L594.94,1134.60 L595.47,1136.01 L596.01,1137.40 L596.57,1138.79 L597.16,1140.17 L597.77,1141.54 L598.40,1142.90 L599.05,1144.24 L599.74,1145.58 L600.45,1146.89 L601.19,1148.19 L601.96,1149.47 L602.76,1150.73 L603.60,1151.97 L604.48,1153.18 L605.39,1154.35 L606.35,1155.49 L607.36,1156.59 L608.41,1157.64 L609.51,1158.63 L610.66,1159.56 L611.86,1160.42 L613.10,1161.22 L614.39,1161.94 L615.72,1162.61 L617.08,1163.20 L618.47,1163.74 L619.88,1164.22 L621.31,1164.65 L622.75,1165.03 L624.20,1165.36 L625.67,1165.66 L627.14,1165.91 L628.62,1166.13 L630.11,1166.32 L631.60,1166.48 L633.09,1166.61 L634.58,1166.73 L636.08,1166.82 L637.58,1166.90 L639.08,1166.97 L640.57,1167.04 L642.07,1167.10 L643.57,1167.15 L645.07,1167.21 L646.57,1167.26 L648.07,1167.31 L649.57,1167.36 L651.07,1167.41 L652.57,1167.45 L654.07,1167.50 L655.56,1167.55 L657.06,1167.59 L658.56,1167.63 L660.06,1167.67 L661.56,1167.70 L663.06,1167.73 L664.56,1167.76 L666.06,1167.78 L667.56,1167.80 L669.06,1167.82 L670.56,1167.84 L672.06,1167.87 L673.56,1167.89 L675.06,1167.91 L676.56,1167.93 L678.06,1167.95 L679.56,1167.97 L681.06,1167.99 L682.56,1168.01 L684.06,1168.03 L685.56,1168.05 L687.06,1168.07 L688.56,1168.10 L690.06,1168.12 L691.56,1168.14 L693.06,1168.16 L694.56,1168.18" stroke="#008080"/>
<path d="M192.00,859.60 L193.50,859.61 L195.00,859.61 L196.50,859.62 L198.00,859.62 L199.50,859.63 L201.00,859.64 L202.50,859.64 L204.00,859.65 L205.50,859.65 L207.00,859.66 L208.50,859.67 L210.00,859.67 L211.50,859.68 L213.00,859.68 L214.50,859.69 L216.00,859.69 L217.50,859.70 L219.00,859.71 L220.50,859.71 L222.00,859.72 L223.50,859.72 L225.00,859.73 L226.50,859.73 L228.00,859.74 L229.50,859.74 L231.00,859.75 L232.50,859.75 L234.00,859.75 L235.50,859.76 L237.00,859.76 L238.50,859.77 L240.00,859.77 L241.50,859.78 L243.00,859.78 L244.50,859.79 L246.00,859.79 L247.50,859.79 L249.00,859.80 L250.50,859.80 L252.00,859.80 L253.50,859.81 L255.00,859.81 L256.50,859.82 L258.00,859.82 L259.50,859.82 L261.00,859.83 L262.50,859.83 L264.00,859.83 L265.50,859.84 L267.00,859.84 L268.50,859.84 L270.00,859.85 L271.50,859.85 L273.00,859.85 L274.50,859.86 L276.00,859.86 L277.50,859.86 L279.00,859.86 L280.50,859.87 L282.00,859.87 L283.50,859.87 L285.00,859.88 L286.50,859.88 L288.00,859.88 L289.50,859.88 L291.00,859.89 L292.50,859.89 L294.00,859.89 L295.50,859.89 L297.00,859.90 L298.50,859.90 L300.00,859.90 L301.50,859.90 L303.00,859.90 L304.50,859.91 L306.00,859.91 L307.50,859.91 L309.00,859.91 L310.50,859.91 L312.00,859.92 L313.50,859.92 L315.00,859.92 L316.50,859.92 L318.00,859.92 L319.50,859.92 L321.00,859.92 L322.50,859.93 L324.00,859.93 L325.50,859.93 L327.00,859.93 L328.50,859.93 L330.00,859.93 L331.50,859.93 L333.00,859.94 L334.50,859.94 L336.00,859.94 L337.50,859.94 L339.00,859.94 L340.50,859.94 L342.00,859.94 L343.50,859.94 L345.00,859.95 L346.50,859.95 L348.00,859.95 L349.50,859.95 L351.00,859.95 L352.50,859.95 L354.00,859.95 L355.50,859.96 L357.00,859.96 L358.50,859.96 L360.00,859.96 L361.50,859.96 L363.00,859.96 L364.50,859.97 L366.00,859.97 L367.50,859.97 L369.00,859.97 L370.50,859.97 L372.00,859.98 L373.50,859.98 L375.00,859.98 L376.50,859.98 L378.00,859.99 L379.50,859.99 L381.00,859.99 L382.50,859.99 L384.00,860.00 L385.50,860.00 L387.00,860.00 L388.50,860.01 L390.00,860.01 L391.50,860.02 L393.00,860.02 L394.50,860.03 L396.00,860.03 L397.50,860.04 L399.00,860.05 L400.50,860.05 L402.00,860.06 L403.50,860.07 L405.00,860.07 L406.50,860.08 L408.00,860.09 L409.50,860.10 L411.00,860.11 L412.50,860.12 L414.00,860.13 L415.50,860.14 L417.00,860.15 L418.50,860.16 L420.00,860.17 L421.50,860.18 L423.00,860.19 L424.50,860.20 L426.00,860.21 L427.50,860.22 L429.00,860.24 L430.50,860.25 L432.00,860.26 L433.50,860.27 L435.00,860.28 L436.50,860.29 L438.00,860.31 L439.50,860.32 L441.00,860.33 L442.50,860.34 L444.00,860.35 L445.50,860.36 L447.00,860.38 L448.50,860.39 L450.00,860.40 L451.50,860.41 L453.00,860.43 L454.50,860.44 L456.00,860.45 L457.50,860.47 L459.00,860.48 L460.50,860.50 L462.00,860.51 L463.50,860.53 L465.00,860.54 L466.50,860.56 L468.00,860.58 L469.50,860.59 L471.00,860.61 L472.50,860.63 L474.00,860.65 L475.50,860.67 L477.00,860.69 L478.50,860.71 L480.00,860.73 L481.50,860.75 L483.00,860.78 L484.50,860.80 L486.00,860.83 L487.50,860.86 L488.99,860.89 L490.49,860.92 L491.99,860.95 L493.49,861.00 L494.99,861.05 L496.49,861.11 L497.99,861.20 L499.48,861.30 L500.97,861.42 L502.46,861.57 L503.95,861.75 L505.43,861.96 L506.91,862.20 L508.38,862.46 L509.85,862.75 L511.32,863.07 L512.78,863.41 L514.23,863.78 L515.67,864.17 L517.11,864.59 L518.55,865.02 L519.97,865.49 L521.38,865.98 L522.77,866.52 L524.15,867.09 L525.50,867.72 L526.82,868.40 L528.10,869.14 L529.35,869.95 L530.55,870.82 L531.71,871.74 L532.83,872.72 L533.91,873.74 L534.96,874.81 L535.96,875.91 L536.94,877.04 L537.89,878.20 L538.80,879.38 L539.69,880.58 L540.54,881.81 L541.37,883.06 L542.16,884.33 L542.92,885.61 L543.66,886.92 L544.36,888.24 L545.03,889.58 L545.68,890.93 L546.30,892.29 L546.90,893.66 L547.48,895.04 L548.04,896.43 L548.59,897.83 L549.11,899.23 L549.63,900.64 L550.12,902.06 L550.61,903.48 L551.09,904.90 L551.55,906.32 L552.01,907.75 L552.45,909.19 L552.89,910.62 L553.32,912.06 L553.74,913.50 L554.16,914.94 L554.57,916.38 L554.97,917.82 L555.37,919.27 L555.76,920.72 L556.15,922.17 L556.53,923.62 L556.90,925.07 L557.27,926.52 L557.64,927.98 L558.01,929.43 L558.39,930.88 L558.76,932.34 L559.14,933.79 L559.52,935.24 L559.91,936.69 L560.30,938.14 L560.69,939.58 L561.07,941.03 L561.46,942.48 L561.83,943.93 L562.20,945.39 L562.56,946.85 L562.90,948.30 L563.24,949.77 L563.56,951.23 L563.86,952.70 L564.16,954.17 L564.44,955.64 L564.72,957.12 L564.99,958.59 L565.25,960.07 L565.50,961.55 L565.75,963.03 L566.00,964.50 L566.25,965.98 L566.49,967.46 L566.74,968.94 L566.98,970.42 L567.23,971.90 L567.47,973.38 L567.71,974.86 L567.95,976.34 L568.19,977.83 L568.43,979.31 L568.67,980.79 L568.91,982.27 L569.14,983.75 L569.38,985.23 L569.61,986.71 L569.85,988.19 L570.08,989.68 L570.31,991.16 L570.55,992.64 L570.78,994.12 L571.01,995.60 L571.24,997.09 L571.48,998.57 L571.71,1000.05 L571.94,1001.53 L572.17,1003.01 L572.40,1004.50 L572.63,1005.98 L572.86,1007.46 L573.09,1008.94 L573.31,1010.43 L573.53,1011.91 L573.76,1013.39 L573.98,1014.88 L574.20,1016.36 L574.42,1017.84 L574.63,1019.33 L574.85,1020.81 L575.06,1022.30 L575.28,1023.78 L575.49,1025.27 L575.71,1026.75 L575.92,1028.24 L576.14,1029.72 L576.35,1031.20 L576.57,1032.69 L576.79,1034.17 L577.00,1035.66 L577.22,1037.14 L577.44,1038.62 L577.67,1040.11 L577.89,1041.59 L578.11,1043.08 L578.33,1044.56 L578.56,1046.04 L578.78,1047.53 L579.00,1049.01 L579.23,1050.49 L579.45,1051.98 L579.67,1053.46 L579.89,1054.94 L580.11,1056.43 L580.32,1057.91 L580.54,1059.40 L580.76,1060.88 L580.97,1062.36 L581.19,1063.85 L581.41,1065.33 L581.63,1066.82 L581.85,1068.30 L582.08,1069.78 L582.31,1071.26 L582.54,1072.75 L582.78,1074.23 L583.03,1075.71 L583.27,1077.19 L583.53,1078.66 L583.79,1080.14 L584.06,1081.62 L584.33,1083.09 L584.61,1084.56 L584.89,1086.04 L585.18,1087.51 L585.48,1088.98 L585.77,1090.45 L586.07,1091.92 L586.37,1093.39 L586.68,1094.86 L586.99,1096.33 L587.30,1097.79 L587.61,1099.26 L587.92,1100.73 L588.23,1102.20 L588.54,1103.66 L588.86,1105.13 L589.17,1106.60 L589.50,1108.06 L589.82,1109.53 L590.15,1110.99 L590.49,1112.45 L590.84,1113.91 L591.20,1115.36 L591.56,1116.82 L591.94,1118.27 L592.33,1119.72 L592.73,1121.16 L593.15,1122.60 L593.57,1124.04 L594.01,1125.48 L594.45,1126.91 L594.91,1128.34 L595.38,1129.76 L595.86,1131.18 L596.35,1132.60 L596.84,1134.01 L597.35,1135.43 L597.87,1136.83 L598.40,1138.23 L598.95,1139.63 L599.51,1141.02 L600.10,1142.40 L600.70,1143.77 L601.34,1145.12 L602.00,1146.46 L602.70,1147.79 L603.43,1149.09 L604.20,1150.37 L605.01,1151.63 L605.85,1152.85 L606.75,1154.05 L607.68,1155.21 L608.66,1156.33 L609.68,1157.41 L610.75,1158.46 L611.85,1159.46 L612.99,1160.42 L614.17,1161.33 L615.38,1162.19 L616.63,1162.99 L617.91,1163.73 L619.23,1164.41 L620.58,1165.03 L621.96,1165.58 L623.37,1166.07 L624.79,1166.50 L626.23,1166.88 L627.69,1167.21 L629.15,1167.50 L630.63,1167.75 L632.11,1167.97 L633.59,1168.16 L635.08,1168.33 L636.58,1168.47 L638.07,1168.59 L639.56,1168.70 L641.06,1168.79 L642.56,1168.87 L644.06,1168.94 L645.56,1169.01 L647.05,1169.06 L648.55,1169.12 L650.05,1169.17 L651.55,1169.21 L653.05,1169.26 L654.55,1169.30 L656.05,1169.34 L657.55,1169.37 L659.05,1169.41 L660.55,1169.44 L662.05,1169.48 L663.55,1169.51 L665.05,1169.54 L666.55,1169.57 L668.05,1169.61 L669.55,1169.64 L671.05,1169.67 L672.55,1169.70 L674.05,1169.72 L675.55,1169.75 L677.04,1169.78 L678.54,1169.80 L680.04,1169.83 L681.54,1169.85 L683.04,1169.87 L684.54,1169.89 L686.04,1169.91 L687.54,1169.93 L689.04,1169.94 L690.54,1169.96 L692.04,1169.97 L693.54,1169.98 L695.04,1169.99" stroke="#ff00ff"/>
<path d="M192.00,859.60 L193.50,859.60 L195.00,859.60 L196.50,859.60 L198.00,859.60 L199.50,859.61 L201.00,859.61 L202.50,859.61 L204.00,859.61 L205.50,859.61 L207.00,859.62 L208.50,859.62 L210.00,859.62 L211.50,859.63 L213.00,859.63 L214.50,859.64 L216.00,859.64 L217.50,859.64 L219.00,859.65 L220.50,859.65 L222.00,859.66 L223.50,859.67 L225.00,859.67 L226.50,859.68 L228.00,859.68 L229.50,859.69 L231.00,859.70 L232.50,859.70 L234.00,859.71 L235.50,859.72 L237.00,859.73 L238.50,859.73 L240.00,859.74 L241.50,859.75 L243.00,859.76 L244.50,859.77 L246.00,859.78 L247.50,859.79 L249.00,859.80 L250.50,859.81 L252.00,859.83 L253.50,859.85 L255.00,859.87 L256.50,859.89 L258.00,859.91 L259.50,859.94 L261.00,859.97 L262.50,860.01 L264.00,860.04 L265.50,860.08 L267.00,860.12 L268.50,860.16 L269.99,860.20 L271.49,860.25 L272.99,860.29 L274.49,860.34 L275.99,860.38 L277.49,860.43 L278.99,860.47 L280.49,860.52 L281.99,860.56 L283.49,860.61 L284.99,860.65 L286.49,860.69 L287.99,860.74 L289.49,860.77 L290.99,860.81 L292.49,860.85 L293.99,860.88 L295.48,860.91 L296.98,860.94 L298.48,860.97 L299.98,860.99 L301.48,861.01 L302.98,861.03 L304.48,861.05 L305.98,861.07 L307.48,861.09 L308.98,861.11 L310.48,861.12 L311.98,861.14 L313.48,861.15 L314.98,861.17 L316.48,861.18 L317.98,861.20 L319.48,861.21 L320.98,861.22 L322.48,861.23 L323.98,861.24 L325.48,861.26 L326.98,861.27 L328.48,861.28 L329.98,861.29 L331.48,861.30 L332.98,861.31 L334.48,861.32 L335.98,861.33 L337.48,861.34 L338.98,861.35 L340.48,861.36 L341.98,861.36 L343.48,861.37 L344.98,861.38 L346.48,861.39 L347.98,861.40 L349.48,861.41 L350.98,861.42 L352.48,861.43 L353.98,861.45 L355.48,861.46 L356.98,861.47 L358.48,861.48 L359.98,861.49 L361.48,861.51 L362.98,861.52 L364.48,861.53 L365.98,861.55 L367.48,861.56 L368.98,861.58 L370.48,861.59 L371.98,861.61 L373.48,861.63 L374.98,861.65 L376.48,861.66 L377.98,861.68 L379.48,861.71 L380.98,861.73 L382.48,861.75 L383.98,861.78 L385.48,861.80 L386.98,861.84 L388.48,861.87 L389.98,861.91 L391.48,861.95 L392.98,862.00 L394.48,862.05 L395.97,862.11 L397.47,862.17 L398.97,862.24 L400.47,862.31 L401.97,862.38 L403.47,862.46 L404.96,862.54 L406.46,862.62 L407.96,862.70 L409.46,862.79 L410.95,862.88 L412.45,862.97 L413.95,863.06 L415.45,863.15 L416.94,863.25 L418.44,863.34 L419.94,863.43 L421.43,863.53 L422.93,863.62 L424.43,863.71 L425.93,863.81 L427.42,863.90 L428.92,863.99 L430.42,864.08 L431.92,864.16 L433.41,864.25 L434.91,864.33 L436.41,864.41 L437.91,864.48 L439.40,864.56 L440.90,864.63 L442.40,864.69 L443.90,864.76 L445.40,864.82 L446.90,864.88 L448.40,864.94 L449.90,865.00 L451.39,865.06 L452.89,865.11 L454.39,865.17 L455.89,865.22 L457.39,865.27 L458.89,865.33 L460.39,865.38 L461.89,865.43 L463.39,865.49 L464.89,865.54 L466.38,865.60 L467.88,865.65 L469.38,865.71 L470.88,865.77 L472.38,865.83 L473.88,865.89 L475.38,865.96 L476.88,866.02 L478.37,866.09 L479.87,866.17 L481.37,866.24 L482.87,866.32 L484.37,866.40 L485.86,866.49 L487.36,866.59 L488.86,866.69 L490.35,866.80 L491.85,866.92 L493.34,867.05 L494.83,867.20 L496.32,867.36 L497.81,867.54 L499.29,867.74 L500.78,867.97 L502.26,868.21 L503.73,868.48 L505.20,868.77 L506.67,869.08 L508.13,869.41 L509.58,869.77 L511.03,870.14 L512.48,870.54 L513.92,870.96 L515.35,871.40 L516.77,871.86 L518.18,872.36 L519.59,872.88 L520.97,873.44 L522.33,874.04 L523.67,874.69 L524.98,875.40 L526.26,876.16 L527.50,876.98 L528.69,877.86 L529.83,878.80 L530.93,879.80 L531.98,880.84 L532.99,881.94 L533.95,883.08 L534.87,884.25 L535.74,885.46 L536.59,886.69 L537.40,887.95 L538.17,889.23 L538.91,890.53 L539.62,891.85 L540.30,893.18 L540.95,894.53 L541.58,895.89 L542.18,897.26 L542.75,898.64 L543.32,900.03 L543.86,901.43 L544.39,902.83 L544.91,904.24 L545.41,905.65 L545.91,907.07 L546.39,908.49 L546.87,909.91 L547.33,911.33 L547.79,912.76 L548.25,914.19 L548.69,915.62 L549.14,917.06 L549.57,918.49 L550.01,919.93 L550.44,921.36 L550.87,922.80 L551.29,924.24 L551.70,925.68 L552.10,927.13 L552.50,928.57 L552.89,930.02 L553.28,931.47 L553.67,932.92 L554.06,934.37 L554.46,935.81 L554.87,937.25 L555.30,938.69 L555.74,940.12 L556.18,941.55 L556.63,942.98 L557.08,944.42 L557.52,945.85 L557.95,947.29 L558.36,948.73 L558.74,950.17 L559.11,951.63 L559.46,953.08 L559.79,954.55 L560.11,956.01 L560.40,957.48 L560.69,958.95 L560.97,960.43 L561.25,961.90 L561.52,963.38 L561.78,964.85 L562.05,966.33 L562.31,967.81 L562.57,969.28 L562.84,970.76 L563.10,972.24 L563.36,973.71 L563.63,975.19 L563.89,976.67 L564.15,978.14 L564.41,979.62 L564.67,981.10 L564.92,982.58 L565.18,984.06 L565.44,985.53 L565.69,987.01 L565.95,988.49 L566.21,989.97 L566.46,991.44 L566.72,992.92 L566.98,994.40 L567.24,995.88 L567.50,997.35 L567.76,998.83 L568.02,1000.31 L568.28,1001.79 L568.54,1003.26 L568.80,1004.74 L569.06,1006.22 L569.32,1007.70 L569.57,1009.17 L569.83,1010.65 L570.08,1012.13 L570.33,1013.61 L570.58,1015.09 L570.82,1016.57 L571.07,1018.05 L571.31,1019.53 L571.55,1021.01 L571.79,1022.49 L572.03,1023.97 L572.26,1025.45 L572.50,1026.93 L572.73,1028.42 L572.96,1029.90 L573.19,1031.38 L573.43,1032.86 L573.65,1034.34 L573.88,1035.83 L574.11,1037.31 L574.33,1038.79 L574.56,1040.28 L574.78,1041.76 L575.00,1043.24 L575.23,1044.73 L575.45,1046.21 L575.67,1047.69 L575.89,1049.18 L576.11,1050.66 L576.33,1052.14 L576.55,1053.63 L576.77,1055.11 L576.99,1056.60 L577.21,1058.08 L577.43,1059.56 L577.65,1061.05 L577.87,1062.53 L578.11,1064.01 L578.35,1065.49 L578.60,1066.97 L578.87,1068.44 L579.16,1069.91 L579.47,1071.38 L579.79,1072.84 L580.12,1074.31 L580.46,1075.77 L580.81,1077.23 L581.14,1078.69 L581.47,1080.15 L581.79,1081.61 L582.10,1083.08 L582.39,1084.55 L582.68,1086.03 L582.96,1087.50 L583.23,1088.97 L583.51,1090.45 L583.78,1091.92 L584.06,1093.40 L584.34,1094.87 L584.62,1096.34 L584.90,1097.82 L585.19,1099.29 L585.49,1100.76 L585.79,1102.23 L586.09,1103.70 L586.39,1105.17 L586.70,1106.63 L587.02,1108.10 L587.34,1109.57 L587.66,1111.03 L588.00,1112.49 L588.34,1113.95 L588.69,1115.41 L589.05,1116.87 L589.43,1118.32 L589.81,1119.77 L590.21,1121.21 L590.62,1122.65 L591.05,1124.09 L591.48,1125.53 L591.93,1126.96 L592.39,1128.39 L592.86,1129.81 L593.34,1131.23 L593.84,1132.64 L594.35,1134.05 L594.87,1135.46 L595.40,1136.86 L595.95,1138.26 L596.52,1139.64 L597.11,1141.02 L597.72,1142.39 L598.35,1143.74 L599.02,1145.09 L599.71,1146.41 L600.43,1147.72 L601.19,1149.01 L601.99,1150.27 L602.82,1151.51 L603.69,1152.73 L604.60,1153.91 L605.56,1155.05 L606.55,1156.15 L607.60,1157.20 L608.69,1158.21 L609.83,1159.15 L611.02,1160.04 L612.25,1160.86 L613.53,1161.62 L614.84,1162.30 L616.19,1162.93 L617.56,1163.48 L618.96,1163.98 L620.39,1164.41 L621.83,1164.79 L623.28,1165.12 L624.75,1165.39 L626.23,1165.63 L627.71,1165.82 L629.20,1165.97 L630.69,1166.10 L632.18,1166.20 L633.68,1166.29 L635.18,1166.36 L636.67,1166.43 L638.17,1166.48 L639.67,1166.54 L641.17,1166.59 L642.67,1166.63 L644.17,1166.67 L645.67,1166.71 L647.17,1166.75 L648.67,1166.78 L650.17,1166.81 L651.67,1166.84 L653.17,1166.87 L654.67,1166.90 L656.17,1166.93 L657.67,1166.96 L659.17,1166.99 L660.67,1167.01 L662.17,1167.04 L663.67,1167.07 L665.17,1167.10 L666.67,1167.12 L668.16,1167.15 L669.66,1167.18 L671.16,1167.20 L672.66,1167.23 L674.16,1167.25 L675.66,1167.28 L677.16,1167.30 L678.66,1167.32 L680.16,1167.34 L681.66,1167.36 L683.16,1167.38 L684.66,1167.40 L686.16,1167.41 L687.66,1167.43 L689.16,1167.44 L690.66,1167.46 L692.16,1167.47 L693.66,1167.48 L695.16,1167.49" stroke="#808000"/>
<path d="M192.00,859.60 L193.50,859.60 L195.00,859.61 L196.50,859.61 L198.00,859.61 L199.50,859.62 L201.00,859.62 L202.50,859.63 L204.00,859.63 L205.50,859.63 L207.00,859.64 L208.50,859.64 L210.00,859.65 L211.50,859.65 L213.00,859.66 L214.50,859.66 L216.00,859.67 L217.50,859.67 L219.00,859.68 L220.50,859.68 L222.00,859.69 L223.50,859.69 L225.00,859.70 L226.50,859.70 L228.00,859.71 L229.50,859.72 L231.00,859.72 L232.50,859.73 L234.00,859.73 L235.50,859.74 L237.00,859.74 L238.50,859.75 L240.00,859.76 L241.50,859.76 L243.00,859.77 L244.50,859.78 L246.00,859.78 L247.50,859.79 L249.00,859.80 L250.50,859.80 L252.00,859.81 L253.50,859.82 L255.00,859.82 L256.50,859.83 L258.00,859.84 L259.50,859.85 L261.00,859.85 L262.50,859.86 L264.00,859.87 L265.50,859.88 L267.00,859.89 L268.50,859.90 L270.00,859.91 L271.50,859.91 L273.00,859.92 L274.50,859.93 L276.00,859.94 L277.50,859.95 L279.00,859.96 L280.50,859.97 L282.00,859.98 L283.50,859.99 L285.00,860.00 L286.50,860.01 L288.00,860.02 L289.50,860.03 L291.00,860.04 L292.50,860.05 L294.00,860.06 L295.50,860.07 L297.00,860.08 L298.50,860.09 L300.00,860.10 L301.50,860.11 L303.00,860.12 L304.50,860.13 L306.00,860.14 L307.50,860.15 L309.00,860.16 L310.50,860.17 L312.00,860.18 L313.50,860.19 L315.00,860.20 L316.50,860.21 L318.00,860.22 L319.50,860.23 L321.00,860.24 L322.50,860.25 L324.00,860.26 L325.50,860.27 L327.00,860.28 L328.50,860.29 L330.00,860.30 L331.50,860.31 L333.00,860.32 L334.50,860.33 L336.00,860.34 L337.50,860.35 L339.00,860.37 L340.50,860.38 L342.00,860.39 L343.50,860.40 L345.00,860.41 L346.50,860.42 L348.00,860.43 L349.50,860.45 L351.00,860.46 L352.50,860.47 L354.00,860.48 L355.50,860.50 L357.00,860.51 L358.50,860.52 L360.00,860.53 L361.50,860.55 L363.00,860.56 L364.50,860.57 L366.00,860.59 L367.50,860.60 L369.00,860.62 L370.50,860.63 L372.00,860.65 L373.50,860.66 L375.00,860.68 L376.50,860.69 L378.00,860.71 L379.50,860.73 L381.00,860.74 L382.50,860.76 L384.00,860.78 L385.50,860.80 L387.00,860.82 L388.50,860.84 L390.00,860.86 L391.50,860.88 L393.00,860.90 L394.49,860.93 L395.99,860.95 L397.49,860.98 L398.99,861.00 L400.49,861.03 L401.99,861.06 L403.49,861.09 L404.99,861.12 L406.49,861.15 L407.99,861.18 L409.49,861.21 L410.99,861.24 L412.49,861.28 L413.99,861.31 L415.49,861.34 L416.99,861.38 L418.49,861.41 L419.99,861.44 L421.49,861.48 L422.99,861.51 L424.49,861.54 L425.99,861.58 L427.49,861.61 L428.99,861.64 L430.49,861.68 L431.99,861.71 L433.49,861.74 L434.99,861.77 L436.49,861.80 L437.99,861.83 L439.49,861.86 L440.98,861.89 L442.48,861.92 L443.98,861.95 L445.48,861.97 L446.98,862.00 L448.48,862.02 L449.98,862.05 L451.48,862.07 L452.98,862.10 L454.48,862.12 L455.98,862.14 L457.48,862.17 L458.98,862.19 L460.48,862.22 L461.98,862.24 L463.48,862.26 L464.98,862.29 L466.48,862.31 L467.98,862.34 L469.48,862.37 L470.98,862.39 L472.48,862.42 L473.98,862.45 L475.48,862.48 L476.98,862.51 L478.48,862.54 L479.98,862.58 L481.48,862.61 L482.98,862.65 L484.48,862.69 L485.98,862.73 L487.48,862.78 L488.97,862.82 L490.47,862.88 L491.97,862.94 L493.47,863.01 L494.97,863.08 L496.46,863.18 L497.96,863.28 L499.45,863.41 L500.94,863.56 L502.43,863.73 L503.92,863.93 L505.39,864.16 L506.87,864.42 L508.34,864.71 L509.80,865.04 L511.25,865.39 L512.70,865.78 L514.14,866.19 L515.57,866.63 L517.00,867.09 L518.42,867.56 L519.83,868.05 L521.24,868.56 L522.64,869.09 L524.02,869.66 L525.37,870.27 L526.70,870.94 L527.99,871.67 L529.25,872.46 L530.46,873.30 L531.64,874.21 L532.77,875.18 L533.86,876.19 L534.90,877.25 L535.91,878.35 L536.87,879.49 L537.80,880.66 L538.70,881.85 L539.56,883.08 L540.38,884.32 L541.18,885.59 L541.94,886.87 L542.68,888.18 L543.39,889.50 L544.07,890.83 L544.71,892.18 L545.34,893.54 L545.93,894.92 L546.50,896.30 L547.05,897.69 L547.58,899.10 L548.09,900.51 L548.59,901.92 L549.07,903.34 L549.54,904.76 L550.01,906.19 L550.46,907.62 L550.91,909.05 L551.34,910.49 L551.78,911.92 L552.20,913.36 L552.62,914.80 L553.03,916.24 L553.44,917.69 L553.84,919.13 L554.23,920.58 L554.62,922.03 L555.00,923.48 L555.38,924.93 L555.75,926.38 L556.12,927.84 L556.49,929.29 L556.86,930.74 L557.23,932.20 L557.60,933.65 L557.97,935.10 L558.35,936.56 L558.73,938.01 L559.11,939.46 L559.49,940.91 L559.86,942.36 L560.23,943.82 L560.60,945.27 L560.96,946.73 L561.31,948.18 L561.65,949.65 L561.98,951.11 L562.30,952.57 L562.61,954.04 L562.91,955.51 L563.21,956.98 L563.50,958.45 L563.78,959.92 L564.06,961.40 L564.33,962.87 L564.60,964.35 L564.87,965.82 L565.14,967.30 L565.41,968.78 L565.67,970.25 L565.93,971.73 L566.20,973.21 L566.45,974.68 L566.71,976.16 L566.97,977.64 L567.22,979.12 L567.48,980.60 L567.73,982.07 L567.98,983.55 L568.23,985.03 L568.47,986.51 L568.72,987.99 L568.97,989.47 L569.22,990.95 L569.46,992.43 L569.71,993.91 L569.96,995.39 L570.21,996.87 L570.45,998.35 L570.70,999.83 L570.95,1001.31 L571.19,1002.79 L571.44,1004.27 L571.68,1005.75 L571.92,1007.23 L572.17,1008.71 L572.40,1010.19 L572.64,1011.67 L572.88,1013.15 L573.11,1014.63 L573.34,1016.11 L573.57,1017.60 L573.79,1019.08 L574.02,1020.56 L574.24,1022.05 L574.46,1023.53 L574.69,1025.01 L574.91,1026.50 L575.13,1027.98 L575.35,1029.46 L575.57,1030.95 L575.79,1032.43 L576.01,1033.92 L576.23,1035.40 L576.45,1036.88 L576.68,1038.37 L576.90,1039.85 L577.12,1041.33 L577.35,1042.82 L577.57,1044.30 L577.79,1045.78 L578.01,1047.27 L578.24,1048.75 L578.46,1050.23 L578.68,1051.72 L578.90,1053.20 L579.12,1054.68 L579.34,1056.17 L579.55,1057.65 L579.77,1059.14 L579.99,1060.62 L580.20,1062.11 L580.42,1063.59 L580.64,1065.07 L580.86,1066.56 L581.08,1068.04 L581.30,1069.52 L581.53,1071.01 L581.75,1072.49 L581.99,1073.97 L582.22,1075.45 L582.47,1076.93 L582.72,1078.41 L582.97,1079.89 L583.23,1081.37 L583.50,1082.84 L583.78,1084.32 L584.06,1085.79 L584.35,1087.26 L584.64,1088.73 L584.94,1090.20 L585.24,1091.67 L585.54,1093.14 L585.85,1094.61 L586.15,1096.08 L586.46,1097.55 L586.77,1099.01 L587.08,1100.48 L587.40,1101.95 L587.71,1103.42 L588.02,1104.88 L588.34,1106.35 L588.66,1107.81 L588.99,1109.28 L589.32,1110.74 L589.66,1112.20 L590.00,1113.66 L590.36,1115.12 L590.72,1116.57 L591.10,1118.02 L591.48,1119.47 L591.88,1120.92 L592.29,1122.36 L592.71,1123.80 L593.15,1125.24 L593.59,1126.67 L594.05,1128.10 L594.52,1129.52 L595.00,1130.94 L595.49,1132.36 L595.99,1133.77 L596.51,1135.18 L597.04,1136.58 L597.59,1137.97 L598.15,1139.36 L598.74,1140.74 L599.34,1142.11 L599.98,1143.47 L600.64,1144.81 L601.33,1146.14 L602.05,1147.45 L602.81,1148.73 L603.61,1150.00 L604.44,1151.23 L605.32,1152.43 L606.25,1153.60 L607.22,1154.74 L608.23,1155.83 L609.28,1156.88 L610.37,1157.89 L611.51,1158.86 L612.68,1159.78 L613.89,1160.64 L615.13,1161.46 L616.41,1162.21 L617.72,1162.91 L619.07,1163.54 L620.44,1164.11 L621.84,1164.62 L623.25,1165.07 L624.69,1165.47 L626.14,1165.82 L627.60,1166.12 L629.08,1166.39 L630.55,1166.63 L632.04,1166.83 L633.52,1167.01 L635.01,1167.17 L636.51,1167.32 L638.00,1167.44 L639.50,1167.56 L640.99,1167.66 L642.49,1167.75 L643.99,1167.84 L645.48,1167.92 L646.98,1167.99 L648.48,1168.06 L649.98,1168.12 L651.48,1168.18 L652.98,1168.24 L654.48,1168.29 L655.97,1168.34 L657.47,1168.38 L658.97,1168.42 L660.47,1168.46 L661.97,1168.50 L663.47,1168.54 L664.97,1168.57 L666.47,1168.60 L667.97,1168.64 L669.47,1168.67 L670.97,1168.70 L672.47,1168.73 L673.97,1168.76 L675.47,1168.78 L676.97,1168.81 L678.47,1168.84 L679.97,1168.86 L681.47,1168.88 L682.97,1168.90 L684.47,1168.92 L685.97,1168.94 L687.47,1168.95 L688.97,1168.96 L690.47,1168.97 L691.97,1168.98 L693.47,1168.99 L694.97,1169.00" stroke="#000080"/>
<path d="M192.00,859.60 L193.50,859.60 L195.00,859.60 L196.50,859.61 L198.00,859.61 L199.50,859.61 L201.00,859.61 L202.50,859.62 L204.00,859.62 L205.50,859.63 L207.00,859.63 L208.50,859.64 L210.00,859.65 L211.50,859.65 L213.00,859.66 L214.50,859.67 L216.00,859.68 L217.50,859.69 L219.00,859.70 L220.50,859.71 L222.00,859.72 L223.50,859.73 L225.00,859.74 L226.50,859.76 L228.00,859.77 L229.50,859.78 L231.00,859.80 L232.50,859.81 L234.00,859.82 L235.50,859.84 L237.00,859.85 L238.50,859.87 L240.00,859.89 L241.50,859.90 L243.00,859.92 L244.50,859.94 L246.00,859.96 L247.50,859.98 L249.00,860.00 L250.50,860.03 L252.00,860.05 L253.50,860.09 L255.00,860.13 L256.50,860.17 L257.99,860.22 L259.49,860.28 L260.99,860.34 L262.49,860.40 L263.99,860.47 L265.49,860.54 L266.99,860.62 L268.48,860.70 L269.98,860.78 L271.48,860.87 L272.98,860.96 L274.47,861.05 L275.97,861.14 L277.47,861.23 L278.96,861.32 L280.46,861.41 L281.96,861.51 L283.46,861.60 L284.95,861.69 L286.45,861.78 L287.95,861.87 L289.45,861.95 L290.94,862.04 L292.44,862.12 L293.94,862.20 L295.44,862.28 L296.94,862.35 L298.43,862.42 L299.93,862.49 L301.43,862.55 L302.93,862.61 L304.43,862.68 L305.93,862.74 L307.43,862.79 L308.92,862.85 L310.42,862.91 L311.92,862.97 L313.42,863.03 L314.92,863.08 L316.42,863.14 L317.92,863.19 L319.42,863.25 L320.92,863.30 L322.41,863.36 L323.91,863.41 L325.41,863.46 L326.91,863.52 L328.41,863.57 L329.91,863.62 L331.41,863.67 L332.91,863.72 L334.41,863.77 L335.91,863.83 L337.41,863.88 L338.91,863.93 L340.40,863.98 L341.90,864.02 L343.40,864.07 L344.90,864.12 L346.40,864.17 L347.90,864.22 L349.40,864.27 L350.90,864.32 L352.40,864.36 L353.90,864.41 L355.40,864.46 L356.90,864.51 L358.40,864.55 L359.89,864.60 L361.39,864.65 L362.89,864.69 L364.39,864.74 L365.89,864.78 L367.39,864.83 L368.89,864.88 L370.39,864.92 L371.89,864.97 L373.39,865.01 L374.89,865.06 L376.39,865.11 L377.89,865.15 L379.39,865.20 L380.88,865.24 L382.38,865.29 L383.88,865.33 L385.38,865.38 L386.88,865.42 L388.38,865.47 L389.88,865.51 L391.38,865.55 L392.88,865.59 L394.38,865.63 L395.88,865.67 L397.38,865.71 L398.88,865.75 L400.38,865.78 L401.88,865.82 L403.38,865.86 L404.88,865.89 L406.38,865.93 L407.87,865.96 L409.37,866.00 L410.87,866.04 L412.37,866.07 L413.87,866.11 L415.37,866.15 L416.87,866.19 L418.37,866.22 L419.87,866.26 L421.37,866.31 L422.87,866.35 L424.37,866.39 L425.87,866.44 L427.37,866.48 L428.87,866.53 L430.37,866.58 L431.87,866.63 L433.36,866.68 L434.86,866.74 L436.36,866.79 L437.86,866.85 L439.36,866.92 L440.86,866.98 L442.36,867.06 L443.85,867.13 L445.35,867.21 L446.85,867.29 L448.35,867.38 L449.84,867.47 L451.34,867.57 L452.84,867.67 L454.33,867.77 L455.83,867.88 L457.33,867.99 L458.82,868.10 L460.32,868.22 L461.81,868.34 L463.31,868.46 L464.80,868.59 L466.30,868.71 L467.79,868.84 L469.29,868.97 L470.78,869.11 L472.27,869.24 L473.77,869.38 L475.26,869.52 L476.75,869.66 L478.25,869.80 L479.74,869.95 L481.23,870.10 L482.72,870.25 L484.21,870.42 L485.70,870.60 L487.19,870.79 L488.68,870.99 L490.16,871.21 L491.64,871.45 L493.11,871.71 L494.59,871.99 L496.05,872.30 L497.52,872.62 L498.97,872.97 L500.42,873.34 L501.87,873.74 L503.31,874.16 L504.74,874.61 L506.16,875.08 L507.57,875.58 L508.97,876.10 L510.37,876.64 L511.75,877.22 L513.12,877.82 L514.47,878.46 L515.81,879.13 L517.12,879.84 L518.41,880.59 L519.66,881.39 L520.89,882.24 L522.08,883.14 L523.23,884.08 L524.34,885.07 L525.42,886.10 L526.46,887.17 L527.47,888.27 L528.45,889.40 L529.39,890.56 L530.31,891.74 L531.20,892.95 L532.06,894.17 L532.89,895.42 L533.69,896.68 L534.46,897.96 L535.21,899.26 L535.93,900.57 L536.62,901.90 L537.28,903.24 L537.92,904.60 L538.54,905.96 L539.14,907.34 L539.71,908.72 L540.28,910.11 L540.82,911.51 L541.35,912.91 L541.87,914.31 L542.38,915.72 L542.88,917.14 L543.38,918.55 L543.87,919.97 L544.35,921.39 L544.83,922.81 L545.31,924.23 L545.78,925.66 L546.25,927.08 L546.72,928.51 L547.18,929.93 L547.64,931.36 L548.11,932.79 L548.56,934.22 L549.02,935.65 L549.47,937.08 L549.93,938.51 L550.38,939.94 L550.82,941.37 L551.26,942.80 L551.69,944.24 L552.11,945.68 L552.52,947.12 L552.91,948.57 L553.29,950.02 L553.66,951.47 L554.01,952.93 L554.34,954.39 L554.66,955.86 L554.97,957.32 L555.27,958.79 L555.56,960.26 L555.85,961.74 L556.14,963.21 L556.42,964.68 L556.70,966.16 L556.99,967.63 L557.27,969.10 L557.56,970.57 L557.84,972.05 L558.13,973.52 L558.43,974.99 L558.72,976.46 L559.01,977.93 L559.30,979.40 L559.60,980.87 L559.89,982.34 L560.19,983.81 L560.48,985.29 L560.78,986.76 L561.07,988.23 L561.36,989.70 L561.66,991.17 L561.95,992.64 L562.25,994.11 L562.54,995.58 L562.83,997.05 L563.13,998.52 L563.42,999.99 L563.72,1001.46 L564.01,1002.94 L564.31,1004.41 L564.60,1005.88 L564.89,1007.35 L565.19,1008.82 L565.48,1010.29 L565.78,1011.76 L566.07,1013.23 L566.37,1014.70 L566.67,1016.17 L566.96,1017.64 L567.26,1019.11 L567.56,1020.58 L567.86,1022.05 L568.16,1023.52 L568.45,1024.99 L568.75,1026.46 L569.04,1027.93 L569.33,1029.41 L569.62,1030.88 L569.90,1032.35 L570.18,1033.83 L570.46,1035.30 L570.73,1036.78 L570.99,1038.25 L571.26,1039.73 L571.52,1041.20 L571.78,1042.68 L572.04,1044.16 L572.29,1045.64 L572.55,1047.12 L572.80,1048.59 L573.06,1050.07 L573.32,1051.55 L573.57,1053.03 L573.83,1054.51 L574.09,1055.98 L574.35,1057.46 L574.61,1058.94 L574.87,1060.41 L575.14,1061.89 L575.41,1063.37 L575.68,1064.84 L575.97,1066.31 L576.26,1067.78 L576.57,1069.25 L576.88,1070.72 L577.21,1072.18 L577.55,1073.64 L577.89,1075.10 L578.24,1076.56 L578.58,1078.02 L578.91,1079.48 L579.24,1080.95 L579.56,1082.41 L579.87,1083.88 L580.17,1085.35 L580.47,1086.82 L580.76,1088.29 L581.05,1089.76 L581.34,1091.23 L581.63,1092.70 L581.92,1094.18 L582.21,1095.65 L582.51,1097.12 L582.81,1098.59 L583.11,1100.06 L583.42,1101.52 L583.73,1102.99 L584.04,1104.46 L584.36,1105.92 L584.68,1107.39 L585.00,1108.85 L585.33,1110.32 L585.67,1111.78 L586.01,1113.24 L586.36,1114.70 L586.72,1116.15 L587.09,1117.61 L587.48,1119.06 L587.87,1120.50 L588.27,1121.95 L588.69,1123.39 L589.12,1124.83 L589.56,1126.26 L590.01,1127.69 L590.48,1129.11 L590.96,1130.53 L591.46,1131.95 L591.98,1133.35 L592.51,1134.75 L593.07,1136.14 L593.65,1137.52 L594.25,1138.89 L594.88,1140.25 L595.55,1141.59 L596.25,1142.90 L597.00,1144.19 L597.79,1145.45 L598.64,1146.67 L599.55,1147.83 L600.52,1148.93 L601.56,1149.96 L602.67,1150.90 L603.85,1151.75 L605.10,1152.49 L606.40,1153.13 L607.76,1153.67 L609.16,1154.12 L610.59,1154.50 L612.04,1154.82 L613.51,1155.09 L614.98,1155.33 L616.47,1155.54 L617.95,1155.74 L619.44,1155.92 L620.93,1156.09 L622.42,1156.26 L623.91,1156.42 L625.40,1156.57 L626.90,1156.72 L628.39,1156.86 L629.88,1157.00 L631.38,1157.13 L632.87,1157.25 L634.37,1157.37 L635.86,1157.49 L637.36,1157.60 L638.85,1157.70 L640.35,1157.80 L641.85,1157.90 L643.35,1157.99 L644.84,1158.08 L646.34,1158.16 L647.84,1158.24 L649.34,1158.31 L650.84,1158.37 L652.33,1158.43 L653.83,1158.49 L655.33,1158.55 L656.83,1158.61 L658.33,1158.68 L659.83,1158.74 L661.33,1158.81 L662.82,1158.88 L664.32,1158.95 L665.82,1159.02 L667.32,1159.10 L668.82,1159.18 L670.31,1159.26 L671.81,1159.35 L673.31,1159.43 L674.81,1159.52 L676.30,1159.61 L677.80,1159.71 L679.30,1159.80 L680.79,1159.90 L682.29,1160.00 L683.79,1160.10 L685.28,1160.20 L686.78,1160.31 L688.28,1160.42 L689.77,1160.53 L691.27,1160.64 L692.76,1160.75 L694.26,1160.87 L695.76,1160.98" stroke="#800000"/>
</g>
<g stroke="#000" stroke-width="1.3" stroke-dasharray="4.3,2.7" fill="none">
<line x1="386.5" y1="44" x2="386.5" y2="1197"/>
<line x1="404.5" y1="437" x2="404.5" y2="1197"/>
<line x1="499.6" y1="49" x2="499.6" y2="1197"/>
</g>
<g stroke="#000" stroke-width="3" fill="none" stroke-linecap="butt">
<line x1="191.6" y1="26.0" x2="191.6" y2="400.0"/>
<line x1="696.4" y1="26.0" x2="696.4" y2="400.0"/>
<line x1="188.1" y1="27.5" x2="697.9" y2="27.5"/>
<line x1="188.1" y1="398.5" x2="697.9" y2="398.5"/>
<line x1="184.1" y1="367.70" x2="191.6" y2="367.70"/>
<line x1="188.1" y1="336.79" x2="191.6" y2="336.79"/>
<line x1="184.1" y1="305.88" x2="191.6" y2="305.88"/>
<line x1="188.1" y1="274.97" x2="191.6" y2="274.97"/>
<line x1="184.1" y1="244.06" x2="191.6" y2="244.06"/>
<line x1="188.1" y1="213.15" x2="191.6" y2="213.15"/>
<line x1="184.1" y1="182.24" x2="191.6" y2="182.24"/>
<line x1="188.1" y1="151.33" x2="191.6" y2="151.33"/>
<line x1="184.1" y1="120.42" x2="191.6" y2="120.42"/>
<line x1="188.1" y1="89.51" x2="191.6" y2="89.51"/>
<line x1="184.1" y1="58.60" x2="191.6" y2="58.60"/>
<line x1="215.50" y1="398.5" x2="215.50" y2="406.0"/>
<line x1="275.61" y1="398.5" x2="275.61" y2="402.0"/>
<line x1="335.72" y1="398.5" x2="335.72" y2="406.0"/>
<line x1="395.83" y1="398.5" x2="395.83" y2="402.0"/>
<line x1="455.94" y1="398.5" x2="455.94" y2="406.0"/>
<line x1="516.05" y1="398.5" x2="516.05" y2="402.0"/>
<line x1="576.16" y1="398.5" x2="576.16" y2="406.0"/>
<line x1="636.27" y1="398.5" x2="636.27" y2="402.0"/>
<line x1="696.38" y1="398.5" x2="696.38" y2="406.0"/>
</g>
<g stroke="#000" stroke-width="3" fill="none" stroke-linecap="butt">
<line x1="192.5" y1="422.9" x2="192.5" y2="803.3"/>
<line x1="698.5" y1="422.9" x2="698.5" y2="803.3"/>
<line x1="189.0" y1="424.4" x2="700.0" y2="424.4"/>
<line x1="189.0" y1="801.8" x2="700.0" y2="801.8"/>
<line x1="185.0" y1="770.40" x2="192.5" y2="770.40"/>
<line x1="189.0" y1="738.91" x2="192.5" y2="738.91"/>
<line x1="185.0" y1="707.42" x2="192.5" y2="707.42"/>
<line x1="189.0" y1="675.93" x2="192.5" y2="675.93"/>
<line x1="185.0" y1="644.44" x2="192.5" y2="644.44"/>
<line x1="189.0" y1="612.95" x2="192.5" y2="612.95"/>
<line x1="185.0" y1="581.46" x2="192.5" y2="581.46"/>
<line x1="189.0" y1="549.97" x2="192.5" y2="549.97"/>
<line x1="185.0" y1="518.48" x2="192.5" y2="518.48"/>
<line x1="189.0" y1="486.99" x2="192.5" y2="486.99"/>
<line x1="185.0" y1="455.50" x2="192.5" y2="455.50"/>
<line x1="216.60" y1="801.8" x2="216.60" y2="809.3"/>
<line x1="276.84" y1="801.8" x2="276.84" y2="805.3"/>
<line x1="337.08" y1="801.8" x2="337.08" y2="809.3"/>
<line x1="397.32" y1="801.8" x2="397.32" y2="805.3"/>
<line x1="457.56" y1="801.8" x2="457.56" y2="809.3"/>
<line x1="517.80" y1="801.8" x2="517.80" y2="805.3"/>
<line x1="578.04" y1="801.8" x2="578.04" y2="809.3"/>
<line x1="638.28" y1="801.8" x2="638.28" y2="805.3"/>
<line x1="698.52" y1="801.8" x2="698.52" y2="809.3"/>
</g>
<g stroke="#000" stroke-width="3" fill="none" stroke-linecap="butt">
<line x1="191.6" y1="827.0" x2="191.6" y2="1201.8"/>
<line x1="696.2" y1="827.0" x2="696.2" y2="1201.8"/>
<line x1="188.1" y1="828.5" x2="697.7" y2="828.5"/>
<line x1="188.1" y1="1200.3" x2="697.7" y2="1200.3"/>
<line x1="184.1" y1="1169.40" x2="191.6" y2="1169.40"/>
<line x1="188.1" y1="1138.42" x2="191.6" y2="1138.42"/>
<line x1="184.1" y1="1107.44" x2="191.6" y2="1107.44"/>
<line x1="188.1" y1="1076.46" x2="191.6" y2="1076.46"/>
<line x1="184.1" y1="1045.48" x2="191.6" y2="1045.48"/>
<line x1="188.1" y1="1014.50" x2="191.6" y2="1014.50"/>
<line x1="184.1" y1="983.52" x2="191.6" y2="983.52"/>
<line x1="188.1" y1="952.54" x2="191.6" y2="952.54"/>
<line x1="184.1" y1="921.56" x2="191.6" y2="921.56"/>
<line x1="188.1" y1="890.58" x2="191.6" y2="890.58"/>
<line x1="184.1" y1="859.60" x2="191.6" y2="859.60"/>
<line x1="215.50" y1="1200.3" x2="215.50" y2="1207.8"/>
<line x1="275.59" y1="1200.3" x2="275.59" y2="1203.8"/>
<line x1="335.68" y1="1200.3" x2="335.68" y2="1207.8"/>
<line x1="395.77" y1="1200.3" x2="395.77" y2="1203.8"/>
<line x1="455.86" y1="1200.3" x2="455.86" y2="1207.8"/>
<line x1="515.95" y1="1200.3" x2="515.95" y2="1203.8"/>
<line x1="576.04" y1="1200.3" x2="576.04" y2="1207.8"/>
<line x1="636.13" y1="1200.3" x2="636.13" y2="1203.8"/>
<line x1="696.22" y1="1200.3" x2="696.22" y2="1207.8"/>
</g>
<text x="167.97" y="73.45" font-size="39" text-anchor="end" font-family="Liberation Serif" font-weight="bold">100</text>
<text x="161.77" y="138.25" font-size="39" text-anchor="end" font-family="Liberation Serif" font-weight="bold">80</text>
<text x="163.07" y="195.65" font-size="39" text-anchor="end" font-family="Liberation Serif" font-weight="bold">60</text>
<text x="161.77" y="256.25" font-size="39" text-anchor="end" font-family="Liberation Serif" font-weight="bold">40</text>
<text x="161.77" y="320.45" font-size="39" text-anchor="end" font-family="Liberation Serif" font-weight="bold">20</text>
<text x="163.37" y="384.45" font-size="39" text-anchor="end" font-family="Liberation Serif" font-weight="bold">0</text>
<text x="167.97" y="472.15" font-size="39" text-anchor="end" font-family="Liberation Serif" font-weight="bold">100</text>
<text x="161.77" y="536.65" font-size="39" text-anchor="end" font-family="Liberation Serif" font-weight="bold">80</text>
<text x="163.07" y="598.45" font-size="39" text-anchor="end" font-family="Liberation Serif" font-weight="bold">60</text>
<text x="161.77" y="658.85" font-size="39" text-anchor="end" font-family="Liberation Serif" font-weight="bold">40</text>
<text x="161.97" y="723.35" font-size="39" text-anchor="end" font-family="Liberation Serif" font-weight="bold">20</text>
<text x="163.37" y="784.15" font-size="39" text-anchor="end" font-family="Liberation Serif" font-weight="bold">0</text>
<text x="167.97" y="876.55" font-size="39" text-anchor="end" font-family="Liberation Serif" font-weight="bold">100</text>
<text x="161.77" y="941.35" font-size="39" text-anchor="end" font-family="Liberation Serif" font-weight="bold">80</text>
<text x="163.07" y="1003.35" font-size="39" text-anchor="end" font-family="Liberation Serif" font-weight="bold">60</text>
<text x="161.77" y="1063.55" font-size="39" text-anchor="end" font-family="Liberation Serif" font-weight="bold">40</text>
<text x="161.77" y="1120.05" font-size="39" text-anchor="end" font-family="Liberation Serif" font-weight="bold">20</text>
<text x="163.37" y="1183.95" font-size="39" text-anchor="end" font-family="Liberation Serif" font-weight="bold">0</text>
<text transform="translate(214.6,1251) scale(0.962,1)" font-size="40" text-anchor="middle" font-family="Liberation Serif" font-weight="bold">100</text>
<text transform="translate(335.0,1251) scale(0.962,1)" font-size="40" text-anchor="middle" font-family="Liberation Serif" font-weight="bold">200</text>
<text transform="translate(455.7,1251) scale(0.962,1)" font-size="40" text-anchor="middle" font-family="Liberation Serif" font-weight="bold">300</text>
<text transform="translate(576.3,1251) scale(0.962,1)" font-size="40" text-anchor="middle" font-family="Liberation Serif" font-weight="bold">400</text>
<text transform="translate(698.2,1251) scale(0.962,1)" font-size="40" text-anchor="middle" font-family="Liberation Serif" font-weight="bold">500</text>
<text x="465.6" y="1310.3" font-size="45" text-anchor="middle" font-family="Liberation Serif" font-weight="bold">T (°C)</text>
<text transform="translate(59.8,619.6) rotate(-90)" font-size="49.7" text-anchor="middle" font-family="Liberation Serif" font-weight="bold">Residual mass (%)</text>
<text x="226.60000000000002" y="227.6" font-size="37" letter-spacing="1" font-family="Liberation Serif" font-weight="bold">(a)</text>
<text x="226.20000000000002" y="632.2" font-size="37" letter-spacing="1" font-family="Liberation Serif" font-weight="bold">(b)</text>
<text x="226.60000000000002" y="1039.2" font-size="37" letter-spacing="1" font-family="Liberation Serif" font-weight="bold">(c)</text>
<text x="274.5" y="1158.9" font-size="30" letter-spacing="0.3" font-family="Liberation Serif" font-weight="bold">242°C</text>
<text x="410" y="1149.7" font-size="30" letter-spacing="0.3" font-family="Liberation Serif" font-weight="bold">257°C</text>
<text x="502.9" y="1166.8" font-size="30" letter-spacing="0.3" font-family="Liberation Serif" font-weight="bold">337°C</text>
<defs><marker id="ah" markerWidth="9" markerHeight="7" refX="8.5" refY="3.5" orient="auto" markerUnits="userSpaceOnUse"><path d="M0,0.4 L9,3.5 L0,6.6 Z" fill="#000"/></marker></defs>
<line x1="326.1" y1="1168.5" x2="382.3" y2="1196.6" stroke="#000" stroke-width="1.4" marker-end="url(#ah)"/>
<line x1="435.8" y1="1161.2" x2="405.4" y2="1198.6" stroke="#000" stroke-width="1.4" marker-end="url(#ah)"/>
<line x1="517.1" y1="1176.1" x2="498.6" y2="1198.6" stroke="#000" stroke-width="1.4" marker-end="url(#ah)"/>
<rect x="731.4" y="108.60" width="49.20" height="4.6" fill="#000000"/>
<rect x="731.4" y="143.20" width="49.20" height="4.6" fill="#ff0000"/>
<rect x="731.4" y="178.00" width="49.20" height="4.6" fill="#0000ff"/>
<rect x="731.6" y="212.00" width="49.20" height="4.6" fill="#006666"/>
<rect x="731" y="250.70" width="50.00" height="4.6" fill="#ff00ff"/>
<rect x="731.9" y="287.00" width="49.10" height="4.6" fill="#6b8a35"/>
<rect x="729.9" y="325.10" width="50.10" height="4.6" fill="#000066"/>
<rect x="731" y="362.00" width="50.00" height="4.6" fill="#ed7d31"/>
<text x="795.7" y="116.6" font-size="27.35" font-family="Liberation Serif" font-weight="bold">N<tspan font-size="18.3" dy="7.2">3</tspan><tspan dy="-7.2" font-size="27.35">-PCL</tspan><tspan font-size="18.3" dy="7.2">20</tspan><tspan dy="-7.2" font-size="27.35">-OH</tspan></text>
<text x="795.7" y="155.7" font-size="27.35" font-family="Liberation Serif" font-weight="bold">N<tspan font-size="18.3" dy="7.2">3</tspan><tspan dy="-7.2" font-size="27.35">-PCL</tspan><tspan font-size="18.3" dy="7.2">30</tspan><tspan dy="-7.2" font-size="27.35">-OH</tspan></text>
<text x="797.7" y="189.3" font-size="27.35" font-family="Liberation Serif" font-weight="bold">N<tspan font-size="18.3" dy="7.2">3</tspan><tspan dy="-7.2" font-size="27.35">-PCL</tspan><tspan font-size="18.3" dy="7.2">50</tspan><tspan dy="-7.2" font-size="27.35">-OH</tspan></text>
<text x="797.5" y="224.5" font-size="27.35" font-family="Liberation Serif" font-weight="bold">N<tspan font-size="18.3" dy="7.2">3</tspan><tspan dy="-7.2" font-size="27.35">-PCL</tspan><tspan font-size="18.3" dy="7.2">70</tspan><tspan dy="-7.2" font-size="27.35">-OH</tspan></text>
<text x="801.9" y="259.6" font-size="27.35" font-family="Liberation Serif" font-weight="bold">N<tspan font-size="18.3" dy="7.2">3</tspan><tspan dy="-7.2" font-size="27.35">-PCL</tspan><tspan font-size="18.3" dy="7.2">90</tspan><tspan dy="-7.2" font-size="27.35">-OH</tspan></text>
<text x="802.5" y="295.3" font-size="27.35" font-family="Liberation Serif" font-weight="bold">N<tspan font-size="18.3" dy="7.2">3</tspan><tspan dy="-7.2" font-size="27.35">-PCL</tspan><tspan font-size="18.3" dy="7.2">100</tspan><tspan dy="-7.2" font-size="27.35">-OH</tspan></text>
<text x="799.8" y="334.9" font-size="27.35" font-family="Liberation Serif" font-weight="bold">N<tspan font-size="18.3" dy="7.2">3</tspan><tspan dy="-7.2" font-size="27.35">-PCL</tspan><tspan font-size="18.3" dy="7.2">150</tspan><tspan dy="-7.2" font-size="27.35">-OH</tspan></text>
<text x="799.8" y="376.5" font-size="27.35" font-family="Liberation Serif" font-weight="bold">N<tspan font-size="18.3" dy="7.2">3</tspan><tspan dy="-7.2" font-size="27.35">-PCL</tspan><tspan font-size="18.3" dy="7.2">200</tspan><tspan dy="-7.2" font-size="27.35">-OH</tspan></text>
<rect x="735.6" y="489.60" width="49.90" height="4.6" fill="#000000"/>
<rect x="735.4" y="523.90" width="49.90" height="4.6" fill="#ff0000"/>
<rect x="735.4" y="559.30" width="49.90" height="4.6" fill="#0000ff"/>
<rect x="735.6" y="592.90" width="49.90" height="4.6" fill="#006666"/>
<rect x="735" y="631.50" width="50.20" height="4.6" fill="#ff00ff"/>
<rect x="735.6" y="667.90" width="49.60" height="4.6" fill="#6b8a35"/>
<rect x="734.1" y="706.30" width="49.90" height="4.6" fill="#000066"/>
<rect x="735" y="742.90" width="50.00" height="4.6" fill="#ed7d31"/>
<text x="799.1" y="499.1" font-size="27.35" font-family="Liberation Serif" font-weight="bold">N<tspan font-size="18.3" dy="7.2">3</tspan><tspan dy="-7.2" font-size="27.35">-PCL</tspan><tspan font-size="18.3" dy="7.2">20</tspan><tspan dy="-7.2" font-size="27.35">-C</tspan></text><rect x="938.30" y="487.35" width="15.6" height="1.9" fill="#000"/><rect x="938.30" y="490.75" width="15.6" height="1.9" fill="#000"/><rect x="938.30" y="494.25" width="15.6" height="1.9" fill="#000"/><text x="954.35" y="499.1" font-size="27.35" font-family="Liberation Serif" font-weight="bold">CH</text>
<text x="799.1" y="536.7" font-size="27.35" font-family="Liberation Serif" font-weight="bold">N<tspan font-size="18.3" dy="7.2">3</tspan><tspan dy="-7.2" font-size="27.35">-PCL</tspan><tspan font-size="18.3" dy="7.2">30</tspan><tspan dy="-7.2" font-size="27.35">-C</tspan></text><rect x="938.30" y="524.95" width="15.6" height="1.9" fill="#000"/><rect x="938.30" y="528.35" width="15.6" height="1.9" fill="#000"/><rect x="938.30" y="531.85" width="15.6" height="1.9" fill="#000"/><text x="954.35" y="536.7" font-size="27.35" font-family="Liberation Serif" font-weight="bold">CH</text>
<text x="799.1" y="568.5" font-size="27.35" font-family="Liberation Serif" font-weight="bold">N<tspan font-size="18.3" dy="7.2">3</tspan><tspan dy="-7.2" font-size="27.35">-PCL</tspan><tspan font-size="18.3" dy="7.2">50</tspan><tspan dy="-7.2" font-size="27.35">-C</tspan></text><rect x="938.30" y="556.75" width="15.6" height="1.9" fill="#000"/><rect x="938.30" y="560.15" width="15.6" height="1.9" fill="#000"/><rect x="938.30" y="563.65" width="15.6" height="1.9" fill="#000"/><text x="954.35" y="568.5" font-size="27.35" font-family="Liberation Serif" font-weight="bold">CH</text>
<text x="799.1" y="606.6" font-size="27.35" font-family="Liberation Serif" font-weight="bold">N<tspan font-size="18.3" dy="7.2">3</tspan><tspan dy="-7.2" font-size="27.35">-PCL</tspan><tspan font-size="18.3" dy="7.2">70</tspan><tspan dy="-7.2" font-size="27.35">-C</tspan></text><rect x="938.30" y="594.85" width="15.6" height="1.9" fill="#000"/><rect x="938.30" y="598.25" width="15.6" height="1.9" fill="#000"/><rect x="938.30" y="601.75" width="15.6" height="1.9" fill="#000"/><text x="954.35" y="606.6" font-size="27.35" font-family="Liberation Serif" font-weight="bold">CH</text>
<text x="799.1" y="644.6" font-size="27.35" font-family="Liberation Serif" font-weight="bold">N<tspan font-size="18.3" dy="7.2">3</tspan><tspan dy="-7.2" font-size="27.35">-PCL</tspan><tspan font-size="18.3" dy="7.2">90</tspan><tspan dy="-7.2" font-size="27.35">-C</tspan></text><rect x="938.30" y="632.85" width="15.6" height="1.9" fill="#000"/><rect x="938.30" y="636.25" width="15.6" height="1.9" fill="#000"/><rect x="938.30" y="639.75" width="15.6" height="1.9" fill="#000"/><text x="954.35" y="644.6" font-size="27.35" font-family="Liberation Serif" font-weight="bold">CH</text>
<text x="798.8" y="683.1" font-size="27.35" font-family="Liberation Serif" font-weight="bold">N<tspan font-size="18.3" dy="7.2">3</tspan><tspan dy="-7.2" font-size="27.35">-PCL</tspan><tspan font-size="18.3" dy="7.2">100</tspan><tspan dy="-7.2" font-size="27.35">-C</tspan></text><rect x="947.16" y="671.35" width="15.6" height="1.9" fill="#000"/><rect x="947.16" y="674.75" width="15.6" height="1.9" fill="#000"/><rect x="947.16" y="678.25" width="15.6" height="1.9" fill="#000"/><text x="963.21" y="683.1" font-size="27.35" font-family="Liberation Serif" font-weight="bold">CH</text>
<text x="798.8" y="717.6" font-size="27.35" font-family="Liberation Serif" font-weight="bold">N<tspan font-size="18.3" dy="7.2">3</tspan><tspan dy="-7.2" font-size="27.35">-PCL</tspan><tspan font-size="18.3" dy="7.2">150</tspan><tspan dy="-7.2" font-size="27.35">-C</tspan></text><rect x="947.16" y="705.85" width="15.6" height="1.9" fill="#000"/><rect x="947.16" y="709.25" width="15.6" height="1.9" fill="#000"/><rect x="947.16" y="712.75" width="15.6" height="1.9" fill="#000"/><text x="963.21" y="717.6" font-size="27.35" font-family="Liberation Serif" font-weight="bold">CH</text>
<text x="798.8" y="753" font-size="27.35" font-family="Liberation Serif" font-weight="bold">N<tspan font-size="18.3" dy="7.2">3</tspan><tspan dy="-7.2" font-size="27.35">-PCL</tspan><tspan font-size="18.3" dy="7.2">200</tspan><tspan dy="-7.2" font-size="27.35">-C</tspan></text><rect x="947.16" y="741.25" width="15.6" height="1.9" fill="#000"/><rect x="947.16" y="744.65" width="15.6" height="1.9" fill="#000"/><rect x="947.16" y="748.15" width="15.6" height="1.9" fill="#000"/><text x="963.21" y="753" font-size="27.35" font-family="Liberation Serif" font-weight="bold">CH</text>
<rect x="733.9" y="909.70" width="49.60" height="4.6" fill="#000000"/>
<rect x="733.3" y="944.40" width="49.70" height="4.6" fill="#ff0000"/>
<rect x="733.3" y="979.20" width="49.70" height="4.6" fill="#0000ff"/>
<rect x="733.9" y="1013.40" width="49.40" height="4.6" fill="#006666"/>
<rect x="733.3" y="1051.20" width="49.70" height="4.6" fill="#ff00ff"/>
<rect x="733.9" y="1088.60" width="49.10" height="4.6" fill="#6b8a35"/>
<rect x="732.2" y="1126.50" width="49.80" height="4.6" fill="#000066"/>
<rect x="733.3" y="1163.50" width="49.70" height="4.6" fill="#ed7d31"/>
<text x="805.0" y="917.8" font-size="27.35" font-family="Liberation Serif" font-weight="bold"><tspan font-style="italic">c</tspan>-PCL<tspan font-size="18.3" dy="7.2">20</tspan><tspan dy="-7.2" font-size="27.35"></tspan></text>
<text x="802.9" y="953.1" font-size="27.35" font-family="Liberation Serif" font-weight="bold"><tspan font-style="italic">c</tspan>-PCL<tspan font-size="18.3" dy="7.2">30</tspan><tspan dy="-7.2" font-size="27.35"></tspan></text>
<text x="804.0" y="986.2" font-size="27.35" font-family="Liberation Serif" font-weight="bold"><tspan font-style="italic">c</tspan>-PCL<tspan font-size="18.3" dy="7.2">50</tspan><tspan dy="-7.2" font-size="27.35"></tspan></text>
<text x="801.4" y="1020.9" font-size="27.35" font-family="Liberation Serif" font-weight="bold"><tspan font-style="italic">c</tspan>-PCL<tspan font-size="18.3" dy="7.2">70</tspan><tspan dy="-7.2" font-size="27.35"></tspan></text>
<text x="803.5" y="1059.3" font-size="27.35" font-family="Liberation Serif" font-weight="bold"><tspan font-style="italic">c</tspan>-PCL<tspan font-size="18.3" dy="7.2">90</tspan><tspan dy="-7.2" font-size="27.35"></tspan></text>
<text x="802.5" y="1094.1" font-size="27.35" font-family="Liberation Serif" font-weight="bold"><tspan font-style="italic">c</tspan>-PCL<tspan font-size="18.3" dy="7.2">100</tspan><tspan dy="-7.2" font-size="27.35"></tspan></text>
<text x="803.5" y="1132.6" font-size="27.35" font-family="Liberation Serif" font-weight="bold"><tspan font-style="italic">c</tspan>-PCL<tspan font-size="18.3" dy="7.2">150</tspan><tspan dy="-7.2" font-size="27.35"></tspan></text>
<text x="802.5" y="1173.7" font-size="27.35" font-family="Liberation Serif" font-weight="bold"><tspan font-style="italic">c</tspan>-PCL<tspan font-size="18.3" dy="7.2">200</tspan><tspan dy="-7.2" font-size="27.35"></tspan></text>
</svg>
</body></html>
